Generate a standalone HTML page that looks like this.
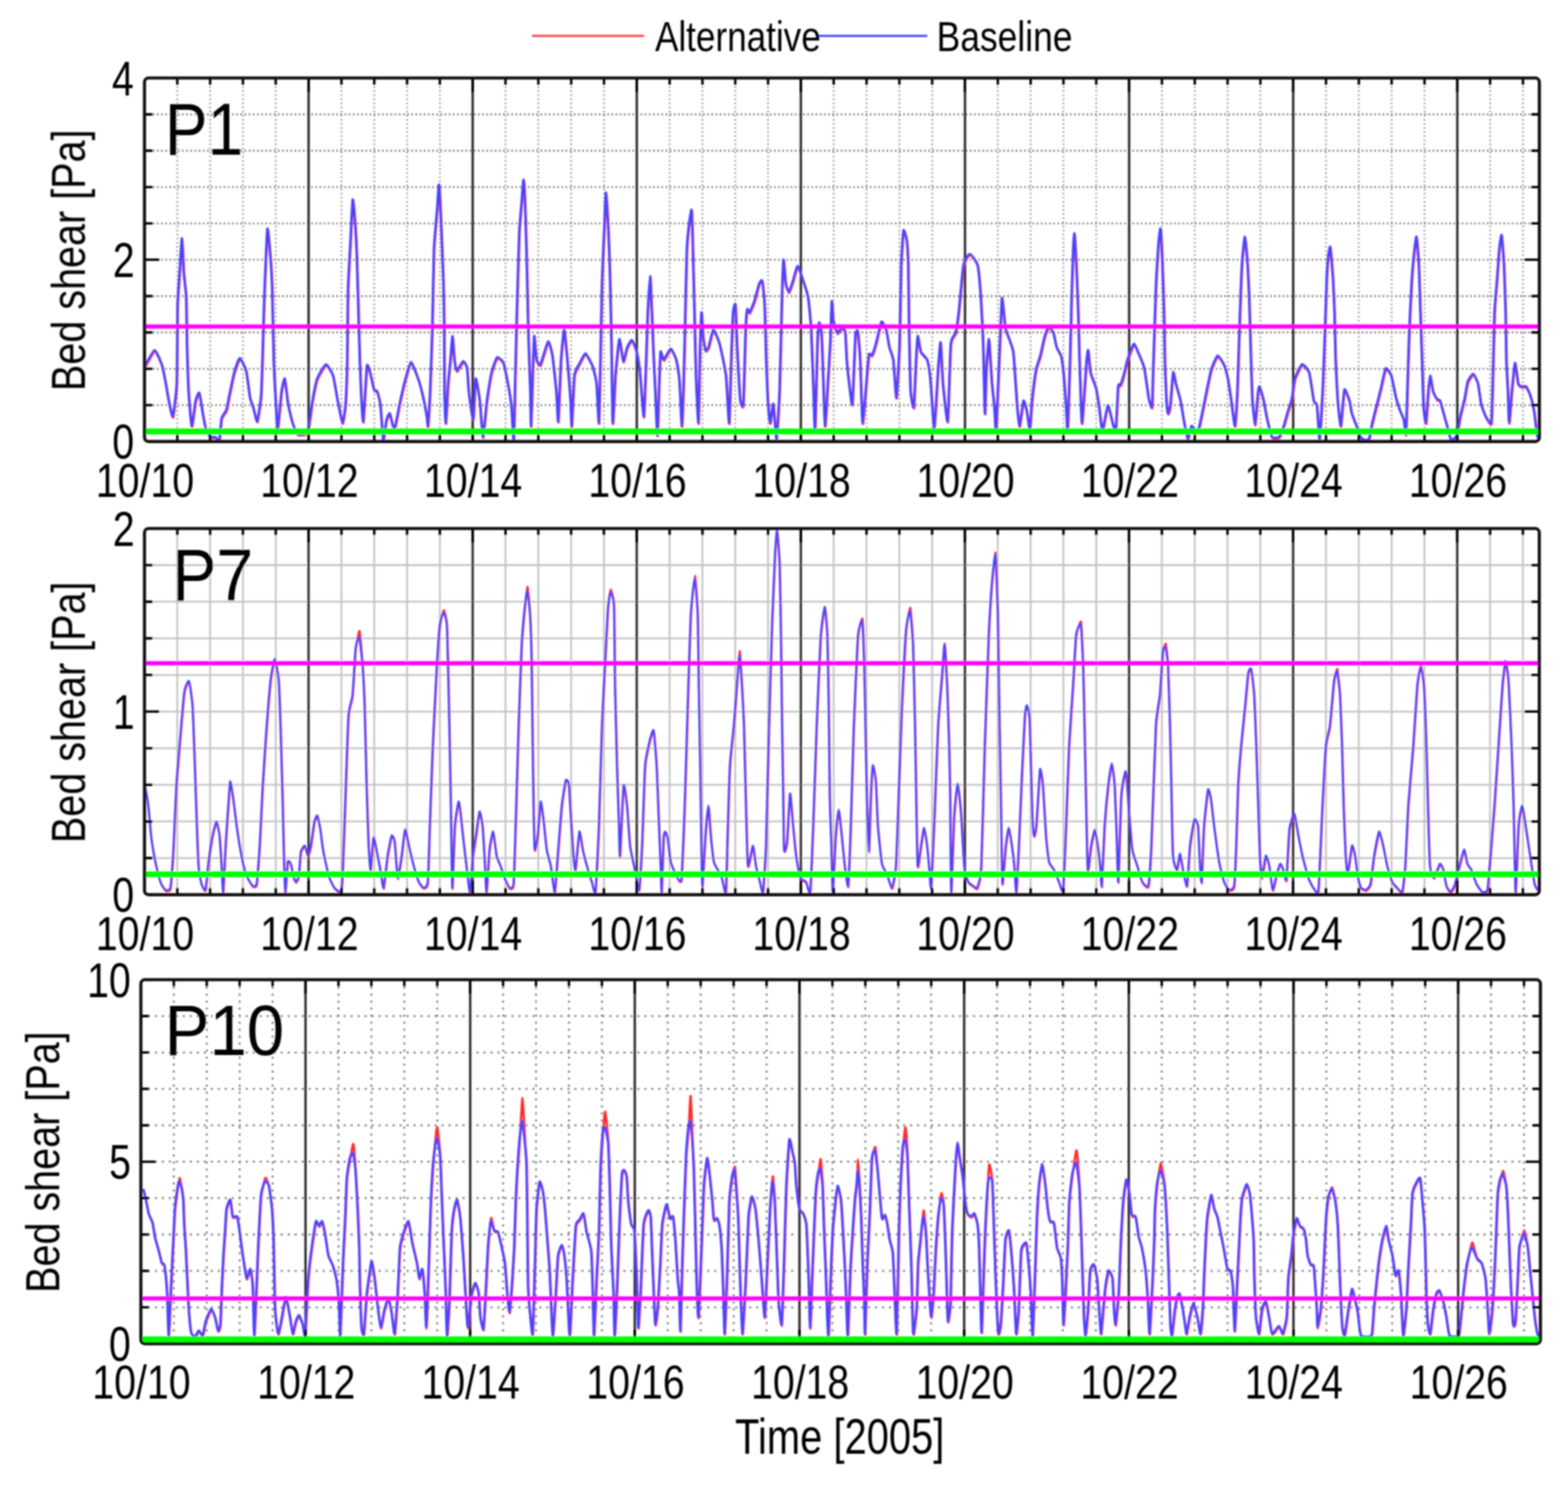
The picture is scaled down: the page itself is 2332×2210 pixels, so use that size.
<!DOCTYPE html>
<html><head><meta charset="utf-8"><title>Bed shear time series</title>
<style>html,body{margin:0;padding:0;background:#fff;}svg{display:block;}</style>
</head><body>
<svg xmlns="http://www.w3.org/2000/svg" width="2332" height="2210" viewBox="0 0 2332 2210">
<rect width="2332" height="2210" fill="#fff"/>
<defs><filter id="soft" x="0" y="0" width="2332" height="2210" filterUnits="userSpaceOnUse"><feGaussianBlur stdDeviation="0.8"/></filter></defs>
<g filter="url(#soft)">
<line x1="791" y1="53.4" x2="958" y2="53.4" stroke="#ff4848" stroke-width="3.4"/>
<line x1="1216" y1="53.4" x2="1379" y2="53.4" stroke="#4848ff" stroke-width="3.4"/>
<text transform="matrix(0.8381 0 0 1 974.20 75.98)" font-family='"Liberation Sans", Arial, sans-serif' font-size="62.26" fill="#000" >Alternative</text>
<text transform="matrix(0.8323 0 0 1 1393.09 76.27)" font-family='"Liberation Sans", Arial, sans-serif' font-size="63.22" fill="#000" >Baseline</text>
<line x1="214.9" y1="602.5" x2="2289.4" y2="602.5" stroke="#747474" stroke-width="2.6" stroke-dasharray="2.4 3.8"/>
<line x1="214.9" y1="548.5" x2="2289.4" y2="548.5" stroke="#747474" stroke-width="2.6" stroke-dasharray="2.4 3.8"/>
<line x1="214.9" y1="494.4" x2="2289.4" y2="494.4" stroke="#747474" stroke-width="2.6" stroke-dasharray="2.4 3.8"/>
<line x1="214.9" y1="440.4" x2="2289.4" y2="440.4" stroke="#747474" stroke-width="2.6" stroke-dasharray="2.4 3.8"/>
<line x1="214.9" y1="386.3" x2="2289.4" y2="386.3" stroke="#747474" stroke-width="2.6" stroke-dasharray="2.4 3.8"/>
<line x1="214.9" y1="332.2" x2="2289.4" y2="332.2" stroke="#747474" stroke-width="2.6" stroke-dasharray="2.4 3.8"/>
<line x1="214.9" y1="278.2" x2="2289.4" y2="278.2" stroke="#747474" stroke-width="2.6" stroke-dasharray="2.4 3.8"/>
<line x1="214.9" y1="224.1" x2="2289.4" y2="224.1" stroke="#747474" stroke-width="2.6" stroke-dasharray="2.4 3.8"/>
<line x1="214.9" y1="170.1" x2="2289.4" y2="170.1" stroke="#747474" stroke-width="2.6" stroke-dasharray="2.4 3.8"/>
<line x1="263.7" y1="116" x2="263.7" y2="656.6" stroke="#8c8c8c" stroke-width="2.4" stroke-dasharray="2.2 3.9"/>
<line x1="312.5" y1="116" x2="312.5" y2="656.6" stroke="#8c8c8c" stroke-width="2.4" stroke-dasharray="2.2 3.9"/>
<line x1="361.3" y1="116" x2="361.3" y2="656.6" stroke="#8c8c8c" stroke-width="2.4" stroke-dasharray="2.2 3.9"/>
<line x1="410.1" y1="116" x2="410.1" y2="656.6" stroke="#8c8c8c" stroke-width="2.4" stroke-dasharray="2.2 3.9"/>
<line x1="507.8" y1="116" x2="507.8" y2="656.6" stroke="#8c8c8c" stroke-width="2.4" stroke-dasharray="2.2 3.9"/>
<line x1="556.6" y1="116" x2="556.6" y2="656.6" stroke="#8c8c8c" stroke-width="2.4" stroke-dasharray="2.2 3.9"/>
<line x1="605.4" y1="116" x2="605.4" y2="656.6" stroke="#8c8c8c" stroke-width="2.4" stroke-dasharray="2.2 3.9"/>
<line x1="654.2" y1="116" x2="654.2" y2="656.6" stroke="#8c8c8c" stroke-width="2.4" stroke-dasharray="2.2 3.9"/>
<line x1="751.8" y1="116" x2="751.8" y2="656.6" stroke="#8c8c8c" stroke-width="2.4" stroke-dasharray="2.2 3.9"/>
<line x1="800.6" y1="116" x2="800.6" y2="656.6" stroke="#8c8c8c" stroke-width="2.4" stroke-dasharray="2.2 3.9"/>
<line x1="849.5" y1="116" x2="849.5" y2="656.6" stroke="#8c8c8c" stroke-width="2.4" stroke-dasharray="2.2 3.9"/>
<line x1="898.3" y1="116" x2="898.3" y2="656.6" stroke="#8c8c8c" stroke-width="2.4" stroke-dasharray="2.2 3.9"/>
<line x1="995.9" y1="116" x2="995.9" y2="656.6" stroke="#8c8c8c" stroke-width="2.4" stroke-dasharray="2.2 3.9"/>
<line x1="1044.7" y1="116" x2="1044.7" y2="656.6" stroke="#8c8c8c" stroke-width="2.4" stroke-dasharray="2.2 3.9"/>
<line x1="1093.5" y1="116" x2="1093.5" y2="656.6" stroke="#8c8c8c" stroke-width="2.4" stroke-dasharray="2.2 3.9"/>
<line x1="1142.3" y1="116" x2="1142.3" y2="656.6" stroke="#8c8c8c" stroke-width="2.4" stroke-dasharray="2.2 3.9"/>
<line x1="1239.9" y1="116" x2="1239.9" y2="656.6" stroke="#8c8c8c" stroke-width="2.4" stroke-dasharray="2.2 3.9"/>
<line x1="1288.8" y1="116" x2="1288.8" y2="656.6" stroke="#8c8c8c" stroke-width="2.4" stroke-dasharray="2.2 3.9"/>
<line x1="1337.6" y1="116" x2="1337.6" y2="656.6" stroke="#8c8c8c" stroke-width="2.4" stroke-dasharray="2.2 3.9"/>
<line x1="1386.4" y1="116" x2="1386.4" y2="656.6" stroke="#8c8c8c" stroke-width="2.4" stroke-dasharray="2.2 3.9"/>
<line x1="1484" y1="116" x2="1484" y2="656.6" stroke="#8c8c8c" stroke-width="2.4" stroke-dasharray="2.2 3.9"/>
<line x1="1532.8" y1="116" x2="1532.8" y2="656.6" stroke="#8c8c8c" stroke-width="2.4" stroke-dasharray="2.2 3.9"/>
<line x1="1581.6" y1="116" x2="1581.6" y2="656.6" stroke="#8c8c8c" stroke-width="2.4" stroke-dasharray="2.2 3.9"/>
<line x1="1630.4" y1="116" x2="1630.4" y2="656.6" stroke="#8c8c8c" stroke-width="2.4" stroke-dasharray="2.2 3.9"/>
<line x1="1728.1" y1="116" x2="1728.1" y2="656.6" stroke="#8c8c8c" stroke-width="2.4" stroke-dasharray="2.2 3.9"/>
<line x1="1776.9" y1="116" x2="1776.9" y2="656.6" stroke="#8c8c8c" stroke-width="2.4" stroke-dasharray="2.2 3.9"/>
<line x1="1825.7" y1="116" x2="1825.7" y2="656.6" stroke="#8c8c8c" stroke-width="2.4" stroke-dasharray="2.2 3.9"/>
<line x1="1874.5" y1="116" x2="1874.5" y2="656.6" stroke="#8c8c8c" stroke-width="2.4" stroke-dasharray="2.2 3.9"/>
<line x1="1972.1" y1="116" x2="1972.1" y2="656.6" stroke="#8c8c8c" stroke-width="2.4" stroke-dasharray="2.2 3.9"/>
<line x1="2020.9" y1="116" x2="2020.9" y2="656.6" stroke="#8c8c8c" stroke-width="2.4" stroke-dasharray="2.2 3.9"/>
<line x1="2069.7" y1="116" x2="2069.7" y2="656.6" stroke="#8c8c8c" stroke-width="2.4" stroke-dasharray="2.2 3.9"/>
<line x1="2118.6" y1="116" x2="2118.6" y2="656.6" stroke="#8c8c8c" stroke-width="2.4" stroke-dasharray="2.2 3.9"/>
<line x1="2216.2" y1="116" x2="2216.2" y2="656.6" stroke="#8c8c8c" stroke-width="2.4" stroke-dasharray="2.2 3.9"/>
<line x1="2265" y1="116" x2="2265" y2="656.6" stroke="#8c8c8c" stroke-width="2.4" stroke-dasharray="2.2 3.9"/>
<line x1="459" y1="116" x2="459" y2="656.6" stroke="#2a2a2a" stroke-width="3.5"/>
<line x1="703" y1="116" x2="703" y2="656.6" stroke="#2a2a2a" stroke-width="3.5"/>
<line x1="947.1" y1="116" x2="947.1" y2="656.6" stroke="#2a2a2a" stroke-width="3.5"/>
<line x1="1191.1" y1="116" x2="1191.1" y2="656.6" stroke="#2a2a2a" stroke-width="3.5"/>
<line x1="1435.2" y1="116" x2="1435.2" y2="656.6" stroke="#2a2a2a" stroke-width="3.5"/>
<line x1="1679.3" y1="116" x2="1679.3" y2="656.6" stroke="#2a2a2a" stroke-width="3.5"/>
<line x1="1923.3" y1="116" x2="1923.3" y2="656.6" stroke="#2a2a2a" stroke-width="3.5"/>
<line x1="2167.4" y1="116" x2="2167.4" y2="656.6" stroke="#2a2a2a" stroke-width="3.5"/>
<path d="M215.6,546.6C216.8,544.6 228.4,522.7 230.5,522.4C232.6,522.1 239.8,540.0 241.1,543.5C242.4,547.0 244.9,560.1 245.8,564.6C246.7,569.1 250.6,592.7 251.6,597.4C252.6,602.1 256.5,623.0 257.5,620.9C258.5,618.8 262.8,585.5 263.4,571.6C264.0,557.7 264.2,468.7 264.6,454.4C265.0,440.1 267.6,408.7 268.1,400.5C268.6,392.3 270.6,355.3 271.1,355.9C271.6,356.5 273.4,400.3 273.9,407.5C274.4,414.7 277.0,433.8 277.4,442.6C277.8,451.4 278.3,501.3 278.6,513.0C278.9,524.7 280.4,573.2 281.0,583.4C281.6,593.6 284.7,633.8 285.6,635.0C286.5,636.2 290.6,601.6 291.5,597.5C292.4,593.4 296.0,584.1 296.9,585.7C297.8,587.3 301.3,611.7 302.1,616.2C302.9,620.7 305.8,636.7 306.8,639.6C307.8,642.5 312.6,650.4 313.8,651.4C315.0,652.4 319.7,651.0 320.8,651.4C321.9,651.8 325.9,658.5 326.7,656.1C327.5,653.8 329.3,626.9 330.2,623.2C331.1,619.5 336.2,614.4 337.2,611.5C338.2,608.6 340.9,592.8 341.9,588.1C342.9,583.4 347.7,559.7 349.0,555.2C350.3,550.7 355.7,534.3 357.2,534.1C358.7,533.9 365.3,548.0 366.6,552.9C367.9,557.8 371.5,588.3 372.4,592.8C373.3,597.3 376.2,603.9 377.1,606.8C378.0,609.7 382.0,629.3 383.0,627.9C384.0,626.5 388.1,599.0 388.8,590.4C389.5,581.8 390.8,537.1 391.2,524.8C391.6,512.5 393.0,457.9 393.6,442.6C394.2,427.4 397.4,346.5 398.2,341.8C399.0,337.1 402.3,379.0 402.9,386.4C403.5,393.8 404.9,418.4 405.3,430.9C405.7,443.4 407.1,521.8 407.6,536.5C408.1,551.2 410.6,598.2 411.1,606.8C411.6,615.4 412.8,641.6 413.5,639.6C414.2,637.6 418.4,589.6 419.3,583.4C420.2,577.1 423.2,563.2 424.0,564.6C424.8,566.0 427.7,594.3 428.7,599.8C429.7,605.3 434.5,626.4 435.7,630.3C436.9,634.2 441.2,645.3 442.8,646.7C444.4,648.1 453.1,647.3 454.5,646.7C455.9,646.1 458.3,643.7 459.2,639.6C460.1,635.5 464.2,603.8 465.3,597.5C466.4,591.2 470.6,569.1 472.3,564.6C474.0,560.1 483.2,543.9 485.2,543.5C487.2,543.1 494.3,555.4 495.8,559.9C497.3,564.4 501.6,591.6 502.8,597.5C504.0,603.4 508.8,629.9 509.8,630.3C510.8,630.7 513.9,609.9 514.5,602.1C515.1,594.3 516.6,550.8 516.9,536.5C517.2,522.2 517.8,444.6 518.1,430.9C518.5,417.2 520.5,383.3 521.1,372.3C521.7,361.3 524.5,301.7 525.1,298.4C525.7,295.1 528.1,325.9 528.6,332.4C529.1,339.0 530.6,366.8 531.0,377.0C531.4,387.2 532.9,441.1 533.3,454.4C533.7,467.7 535.2,524.8 535.6,536.5C536.0,548.2 537.6,587.5 538.0,595.1C538.4,602.7 540.1,632.0 540.8,627.9C541.5,623.8 545.4,552.0 546.2,545.9C547.0,539.8 550.0,552.3 550.9,555.2C551.8,558.1 555.9,578.6 556.8,581.0C557.7,583.4 560.6,581.6 561.4,583.4C562.2,585.2 565.4,596.6 566.1,602.1C566.8,607.6 569.3,644.5 569.7,649.0C570.1,653.5 570.3,658.1 570.8,656.1C571.3,654.1 574.7,628.9 575.5,625.6C576.3,622.3 579.4,615.4 580.2,616.2C581.0,617.0 584.2,633.4 584.9,635.0C585.6,636.6 587.5,637.9 588.4,635.0C589.3,632.1 594.1,605.7 595.4,599.8C596.7,593.9 602.3,569.6 603.7,564.6C605.1,559.6 610.3,540.0 611.9,540.0C613.5,540.0 620.9,560.4 622.4,564.6C623.9,568.8 628.4,585.7 629.5,590.4C630.6,595.1 634.7,617.2 635.3,620.9C635.9,624.6 636.6,637.7 637.0,635.0C637.4,632.3 639.5,600.2 640.0,588.1C640.5,576.0 643.0,507.6 643.5,489.6C644.0,471.6 645.3,387.0 645.9,372.3C646.5,357.6 650.0,321.7 650.6,313.7C651.2,305.7 652.9,274.8 653.4,276.2C653.9,277.6 655.9,318.2 656.4,330.1C656.9,342.0 659.5,405.9 659.9,419.2C660.3,432.5 661.0,475.5 661.1,489.6C661.2,503.7 661.4,576.4 661.6,588.1C661.8,599.8 663.0,631.7 663.5,630.3C664.0,628.9 666.4,579.4 667.0,571.6C667.6,563.8 670.0,542.4 670.5,536.5C671.0,530.6 673.0,501.3 673.5,501.3C674.0,501.3 675.9,532.2 676.4,536.5C676.9,540.8 678.8,552.7 679.9,552.9C681.0,553.1 688.0,539.2 689.3,538.8C690.6,538.4 694.4,544.7 695.1,548.2C695.8,551.7 696.9,575.3 697.5,581.0C698.1,586.7 701.6,612.7 702.2,616.2C702.8,619.7 704.0,627.5 704.5,623.2C705.0,618.9 707.2,566.7 708.0,564.6C708.8,562.5 713.2,590.3 714.1,597.5C715.0,604.7 717.9,651.4 718.8,651.4C719.7,651.4 723.6,605.5 724.7,597.5C725.8,589.5 730.4,560.6 731.7,555.2C733.0,549.8 738.4,534.2 739.9,533.0C741.4,531.8 747.9,537.8 749.3,541.2C750.7,544.6 755.3,568.7 756.3,574.0C757.3,579.3 760.3,597.7 761.0,604.5C761.7,611.3 764.0,659.8 764.5,656.1C765.0,652.4 766.5,575.7 766.9,559.9C767.3,544.1 768.7,483.7 769.2,466.1C769.7,448.5 772.1,362.6 772.7,348.9C773.3,335.2 775.8,308.6 776.3,302.0C776.9,295.4 778.8,267.2 779.3,269.1C779.8,271.1 781.7,313.3 782.1,325.4C782.5,337.5 784.2,400.8 784.5,414.5C784.8,428.2 785.7,475.5 786.1,489.6C786.5,503.7 788.9,571.3 789.2,583.4C789.6,595.5 790.0,637.0 790.3,635.0C790.6,633.0 792.3,571.0 792.7,559.9C793.1,548.8 794.5,503.2 795.0,501.3C795.5,499.4 797.7,533.0 798.5,536.5C799.3,540.0 803.0,545.8 804.4,543.5C805.8,541.2 814.2,510.7 815.7,509.5C817.2,508.3 821.0,523.3 822.0,529.5C823.0,535.7 827.2,575.2 827.9,583.4C828.6,591.6 830.1,631.8 830.7,627.9C831.3,624.0 834.2,547.8 834.9,536.5C835.6,525.2 838.8,491.9 839.6,491.9C840.4,491.9 843.5,527.9 844.3,536.5C845.1,545.1 848.5,586.9 849.0,595.1C849.5,603.3 850.3,637.9 850.8,635.0C851.3,632.1 853.8,567.7 854.8,559.9C855.8,552.1 861.6,543.9 863.0,541.2C864.4,538.5 869.6,526.7 871.2,527.1C872.8,527.5 880.4,542.2 881.8,545.9C883.2,549.6 886.9,564.6 887.7,571.6C888.5,578.6 890.7,633.2 891.2,630.3C891.7,627.4 893.1,554.1 893.5,536.5C893.9,518.9 895.4,435.8 895.9,419.2C896.4,402.6 898.9,348.0 899.4,337.1C899.9,326.2 901.2,287.3 901.7,287.9C902.2,288.5 904.8,334.2 905.3,344.2C905.8,354.2 907.2,393.4 907.6,407.5C908.0,421.6 909.5,494.4 909.9,513.0C910.2,531.6 911.3,626.4 911.8,630.3C912.3,634.2 915.0,570.3 915.8,559.9C916.6,549.5 920.7,507.8 921.7,506.0C922.7,504.2 926.5,537.8 927.5,538.8C928.5,539.8 932.3,520.3 933.4,517.7C934.5,515.1 939.2,506.6 940.4,507.2C941.6,507.8 946.5,520.8 947.5,524.8C948.5,528.8 951.3,547.2 952.2,555.2C953.1,563.2 957.2,622.5 958.0,620.9C958.8,619.3 961.0,549.4 961.5,536.5C962.0,523.6 963.4,476.5 963.9,466.1C964.4,455.7 966.9,412.2 967.4,412.2C967.9,412.2 969.6,456.7 970.0,466.1C970.4,475.5 971.9,515.0 972.3,524.8C972.7,534.6 974.6,573.0 975.1,583.4C975.6,593.8 977.8,649.0 978.2,649.0C978.7,649.0 980.1,593.8 980.5,583.4C980.9,573.0 982.3,528.7 982.9,524.8C983.5,520.9 986.3,536.9 987.6,536.5C988.9,536.1 996.5,520.1 998.1,520.1C999.7,520.1 1005.2,532.6 1006.3,536.5C1007.4,540.4 1010.3,558.8 1011.0,567.0C1011.7,575.2 1014.0,633.6 1014.5,635.0C1015.0,636.4 1016.5,595.5 1016.9,583.4C1017.3,571.3 1018.8,507.2 1019.2,489.6C1019.6,472.0 1021.5,385.0 1022.0,372.3C1022.5,359.6 1024.5,342.0 1025.1,337.1C1025.7,332.2 1028.6,310.8 1029.1,313.7C1029.6,316.6 1030.7,359.6 1031.0,372.3C1031.3,385.0 1032.9,450.5 1033.3,466.1C1033.7,481.7 1035.1,546.2 1035.6,559.9C1036.1,573.6 1038.7,633.2 1039.2,630.3C1039.7,627.4 1041.1,538.5 1041.5,524.8C1041.9,511.1 1043.5,468.1 1043.9,466.1C1044.3,464.1 1045.7,496.6 1046.2,501.3C1046.7,506.0 1049.0,521.0 1049.7,522.4C1050.4,523.8 1053.4,520.2 1054.4,517.7C1055.4,515.2 1060.0,492.3 1061.4,491.9C1062.8,491.5 1069.2,507.3 1070.8,513.0C1072.4,518.7 1079.0,550.1 1080.2,559.9C1081.4,569.7 1084.2,633.2 1084.9,630.3C1085.6,627.4 1087.9,538.5 1088.4,524.8C1088.9,511.1 1090.3,472.0 1090.8,466.1C1091.3,460.2 1093.8,450.5 1094.3,454.4C1094.8,458.3 1096.0,501.3 1096.6,513.0C1097.2,524.7 1100.5,587.7 1101.3,595.1C1102.1,602.5 1105.3,610.9 1106.0,602.1C1106.7,593.3 1109.0,501.3 1109.5,489.6C1110.0,477.9 1111.4,463.4 1111.9,461.4C1112.4,459.4 1114.5,467.1 1115.4,466.1C1116.3,465.1 1121.2,453.2 1122.4,449.7C1123.6,446.2 1128.5,426.4 1129.5,423.9C1130.5,421.4 1133.4,416.7 1134.1,419.2C1134.8,421.7 1137.2,444.6 1137.7,454.4C1138.2,464.2 1139.6,524.8 1140.0,536.5C1140.4,548.2 1141.9,587.3 1142.4,595.1C1142.9,602.9 1145.2,629.7 1145.9,630.3C1146.6,630.9 1149.8,600.1 1150.6,602.1C1151.4,604.1 1154.5,655.3 1155.3,653.7C1156.1,652.1 1159.2,601.0 1159.9,583.4C1160.6,565.8 1163.0,458.9 1163.5,442.6C1164.0,426.3 1165.3,389.2 1165.8,387.6C1166.3,386.0 1168.6,419.9 1169.3,423.9C1170.0,427.9 1173.1,436.0 1174.0,435.6C1174.9,435.2 1178.8,422.4 1179.9,419.2C1181.0,416.0 1185.6,396.9 1186.9,396.9C1188.2,396.9 1193.8,415.4 1195.1,419.2C1196.4,423.0 1201.2,436.7 1202.2,442.6C1203.2,448.5 1206.1,477.9 1206.8,489.6C1207.5,501.3 1209.9,570.5 1210.4,583.4C1210.9,596.3 1212.2,650.3 1212.7,644.4C1213.2,638.5 1215.7,526.6 1216.2,513.0C1216.7,499.4 1218.3,482.8 1218.8,481.4C1219.3,480.0 1221.8,490.1 1222.3,496.6C1222.8,503.1 1224.3,548.4 1224.7,559.9C1225.1,571.4 1226.9,634.0 1227.5,635.0C1228.1,636.0 1231.1,581.8 1231.7,571.6C1232.3,561.4 1234.7,523.2 1235.2,513.0C1235.7,502.8 1237.2,452.6 1237.6,449.7C1238.0,446.8 1239.2,473.9 1239.9,477.8C1240.6,481.7 1244.8,495.6 1245.8,496.6C1246.8,497.6 1250.6,489.8 1251.6,489.6C1252.6,489.4 1256.8,490.4 1257.5,494.3C1258.2,498.2 1259.3,530.1 1259.8,536.5C1260.3,542.9 1262.7,566.1 1263.4,571.6C1264.1,577.1 1267.3,608.0 1268.1,602.1C1268.9,596.2 1272.0,510.3 1272.7,501.3C1273.4,492.3 1275.7,491.4 1276.3,494.3C1276.9,497.2 1279.2,525.2 1279.8,536.5C1280.4,547.8 1282.6,626.4 1283.3,630.3C1284.0,634.2 1287.2,591.8 1288.0,583.4C1288.8,575.0 1291.9,534.0 1292.7,529.5C1293.5,525.0 1296.5,530.9 1297.4,529.5C1298.3,528.1 1302.0,517.1 1303.2,513.0C1304.4,508.9 1310.1,482.0 1311.4,480.2C1312.7,478.4 1317.5,488.8 1318.5,491.9C1319.5,495.0 1322.3,514.0 1323.2,517.7C1324.1,521.4 1328.1,530.2 1329.0,536.5C1329.9,542.8 1332.9,594.8 1333.7,592.8C1334.5,590.8 1337.8,529.4 1338.4,513.0C1339.0,496.6 1340.3,409.9 1340.8,395.8C1341.3,381.7 1343.6,347.3 1344.3,344.2C1345.0,341.1 1348.4,353.9 1349.0,358.2C1349.6,362.5 1351.0,384.9 1351.3,395.8C1351.6,406.8 1352.2,474.0 1352.5,489.6C1352.8,505.2 1354.2,573.6 1354.8,583.4C1355.4,593.2 1358.8,610.7 1359.5,606.8C1360.2,602.9 1362.5,545.3 1363.0,536.5C1363.5,527.7 1364.8,502.3 1365.4,501.3C1366.0,500.3 1368.9,521.9 1370.1,524.8C1371.3,527.7 1378.3,533.2 1379.5,536.5C1380.7,539.8 1383.2,556.2 1384.1,564.6C1385.0,573.0 1389.0,638.7 1390.0,637.3C1391.0,635.9 1395.1,558.8 1395.9,548.2C1396.7,537.7 1398.8,508.8 1399.4,510.7C1400.0,512.7 1402.0,561.8 1402.9,571.6C1403.8,581.4 1408.9,632.8 1409.9,627.9C1410.9,623.0 1413.6,523.9 1414.6,513.0C1415.6,502.1 1420.7,500.5 1421.7,496.6C1422.7,492.7 1425.4,474.5 1426.4,466.1C1427.4,457.7 1432.0,403.0 1433.4,395.8C1434.8,388.6 1441.0,379.3 1442.8,379.3C1444.6,379.3 1453.1,390.5 1454.5,395.8C1455.9,401.1 1458.5,432.8 1459.2,442.6C1459.9,452.4 1462.2,498.5 1462.7,513.0C1463.2,527.5 1464.9,613.3 1465.3,616.2C1465.7,619.1 1467.1,557.4 1467.6,548.2C1468.1,539.0 1470.7,507.0 1471.2,506.0C1471.7,505.0 1473.1,531.0 1473.5,536.5C1473.9,542.0 1475.3,565.7 1475.8,571.6C1476.3,577.5 1478.9,600.7 1479.4,606.8C1479.9,612.9 1481.3,645.4 1481.7,644.4C1482.1,643.4 1483.6,606.1 1484.1,595.1C1484.6,584.1 1487.1,525.5 1487.6,513.0C1488.1,500.5 1490.1,448.9 1490.6,445.0C1491.1,441.1 1493.0,462.4 1493.4,466.1C1493.8,469.8 1495.1,486.3 1495.8,489.6C1496.5,492.9 1500.6,503.1 1501.6,506.0C1502.6,508.9 1506.7,519.3 1507.5,524.8C1508.3,530.3 1510.5,564.8 1511.0,571.6C1511.5,578.4 1512.9,601.5 1513.4,606.8C1513.9,612.1 1516.1,635.8 1516.9,635.0C1517.7,634.2 1521.8,599.5 1522.7,597.5C1523.6,595.5 1526.6,608.0 1527.4,611.5C1528.2,615.0 1531.4,641.0 1532.1,639.6C1532.8,638.2 1534.8,602.5 1535.6,595.1C1536.4,587.7 1540.5,555.9 1541.5,550.6C1542.5,545.3 1546.3,535.9 1547.4,531.8C1548.5,527.7 1553.3,505.0 1554.4,501.3C1555.5,497.6 1559.2,487.6 1560.3,487.2C1561.4,486.8 1566.3,494.1 1567.3,496.6C1568.3,499.1 1571.0,514.8 1572.0,517.7C1573.0,520.6 1578.1,528.3 1579.0,531.8C1579.9,535.3 1582.0,553.6 1582.6,559.9C1583.2,566.1 1585.6,600.0 1586.1,606.8C1586.6,613.6 1587.9,647.9 1588.4,642.0C1588.9,636.1 1591.4,553.1 1591.9,536.5C1592.4,519.9 1593.9,456.3 1594.3,442.6C1594.7,428.9 1596.2,380.1 1596.6,372.3C1596.9,364.5 1598.1,346.9 1598.5,348.9C1598.9,350.9 1600.8,386.0 1601.3,395.8C1601.8,405.6 1603.7,454.4 1604.1,466.1C1604.5,477.8 1605.5,522.8 1606.0,536.5C1606.5,550.2 1608.8,627.4 1609.5,630.3C1610.2,633.2 1613.6,579.4 1614.2,571.6C1614.8,563.8 1616.2,540.6 1616.6,536.5C1617.0,532.4 1618.4,520.8 1618.9,522.4C1619.4,524.0 1621.4,550.5 1622.4,555.2C1623.4,559.9 1629.5,574.4 1630.6,578.7C1631.7,583.0 1634.5,601.5 1635.3,606.8C1636.1,612.1 1638.9,642.2 1640.0,642.0C1641.1,641.8 1646.9,605.5 1648.2,604.5C1649.5,603.5 1654.3,627.2 1655.3,630.3C1656.3,633.4 1659.2,646.5 1659.9,642.0C1660.6,637.5 1662.9,582.0 1663.5,576.3C1664.1,570.6 1666.3,575.4 1667.0,574.0C1667.7,572.6 1670.8,563.0 1671.7,559.9C1672.6,556.8 1676.2,540.4 1677.5,536.5C1678.8,532.6 1685.5,513.8 1686.9,513.0C1688.3,512.2 1692.6,524.2 1693.9,527.1C1695.2,530.0 1700.9,542.5 1702.2,548.2C1703.5,553.9 1708.2,590.2 1709.2,595.1C1710.2,600.0 1713.4,609.7 1713.9,606.8C1714.4,603.9 1715.0,569.7 1715.3,559.9C1715.6,550.1 1717.2,501.3 1717.6,489.6C1718.0,477.9 1719.5,429.8 1720.0,419.2C1720.5,408.6 1723.0,369.4 1723.5,362.9C1724.0,356.5 1726.0,339.1 1726.5,341.8C1727.0,344.5 1729.0,385.4 1729.4,395.8C1729.8,406.2 1731.4,454.4 1731.7,466.1C1732.0,477.8 1732.6,525.8 1732.9,536.5C1733.2,547.2 1734.8,588.5 1735.2,595.1C1735.6,601.7 1737.1,615.4 1737.6,616.2C1738.1,617.0 1740.5,609.6 1741.1,604.5C1741.7,599.4 1744.6,557.9 1745.3,555.2C1746.0,552.5 1748.4,568.1 1749.3,571.6C1750.2,575.1 1755.3,593.0 1756.3,597.5C1757.3,602.0 1760.1,620.9 1761.0,625.6C1761.9,630.3 1765.9,652.9 1766.9,653.7C1767.9,654.5 1771.7,635.8 1772.7,635.0C1773.7,634.2 1777.8,643.6 1778.6,644.4C1779.4,645.2 1781.3,646.5 1782.1,644.4C1782.9,642.2 1786.9,623.7 1788.0,618.6C1789.1,613.5 1793.8,589.1 1795.0,583.4C1796.2,577.7 1800.7,555.0 1802.1,550.6C1803.5,546.2 1809.8,531.2 1811.4,530.6C1813.0,530.0 1819.5,540.7 1820.8,543.5C1822.1,546.3 1825.8,560.3 1826.7,564.6C1827.6,568.9 1830.5,589.2 1831.4,595.1C1832.3,601.0 1836.4,636.0 1837.2,635.0C1838.0,634.0 1840.3,593.6 1840.8,583.4C1841.3,573.2 1842.7,524.7 1843.1,513.0C1843.5,501.3 1845.1,452.8 1845.5,442.6C1845.9,432.4 1847.3,398.5 1847.8,391.1C1848.3,383.7 1851.3,353.2 1852.0,353.6C1852.7,354.0 1855.5,388.4 1856.0,395.8C1856.5,403.2 1857.9,431.9 1858.3,442.6C1858.7,453.4 1860.3,512.1 1860.7,524.8C1861.1,537.5 1862.5,586.1 1863.0,595.1C1863.5,604.1 1866.6,633.2 1867.3,632.6C1868.0,632.0 1870.7,592.8 1871.2,588.1C1871.7,583.4 1872.9,575.7 1873.6,576.3C1874.3,576.9 1878.5,591.0 1879.5,595.1C1880.5,599.2 1884.2,620.9 1885.3,625.6C1886.4,630.3 1890.9,649.2 1892.4,651.4C1893.9,653.5 1901.4,652.8 1902.9,651.4C1904.4,650.0 1908.8,638.1 1909.9,635.0C1911.0,631.9 1914.8,617.2 1915.8,613.9C1916.8,610.6 1920.8,599.2 1921.7,595.1C1922.6,591.0 1925.1,568.9 1926.4,564.6C1927.7,560.3 1935.1,544.3 1936.9,543.5C1938.7,542.7 1946.0,550.7 1947.5,555.2C1949.0,559.7 1953.5,593.4 1954.5,597.5C1955.5,601.6 1958.5,599.8 1959.2,604.5C1959.9,609.2 1962.2,655.5 1962.9,653.7C1963.6,651.9 1966.9,597.1 1967.6,583.4C1968.3,569.7 1970.7,503.3 1971.2,489.6C1971.7,475.9 1973.1,428.0 1973.5,419.2C1973.9,410.4 1975.3,388.2 1975.8,384.0C1976.2,379.8 1978.3,366.3 1978.9,368.8C1979.5,371.3 1982.4,406.4 1982.9,414.5C1983.4,422.6 1984.9,455.9 1985.2,466.1C1985.5,476.3 1986.5,525.8 1986.9,536.5C1987.3,547.2 1989.3,586.9 1989.9,595.1C1990.5,603.3 1993.8,636.2 1994.6,635.0C1995.4,633.8 1998.9,584.1 2000.0,581.0C2001.1,577.9 2006.6,594.6 2007.5,597.5C2008.4,600.4 2010.1,613.1 2011.0,616.2C2011.9,619.3 2017.0,632.1 2018.1,635.0C2019.2,637.9 2022.8,649.6 2023.9,651.4C2025.0,653.2 2029.9,655.9 2031.0,656.1C2032.1,656.3 2035.9,655.9 2036.8,653.7C2037.7,651.6 2040.6,634.2 2041.5,630.3C2042.4,626.4 2046.3,611.1 2047.4,606.8C2048.5,602.5 2053.2,583.5 2054.4,578.7C2055.6,573.9 2060.1,551.0 2061.4,549.4C2062.7,547.8 2068.4,556.3 2069.7,559.9C2071.0,563.5 2075.6,588.5 2076.7,592.8C2077.8,597.1 2081.6,608.8 2082.6,611.5C2083.6,614.2 2087.7,622.7 2088.4,625.6C2089.1,628.5 2091.0,652.2 2091.5,646.7C2092.0,641.2 2093.9,573.0 2094.3,559.9C2094.7,546.8 2096.1,501.3 2096.6,489.6C2097.1,477.9 2099.5,428.6 2100.1,419.2C2100.7,409.8 2103.1,382.5 2103.7,377.0C2104.3,371.5 2106.6,352.0 2107.2,353.6C2107.8,355.2 2110.2,386.4 2110.7,395.8C2111.2,405.2 2112.6,454.4 2113.0,466.1C2113.4,477.8 2115.0,524.8 2115.4,536.5C2115.8,548.2 2117.2,599.0 2117.7,606.8C2118.2,614.6 2120.7,632.3 2121.3,630.3C2121.9,628.4 2124.3,589.3 2124.8,583.4C2125.3,577.5 2127.0,559.9 2127.6,559.9C2128.2,559.9 2131.0,580.5 2131.8,583.4C2132.6,586.3 2136.8,593.9 2137.7,595.1C2138.6,596.3 2141.5,595.5 2142.4,597.5C2143.3,599.5 2147.2,615.1 2148.2,618.6C2149.2,622.1 2153.2,636.5 2154.1,639.6C2155.0,642.7 2157.7,655.3 2158.8,656.1C2159.9,656.9 2165.8,652.1 2167.0,649.0C2168.2,645.9 2171.8,623.1 2172.8,618.6C2173.8,614.1 2177.8,599.2 2178.7,595.1C2179.6,591.0 2182.3,572.4 2183.4,569.3C2184.5,566.2 2190.3,557.4 2191.6,557.6C2192.9,557.8 2197.6,567.9 2198.6,571.6C2199.6,575.3 2202.3,598.0 2203.3,602.1C2204.3,606.2 2209.0,618.5 2210.3,620.9C2211.6,623.2 2217.6,635.4 2218.5,630.3C2219.4,625.2 2220.5,573.6 2220.9,559.9C2221.3,546.2 2222.7,477.8 2223.2,466.1C2223.7,454.4 2226.2,427.0 2226.8,419.2C2227.4,411.4 2229.7,378.0 2230.3,372.3C2230.9,366.6 2233.2,349.2 2233.8,351.2C2234.4,353.2 2236.8,386.2 2237.3,395.8C2237.8,405.4 2239.4,454.4 2239.7,466.1C2240.0,477.8 2240.5,526.7 2240.8,536.5C2241.1,546.3 2242.8,575.6 2243.2,583.4C2243.5,591.2 2244.5,630.3 2245.0,630.3C2245.5,630.3 2248.3,590.8 2249.0,583.4C2249.7,576.0 2252.9,542.2 2253.7,541.2C2254.5,540.2 2257.6,568.7 2258.4,571.6C2259.2,574.5 2262.1,575.9 2263.1,576.3C2264.1,576.7 2269.0,575.3 2270.1,576.3C2271.2,577.3 2275.0,585.2 2276.0,588.1C2277.0,591.0 2281.0,606.4 2281.9,611.5C2282.8,616.6 2286.0,645.5 2286.6,649.0C2287.2,652.5 2289.3,653.2 2289.6,653.6" fill="none" stroke="#ff2a2a" stroke-width="3.6" stroke-linejoin="round"/>
<path d="M215.0,545.0C216.2,543.0 227.8,521.1 229.9,520.8C232.0,520.5 239.2,538.4 240.5,541.9C241.8,545.4 244.3,558.5 245.2,563.0C246.1,567.5 250.0,591.1 251.0,595.8C252.0,600.5 255.9,621.4 256.9,619.3C257.9,617.1 262.2,583.9 262.8,570.0C263.4,556.1 263.6,467.1 264.0,452.8C264.4,438.5 267.0,407.1 267.5,398.9C268.0,390.7 270.0,353.7 270.5,354.3C271.0,354.9 272.8,398.7 273.3,405.9C273.8,413.1 276.4,432.2 276.8,441.0C277.2,449.8 277.7,499.7 278.0,511.4C278.3,523.1 279.8,571.6 280.4,581.8C281.0,592.0 284.1,632.2 285.0,633.4C285.9,634.6 290.0,600.0 290.9,595.9C291.8,591.8 295.4,582.5 296.3,584.1C297.2,585.7 300.7,610.1 301.5,614.6C302.3,619.1 305.2,635.1 306.2,638.0C307.2,640.9 312.0,648.8 313.2,649.8C314.4,650.8 319.1,649.4 320.2,649.8C321.3,650.2 325.3,656.9 326.1,654.5C326.9,652.1 328.7,625.3 329.6,621.6C330.5,617.9 335.6,612.8 336.6,609.9C337.6,607.0 340.3,591.2 341.3,586.5C342.3,581.8 347.1,558.1 348.4,553.6C349.7,549.1 355.1,532.7 356.6,532.5C358.1,532.3 364.7,546.4 366.0,551.3C367.3,556.2 370.9,586.7 371.8,591.2C372.7,595.7 375.6,602.3 376.5,605.2C377.4,608.1 381.4,627.7 382.4,626.3C383.4,624.9 387.5,597.4 388.2,588.8C388.9,580.2 390.2,535.5 390.6,523.2C391.0,510.9 392.4,456.2 393.0,441.0C393.6,425.8 396.8,344.9 397.6,340.2C398.4,335.5 401.7,377.4 402.3,384.8C402.9,392.2 404.3,416.8 404.7,429.3C405.1,441.8 406.5,520.2 407.0,534.9C407.5,549.6 410.0,596.6 410.5,605.2C411.0,613.8 412.2,640.0 412.9,638.0C413.6,636.0 417.8,588.0 418.7,581.8C419.6,575.5 422.6,561.6 423.4,563.0C424.2,564.4 427.1,592.7 428.1,598.2C429.1,603.7 433.9,624.8 435.1,628.7C436.3,632.6 440.6,643.7 442.2,645.1C443.8,646.5 452.5,645.7 453.9,645.1C455.3,644.5 457.7,642.1 458.6,638.0C459.5,633.9 463.6,602.1 464.7,595.9C465.8,589.6 470.0,567.5 471.7,563.0C473.4,558.5 482.6,542.3 484.6,541.9C486.6,541.5 493.7,553.8 495.2,558.3C496.7,562.8 501.0,590.0 502.2,595.9C503.4,601.8 508.2,628.3 509.2,628.7C510.2,629.1 513.3,608.3 513.9,600.5C514.5,592.7 516.0,549.2 516.3,534.9C516.6,520.6 517.1,443.0 517.5,429.3C517.9,415.6 519.9,381.7 520.5,370.7C521.1,359.7 523.9,300.1 524.5,296.8C525.1,293.5 527.5,324.2 528.0,330.8C528.5,337.4 530.0,365.2 530.4,375.4C530.8,385.6 532.3,439.5 532.7,452.8C533.1,466.1 534.6,523.2 535.0,534.9C535.4,546.6 537.0,585.9 537.4,593.5C537.8,601.1 539.5,630.4 540.2,626.3C540.9,622.2 544.8,550.4 545.6,544.3C546.4,538.2 549.4,550.7 550.3,553.6C551.2,556.5 555.3,577.0 556.2,579.4C557.1,581.8 560.0,580.0 560.8,581.8C561.6,583.6 564.8,595.0 565.5,600.5C566.2,606.0 568.7,642.9 569.1,647.4C569.5,651.9 569.7,656.5 570.2,654.5C570.7,652.5 574.1,627.3 574.9,624.0C575.7,620.7 578.8,613.8 579.6,614.6C580.4,615.4 583.6,631.8 584.3,633.4C585.0,635.0 586.9,636.3 587.8,633.4C588.7,630.5 593.5,604.1 594.8,598.2C596.1,592.3 601.7,568.0 603.1,563.0C604.5,558.0 609.7,538.4 611.3,538.4C612.9,538.4 620.3,558.8 621.8,563.0C623.3,567.2 627.8,584.1 628.9,588.8C630.0,593.5 634.1,615.6 634.7,619.3C635.3,623.0 636.0,636.1 636.4,633.4C636.8,630.7 638.9,598.6 639.4,586.5C639.9,574.4 642.4,506.0 642.9,488.0C643.4,470.0 644.7,385.4 645.3,370.7C645.9,356.0 649.4,320.1 650.0,312.1C650.6,304.1 652.3,273.2 652.8,274.6C653.3,276.0 655.3,316.6 655.8,328.5C656.3,340.4 658.9,404.3 659.3,417.6C659.7,430.9 660.4,473.9 660.5,488.0C660.6,502.1 660.8,574.8 661.0,586.5C661.2,598.2 662.4,630.1 662.9,628.7C663.4,627.3 665.8,577.8 666.4,570.0C667.0,562.2 669.4,540.8 669.9,534.9C670.4,529.0 672.4,499.7 672.9,499.7C673.4,499.7 675.3,530.6 675.8,534.9C676.3,539.2 678.2,551.1 679.3,551.3C680.4,551.5 687.4,537.6 688.7,537.2C690.0,536.8 693.8,543.1 694.5,546.6C695.2,550.1 696.3,573.7 696.9,579.4C697.5,585.1 701.0,611.1 701.6,614.6C702.2,618.1 703.4,625.9 703.9,621.6C704.4,617.3 706.6,565.1 707.4,563.0C708.2,560.9 712.6,588.7 713.5,595.9C714.4,603.1 717.3,649.8 718.2,649.8C719.1,649.8 723.0,603.9 724.1,595.9C725.2,587.9 729.8,559.0 731.1,553.6C732.4,548.2 737.8,532.6 739.3,531.4C740.8,530.2 747.3,536.2 748.7,539.6C750.1,543.0 754.7,567.1 755.7,572.4C756.7,577.7 759.7,596.1 760.4,602.9C761.1,609.7 763.4,658.2 763.9,654.5C764.4,650.8 765.9,574.1 766.3,558.3C766.7,542.5 768.1,482.1 768.6,464.5C769.1,446.9 771.5,361.0 772.1,347.3C772.7,333.6 775.2,307.0 775.7,300.4C776.2,293.8 778.2,265.6 778.7,267.5C779.2,269.4 781.1,311.7 781.5,323.8C781.9,335.9 783.6,399.2 783.9,412.9C784.2,426.6 785.1,473.9 785.5,488.0C785.9,502.1 788.2,569.7 788.6,581.8C789.0,593.9 789.4,635.4 789.7,633.4C790.0,631.4 791.7,569.4 792.1,558.3C792.5,547.2 793.9,501.6 794.4,499.7C794.9,497.8 797.1,531.4 797.9,534.9C798.7,538.4 802.4,544.1 803.8,541.9C805.2,539.6 813.6,509.1 815.1,507.9C816.6,506.7 820.4,521.7 821.4,527.9C822.4,534.1 826.6,573.6 827.3,581.8C828.0,590.0 829.5,630.2 830.1,626.3C830.7,622.4 833.6,546.2 834.3,534.9C835.0,523.6 838.2,490.3 839.0,490.3C839.8,490.3 842.9,526.3 843.7,534.9C844.5,543.5 847.9,585.3 848.4,593.5C848.9,601.7 849.7,636.3 850.2,633.4C850.7,630.5 853.2,566.1 854.2,558.3C855.2,550.5 861.0,542.3 862.4,539.6C863.8,536.9 869.0,525.1 870.6,525.5C872.2,525.9 879.8,540.6 881.2,544.3C882.6,548.0 886.3,563.0 887.1,570.0C887.9,577.0 890.1,631.6 890.6,628.7C891.1,625.8 892.5,552.5 892.9,534.9C893.3,517.3 894.8,434.2 895.3,417.6C895.8,401.0 898.3,346.4 898.8,335.5C899.3,324.6 900.6,285.7 901.1,286.3C901.6,286.9 904.2,332.6 904.7,342.6C905.2,352.6 906.6,391.8 907.0,405.9C907.4,420.0 908.9,492.8 909.3,511.4C909.6,530.0 910.7,624.8 911.2,628.7C911.7,632.6 914.4,568.7 915.2,558.3C916.0,547.9 920.1,506.2 921.1,504.4C922.1,502.6 925.9,536.2 926.9,537.2C927.9,538.2 931.7,518.7 932.8,516.1C933.9,513.5 938.6,505.0 939.8,505.6C941.0,506.2 945.9,519.2 946.9,523.2C947.9,527.2 950.7,545.6 951.6,553.6C952.5,561.6 956.6,620.9 957.4,619.3C958.2,617.7 960.4,547.8 960.9,534.9C961.4,522.0 962.8,474.9 963.3,464.5C963.8,454.1 966.3,410.6 966.8,410.6C967.3,410.6 969.0,455.1 969.4,464.5C969.8,473.9 971.3,513.4 971.7,523.2C972.1,533.0 974.0,571.4 974.5,581.8C975.0,592.1 977.1,647.4 977.6,647.4C978.1,647.4 979.5,592.1 979.9,581.8C980.3,571.4 981.7,527.1 982.3,523.2C982.9,519.3 985.7,535.3 987.0,534.9C988.3,534.5 995.9,518.5 997.5,518.5C999.1,518.5 1004.6,531.0 1005.7,534.9C1006.8,538.8 1009.7,557.2 1010.4,565.4C1011.1,573.6 1013.4,632.0 1013.9,633.4C1014.4,634.8 1015.9,593.9 1016.3,581.8C1016.7,569.7 1018.2,505.6 1018.6,488.0C1019.0,470.4 1020.9,383.4 1021.4,370.7C1021.9,358.0 1023.9,340.4 1024.5,335.5C1025.1,330.6 1028.0,309.2 1028.5,312.1C1029.0,315.0 1030.1,358.0 1030.4,370.7C1030.8,383.4 1032.3,448.9 1032.7,464.5C1033.1,480.1 1034.5,544.6 1035.0,558.3C1035.5,572.0 1038.1,631.6 1038.6,628.7C1039.1,625.8 1040.5,536.9 1040.9,523.2C1041.3,509.5 1042.9,466.5 1043.3,464.5C1043.7,462.5 1045.1,495.0 1045.6,499.7C1046.1,504.4 1048.4,519.4 1049.1,520.8C1049.8,522.2 1052.8,518.6 1053.8,516.1C1054.8,513.6 1059.4,490.7 1060.8,490.3C1062.2,489.9 1068.6,505.7 1070.2,511.4C1071.8,517.1 1078.4,548.5 1079.6,558.3C1080.8,568.1 1083.6,631.6 1084.3,628.7C1085.0,625.8 1087.3,536.9 1087.8,523.2C1088.3,509.5 1089.7,470.4 1090.2,464.5C1090.7,458.6 1093.2,448.9 1093.7,452.8C1094.2,456.7 1095.4,499.7 1096.0,511.4C1096.6,523.1 1099.9,586.1 1100.7,593.5C1101.5,600.9 1104.7,609.3 1105.4,600.5C1106.1,591.7 1108.4,499.7 1108.9,488.0C1109.4,476.3 1110.8,461.8 1111.3,459.8C1111.8,457.8 1113.9,465.5 1114.8,464.5C1115.7,463.5 1120.6,451.6 1121.8,448.1C1123.0,444.6 1127.9,424.8 1128.9,422.3C1129.9,419.8 1132.8,415.1 1133.5,417.6C1134.2,420.1 1136.6,443.0 1137.1,452.8C1137.6,462.6 1139.0,523.2 1139.4,534.9C1139.8,546.6 1141.3,585.7 1141.8,593.5C1142.3,601.3 1144.6,628.1 1145.3,628.7C1146.0,629.3 1149.2,598.5 1150.0,600.5C1150.8,602.5 1153.9,653.7 1154.7,652.1C1155.5,650.5 1158.6,599.4 1159.3,581.8C1160.0,564.2 1162.4,457.3 1162.9,441.0C1163.4,424.7 1164.7,387.6 1165.2,386.0C1165.7,384.4 1168.0,418.3 1168.7,422.3C1169.4,426.3 1172.5,434.4 1173.4,434.0C1174.3,433.6 1178.2,420.8 1179.3,417.6C1180.4,414.4 1185.0,395.3 1186.3,395.3C1187.6,395.3 1193.2,413.8 1194.5,417.6C1195.8,421.4 1200.6,435.1 1201.6,441.0C1202.6,446.9 1205.5,476.3 1206.2,488.0C1206.9,499.7 1209.3,568.9 1209.8,581.8C1210.3,594.7 1211.6,648.7 1212.1,642.8C1212.6,636.9 1215.1,525.0 1215.6,511.4C1216.1,497.8 1217.7,481.2 1218.2,479.8C1218.7,478.4 1221.2,488.5 1221.7,495.0C1222.2,501.5 1223.7,546.8 1224.1,558.3C1224.5,569.8 1226.3,632.4 1226.9,633.4C1227.5,634.4 1230.5,580.2 1231.1,570.0C1231.7,559.8 1234.1,521.6 1234.6,511.4C1235.1,501.2 1236.6,451.0 1237.0,448.1C1237.4,445.2 1238.6,472.3 1239.3,476.2C1240.0,480.1 1244.2,494.0 1245.2,495.0C1246.2,496.0 1250.0,488.2 1251.0,488.0C1252.0,487.8 1256.2,488.8 1256.9,492.7C1257.6,496.6 1258.7,528.5 1259.2,534.9C1259.7,541.3 1262.1,564.5 1262.8,570.0C1263.5,575.5 1266.7,606.4 1267.5,600.5C1268.3,594.6 1271.4,508.7 1272.1,499.7C1272.8,490.7 1275.1,489.8 1275.7,492.7C1276.3,495.6 1278.6,523.6 1279.2,534.9C1279.8,546.2 1282.0,624.8 1282.7,628.7C1283.4,632.6 1286.6,590.2 1287.4,581.8C1288.2,573.4 1291.3,532.4 1292.1,527.9C1292.9,523.4 1295.9,529.3 1296.8,527.9C1297.7,526.5 1301.4,515.5 1302.6,511.4C1303.8,507.3 1309.5,480.4 1310.8,478.6C1312.1,476.8 1316.9,487.2 1317.9,490.3C1318.9,493.4 1321.7,512.4 1322.6,516.1C1323.5,519.8 1327.5,528.6 1328.4,534.9C1329.3,541.2 1332.3,593.2 1333.1,591.2C1333.9,589.2 1337.2,527.8 1337.8,511.4C1338.4,495.0 1339.7,408.3 1340.2,394.2C1340.7,380.1 1343.0,345.7 1343.7,342.6C1344.4,339.5 1347.8,352.3 1348.4,356.6C1349.0,360.9 1350.4,383.2 1350.7,394.2C1351.0,405.1 1351.6,472.4 1351.9,488.0C1352.2,503.6 1353.6,572.0 1354.2,581.8C1354.8,591.6 1358.2,609.1 1358.9,605.2C1359.6,601.3 1361.9,543.7 1362.4,534.9C1362.9,526.1 1364.2,500.7 1364.8,499.7C1365.4,498.7 1368.3,520.3 1369.5,523.2C1370.7,526.1 1377.7,531.6 1378.9,534.9C1380.1,538.2 1382.6,554.6 1383.5,563.0C1384.4,571.4 1388.4,637.1 1389.4,635.7C1390.4,634.3 1394.5,557.1 1395.3,546.6C1396.1,536.1 1398.2,507.2 1398.8,509.1C1399.4,511.1 1401.4,560.2 1402.3,570.0C1403.2,579.8 1408.3,631.2 1409.3,626.3C1410.3,621.4 1413.0,522.3 1414.0,511.4C1415.0,500.5 1420.1,498.9 1421.1,495.0C1422.1,491.1 1424.8,472.9 1425.8,464.5C1426.8,456.1 1431.4,401.4 1432.8,394.2C1434.2,387.0 1440.4,377.7 1442.2,377.7C1444.0,377.7 1452.5,388.9 1453.9,394.2C1455.3,399.5 1457.9,431.2 1458.6,441.0C1459.3,450.8 1461.6,496.9 1462.1,511.4C1462.6,525.9 1464.3,611.7 1464.7,614.6C1465.1,617.5 1466.5,555.8 1467.0,546.6C1467.5,537.4 1470.1,505.4 1470.6,504.4C1471.1,503.4 1472.5,529.4 1472.9,534.9C1473.3,540.4 1474.7,564.1 1475.2,570.0C1475.7,575.9 1478.3,599.1 1478.8,605.2C1479.3,611.3 1480.7,643.8 1481.1,642.8C1481.5,641.8 1483.0,604.5 1483.5,593.5C1484.0,582.5 1486.5,523.9 1487.0,511.4C1487.5,498.9 1489.5,447.3 1490.0,443.4C1490.5,439.5 1492.4,460.8 1492.8,464.5C1493.2,468.2 1494.5,484.7 1495.2,488.0C1495.9,491.3 1500.0,501.5 1501.0,504.4C1502.0,507.3 1506.1,517.7 1506.9,523.2C1507.7,528.7 1509.9,563.2 1510.4,570.0C1510.9,576.8 1512.3,599.9 1512.8,605.2C1513.3,610.5 1515.5,634.2 1516.3,633.4C1517.1,632.6 1521.2,597.9 1522.1,595.9C1523.0,593.9 1526.0,606.4 1526.8,609.9C1527.6,613.4 1530.8,639.4 1531.5,638.0C1532.2,636.6 1534.2,600.9 1535.0,593.5C1535.8,586.1 1539.9,554.3 1540.9,549.0C1541.9,543.7 1545.7,534.3 1546.8,530.2C1547.9,526.1 1552.7,503.4 1553.8,499.7C1554.9,496.0 1558.6,486.0 1559.7,485.6C1560.8,485.2 1565.7,492.5 1566.7,495.0C1567.7,497.5 1570.4,513.2 1571.4,516.1C1572.4,519.0 1577.5,526.7 1578.4,530.2C1579.3,533.7 1581.4,552.0 1582.0,558.3C1582.6,564.5 1585.0,598.4 1585.5,605.2C1586.0,612.0 1587.3,646.3 1587.8,640.4C1588.3,634.5 1590.8,551.5 1591.3,534.9C1591.8,518.3 1593.3,454.7 1593.7,441.0C1594.1,427.3 1595.7,378.5 1596.0,370.7C1596.3,362.9 1597.5,345.3 1597.9,347.3C1598.3,349.3 1600.2,384.4 1600.7,394.2C1601.2,404.0 1603.1,452.8 1603.5,464.5C1603.9,476.2 1605.0,521.2 1605.4,534.9C1605.9,548.6 1608.2,625.8 1608.9,628.7C1609.6,631.6 1613.0,577.8 1613.6,570.0C1614.2,562.2 1615.6,539.0 1616.0,534.9C1616.4,530.8 1617.8,519.2 1618.3,520.8C1618.8,522.4 1620.8,548.9 1621.8,553.6C1622.8,558.3 1628.9,572.8 1630.0,577.1C1631.1,581.4 1633.9,599.9 1634.7,605.2C1635.5,610.5 1638.3,640.6 1639.4,640.4C1640.5,640.2 1646.3,603.9 1647.6,602.9C1648.9,601.9 1653.7,625.6 1654.7,628.7C1655.7,631.8 1658.6,644.9 1659.3,640.4C1660.0,635.9 1662.3,580.4 1662.9,574.7C1663.5,569.0 1665.7,573.8 1666.4,572.4C1667.1,571.0 1670.2,561.4 1671.1,558.3C1672.0,555.2 1675.6,538.8 1676.9,534.9C1678.2,531.0 1684.9,512.2 1686.3,511.4C1687.7,510.6 1692.0,522.6 1693.3,525.5C1694.6,528.4 1700.3,540.9 1701.6,546.6C1702.9,552.3 1707.6,588.6 1708.6,593.5C1709.6,598.4 1712.8,608.1 1713.3,605.2C1713.8,602.3 1714.4,568.1 1714.7,558.3C1715.0,548.5 1716.6,499.7 1717.0,488.0C1717.4,476.3 1718.9,428.2 1719.4,417.6C1719.9,407.0 1722.4,367.8 1722.9,361.3C1723.4,354.9 1725.4,337.5 1725.9,340.2C1726.4,342.9 1728.4,383.8 1728.8,394.2C1729.2,404.6 1730.8,452.8 1731.1,464.5C1731.4,476.2 1732.0,524.1 1732.3,534.9C1732.6,545.6 1734.2,586.9 1734.6,593.5C1735.0,600.1 1736.5,613.8 1737.0,614.6C1737.5,615.4 1739.9,608.0 1740.5,602.9C1741.1,597.8 1744.0,556.3 1744.7,553.6C1745.4,550.9 1747.8,566.5 1748.7,570.0C1749.6,573.5 1754.7,591.4 1755.7,595.9C1756.7,600.4 1759.5,619.3 1760.4,624.0C1761.3,628.7 1765.3,651.3 1766.3,652.1C1767.3,652.9 1771.1,634.2 1772.1,633.4C1773.1,632.6 1777.2,642.0 1778.0,642.8C1778.8,643.6 1780.7,644.9 1781.5,642.8C1782.3,640.6 1786.3,622.1 1787.4,617.0C1788.5,611.9 1793.2,587.5 1794.4,581.8C1795.6,576.1 1800.1,553.4 1801.5,549.0C1802.9,544.6 1809.2,529.6 1810.8,529.0C1812.4,528.4 1818.9,539.1 1820.2,541.9C1821.5,544.7 1825.2,558.7 1826.1,563.0C1827.0,567.3 1829.9,587.6 1830.8,593.5C1831.7,599.4 1835.8,634.4 1836.6,633.4C1837.4,632.4 1839.7,592.0 1840.2,581.8C1840.7,571.6 1842.1,523.1 1842.5,511.4C1842.9,499.7 1844.5,451.2 1844.9,441.0C1845.3,430.8 1846.7,396.9 1847.2,389.5C1847.7,382.1 1850.7,351.6 1851.4,352.0C1852.1,352.4 1854.9,386.8 1855.4,394.2C1855.9,401.6 1857.3,430.2 1857.7,441.0C1858.1,451.8 1859.7,510.5 1860.1,523.2C1860.5,535.9 1861.9,584.5 1862.4,593.5C1863.0,602.5 1866.0,631.6 1866.7,631.0C1867.4,630.4 1870.1,591.2 1870.6,586.5C1871.1,581.8 1872.3,574.1 1873.0,574.7C1873.7,575.3 1877.9,589.4 1878.9,593.5C1879.9,597.6 1883.6,619.3 1884.7,624.0C1885.8,628.7 1890.3,647.6 1891.8,649.8C1893.3,651.9 1900.8,651.2 1902.3,649.8C1903.8,648.4 1908.2,636.5 1909.3,633.4C1910.4,630.3 1914.2,615.6 1915.2,612.3C1916.2,609.0 1920.2,597.6 1921.1,593.5C1922.0,589.4 1924.5,567.3 1925.8,563.0C1927.1,558.7 1934.5,542.7 1936.3,541.9C1938.1,541.1 1945.4,549.1 1946.9,553.6C1948.4,558.1 1952.9,591.8 1953.9,595.9C1954.9,600.0 1957.9,598.2 1958.6,602.9C1959.3,607.6 1961.6,653.9 1962.3,652.1C1963.0,650.3 1966.3,595.5 1967.0,581.8C1967.7,568.1 1970.1,501.7 1970.6,488.0C1971.1,474.3 1972.5,426.4 1972.9,417.6C1973.3,408.8 1974.8,386.6 1975.2,382.4C1975.7,378.2 1977.7,364.7 1978.3,367.2C1978.9,369.7 1981.8,404.8 1982.3,412.9C1982.8,421.0 1984.3,454.3 1984.6,464.5C1984.9,474.7 1985.9,524.1 1986.3,534.9C1986.7,545.6 1988.7,585.3 1989.3,593.5C1989.9,601.7 1993.2,634.6 1994.0,633.4C1994.8,632.2 1998.3,582.5 1999.4,579.4C2000.5,576.3 2006.0,593.0 2006.9,595.9C2007.8,598.8 2009.5,611.5 2010.4,614.6C2011.3,617.7 2016.4,630.5 2017.5,633.4C2018.6,636.3 2022.2,648.0 2023.3,649.8C2024.4,651.6 2029.3,654.3 2030.4,654.5C2031.5,654.7 2035.3,654.2 2036.2,652.1C2037.1,650.0 2040.0,632.6 2040.9,628.7C2041.8,624.8 2045.7,609.5 2046.8,605.2C2047.9,600.9 2052.6,581.9 2053.8,577.1C2055.0,572.3 2059.5,549.4 2060.8,547.8C2062.1,546.2 2067.8,554.7 2069.1,558.3C2070.4,561.9 2075.0,586.9 2076.1,591.2C2077.2,595.5 2081.0,607.2 2082.0,609.9C2083.0,612.6 2087.1,621.1 2087.8,624.0C2088.5,626.9 2090.4,650.6 2090.9,645.1C2091.4,639.6 2093.3,571.4 2093.7,558.3C2094.1,545.2 2095.5,499.7 2096.0,488.0C2096.5,476.3 2098.9,427.0 2099.5,417.6C2100.1,408.2 2102.5,380.9 2103.1,375.4C2103.7,369.9 2106.0,350.4 2106.6,352.0C2107.2,353.6 2109.6,384.8 2110.1,394.2C2110.6,403.6 2112.0,452.8 2112.4,464.5C2112.8,476.2 2114.4,523.2 2114.8,534.9C2115.2,546.6 2116.6,597.4 2117.1,605.2C2117.6,613.0 2120.1,630.7 2120.7,628.7C2121.3,626.8 2123.7,587.7 2124.2,581.8C2124.7,575.9 2126.4,558.3 2127.0,558.3C2127.6,558.3 2130.4,578.9 2131.2,581.8C2132.0,584.7 2136.2,592.3 2137.1,593.5C2138.0,594.7 2140.9,593.9 2141.8,595.9C2142.7,597.9 2146.6,613.5 2147.6,617.0C2148.6,620.5 2152.6,634.9 2153.5,638.0C2154.4,641.1 2157.1,653.7 2158.2,654.5C2159.3,655.3 2165.2,650.5 2166.4,647.4C2167.6,644.3 2171.2,621.5 2172.2,617.0C2173.2,612.5 2177.2,597.6 2178.1,593.5C2179.0,589.4 2181.7,570.8 2182.8,567.7C2183.9,564.6 2189.7,555.8 2191.0,556.0C2192.3,556.2 2197.0,566.3 2198.0,570.0C2199.0,573.7 2201.7,596.4 2202.7,600.5C2203.7,604.6 2208.4,616.9 2209.7,619.3C2211.0,621.6 2217.0,633.8 2217.9,628.7C2218.8,623.6 2219.9,572.0 2220.3,558.3C2220.7,544.6 2222.1,476.2 2222.6,464.5C2223.1,452.8 2225.6,425.4 2226.2,417.6C2226.8,409.8 2229.1,376.4 2229.7,370.7C2230.3,365.0 2232.6,347.6 2233.2,349.6C2233.8,351.6 2236.2,384.6 2236.7,394.2C2237.2,403.8 2238.8,452.8 2239.1,464.5C2239.4,476.2 2239.9,525.1 2240.2,534.9C2240.5,544.7 2242.2,574.0 2242.6,581.8C2242.9,589.6 2243.9,628.7 2244.4,628.7C2244.9,628.7 2247.7,589.2 2248.4,581.8C2249.1,574.4 2252.3,540.6 2253.1,539.6C2253.9,538.6 2257.0,567.1 2257.8,570.0C2258.6,572.9 2261.5,574.3 2262.5,574.7C2263.5,575.1 2268.4,573.7 2269.5,574.7C2270.6,575.7 2274.4,583.6 2275.4,586.5C2276.4,589.4 2280.4,604.8 2281.3,609.9C2282.2,615.0 2285.4,643.9 2286.0,647.4C2286.6,650.9 2288.8,651.6 2289.0,652.0" fill="none" stroke="#4444ff" stroke-width="3.6" stroke-linejoin="round"/>
<path d="M214.9,602.5h12M2289.4,602.5h-12M214.9,548.5h12M2289.4,548.5h-12M214.9,494.4h12M2289.4,494.4h-12M214.9,440.4h12M2289.4,440.4h-12M214.9,386.3h22M2289.4,386.3h-22M214.9,332.2h12M2289.4,332.2h-12M214.9,278.2h12M2289.4,278.2h-12M214.9,224.1h12M2289.4,224.1h-12M214.9,170.1h12M2289.4,170.1h-12M263.7,656.6v-10M263.7,116v10M312.5,656.6v-10M312.5,116v10M361.3,656.6v-10M361.3,116v10M410.1,656.6v-10M410.1,116v10M459,656.6v-21M459,116v21M507.8,656.6v-10M507.8,116v10M556.6,656.6v-10M556.6,116v10M605.4,656.6v-10M605.4,116v10M654.2,656.6v-10M654.2,116v10M703,656.6v-21M703,116v21M751.8,656.6v-10M751.8,116v10M800.6,656.6v-10M800.6,116v10M849.5,656.6v-10M849.5,116v10M898.3,656.6v-10M898.3,116v10M947.1,656.6v-21M947.1,116v21M995.9,656.6v-10M995.9,116v10M1044.7,656.6v-10M1044.7,116v10M1093.5,656.6v-10M1093.5,116v10M1142.3,656.6v-10M1142.3,116v10M1191.1,656.6v-21M1191.1,116v21M1239.9,656.6v-10M1239.9,116v10M1288.8,656.6v-10M1288.8,116v10M1337.6,656.6v-10M1337.6,116v10M1386.4,656.6v-10M1386.4,116v10M1435.2,656.6v-21M1435.2,116v21M1484,656.6v-10M1484,116v10M1532.8,656.6v-10M1532.8,116v10M1581.6,656.6v-10M1581.6,116v10M1630.4,656.6v-10M1630.4,116v10M1679.3,656.6v-21M1679.3,116v21M1728.1,656.6v-10M1728.1,116v10M1776.9,656.6v-10M1776.9,116v10M1825.7,656.6v-10M1825.7,116v10M1874.5,656.6v-10M1874.5,116v10M1923.3,656.6v-21M1923.3,116v21M1972.1,656.6v-10M1972.1,116v10M2020.9,656.6v-10M2020.9,116v10M2069.7,656.6v-10M2069.7,116v10M2118.6,656.6v-10M2118.6,116v10M2167.4,656.6v-21M2167.4,116v21M2216.2,656.6v-10M2216.2,116v10M2265,656.6v-10M2265,116v10" stroke="#000" stroke-width="3.6" fill="none"/>
<line x1="214.9" y1="485.6" x2="2289.4" y2="485.6" stroke="#ff00ff" stroke-width="6.2"/>
<line x1="214.9" y1="641.6" x2="2289.4" y2="641.6" stroke="#00ff00" stroke-width="8.6"/>
<rect x="214.9" y="116" width="2074.5" height="540.6" rx="6" fill="none" stroke="#111" stroke-width="4.6"/>
<text transform="matrix(0.8000 0 0 1 167.05 682.41)" font-family='"Liberation Sans", Arial, sans-serif' font-size="73.00" fill="#000">0</text>
<text transform="matrix(0.8000 0 0 1 167.75 412.48)" font-family='"Liberation Sans", Arial, sans-serif' font-size="73.00" fill="#000">2</text>
<text transform="matrix(0.8000 0 0 1 166.58 141.81)" font-family='"Liberation Sans", Arial, sans-serif' font-size="73.00" fill="#000">4</text>
<text transform="matrix(0.8320 0 0 1 142.62 738.62)" font-family='"Liberation Sans", Arial, sans-serif' font-size="70.20" fill="#000">10/10</text>
<text transform="matrix(0.8320 0 0 1 387.03 738.62)" font-family='"Liberation Sans", Arial, sans-serif' font-size="70.20" fill="#000">10/12</text>
<text transform="matrix(0.8320 0 0 1 630.51 738.62)" font-family='"Liberation Sans", Arial, sans-serif' font-size="70.20" fill="#000">10/14</text>
<text transform="matrix(0.8320 0 0 1 874.98 738.62)" font-family='"Liberation Sans", Arial, sans-serif' font-size="70.20" fill="#000">10/16</text>
<text transform="matrix(0.8320 0 0 1 1119.03 738.62)" font-family='"Liberation Sans", Arial, sans-serif' font-size="70.20" fill="#000">10/18</text>
<text transform="matrix(0.8320 0 0 1 1362.92 738.62)" font-family='"Liberation Sans", Arial, sans-serif' font-size="70.20" fill="#000">10/20</text>
<text transform="matrix(0.8320 0 0 1 1607.33 738.62)" font-family='"Liberation Sans", Arial, sans-serif' font-size="70.20" fill="#000">10/22</text>
<text transform="matrix(0.8320 0 0 1 1850.80 738.62)" font-family='"Liberation Sans", Arial, sans-serif' font-size="70.20" fill="#000">10/24</text>
<text transform="matrix(0.8320 0 0 1 2095.27 738.62)" font-family='"Liberation Sans", Arial, sans-serif' font-size="70.20" fill="#000">10/26</text>
<text transform="matrix(0 -0.8421 1 0 126.27 581.62)" font-family='"Liberation Sans", Arial, sans-serif' font-size="69.85" fill="#000" >Bed shear [Pa]</text>
<text transform="matrix(0.8712 0 0 1 245.31 229.50)" font-family='"Liberation Sans", Arial, sans-serif' font-size="109.01" fill="#000" >P1</text>
<line x1="214.9" y1="1276.1" x2="2289.3" y2="1276.1" stroke="#c6c6c6" stroke-width="2.8"/>
<line x1="214.9" y1="1221.7" x2="2289.3" y2="1221.7" stroke="#c6c6c6" stroke-width="2.8"/>
<line x1="214.9" y1="1167.2" x2="2289.3" y2="1167.2" stroke="#c6c6c6" stroke-width="2.8"/>
<line x1="214.9" y1="1112.8" x2="2289.3" y2="1112.8" stroke="#c6c6c6" stroke-width="2.8"/>
<line x1="214.9" y1="1058.3" x2="2289.3" y2="1058.3" stroke="#c6c6c6" stroke-width="2.8"/>
<line x1="214.9" y1="1003.8" x2="2289.3" y2="1003.8" stroke="#c6c6c6" stroke-width="2.8"/>
<line x1="214.9" y1="949.4" x2="2289.3" y2="949.4" stroke="#c6c6c6" stroke-width="2.8"/>
<line x1="214.9" y1="894.9" x2="2289.3" y2="894.9" stroke="#c6c6c6" stroke-width="2.8"/>
<line x1="214.9" y1="840.5" x2="2289.3" y2="840.5" stroke="#c6c6c6" stroke-width="2.8"/>
<line x1="263.7" y1="786" x2="263.7" y2="1330.6" stroke="#c6c6c6" stroke-width="2.8"/>
<line x1="312.5" y1="786" x2="312.5" y2="1330.6" stroke="#c6c6c6" stroke-width="2.8"/>
<line x1="361.3" y1="786" x2="361.3" y2="1330.6" stroke="#c6c6c6" stroke-width="2.8"/>
<line x1="410.1" y1="786" x2="410.1" y2="1330.6" stroke="#c6c6c6" stroke-width="2.8"/>
<line x1="507.8" y1="786" x2="507.8" y2="1330.6" stroke="#c6c6c6" stroke-width="2.8"/>
<line x1="556.6" y1="786" x2="556.6" y2="1330.6" stroke="#c6c6c6" stroke-width="2.8"/>
<line x1="605.4" y1="786" x2="605.4" y2="1330.6" stroke="#c6c6c6" stroke-width="2.8"/>
<line x1="654.2" y1="786" x2="654.2" y2="1330.6" stroke="#c6c6c6" stroke-width="2.8"/>
<line x1="751.8" y1="786" x2="751.8" y2="1330.6" stroke="#c6c6c6" stroke-width="2.8"/>
<line x1="800.6" y1="786" x2="800.6" y2="1330.6" stroke="#c6c6c6" stroke-width="2.8"/>
<line x1="849.4" y1="786" x2="849.4" y2="1330.6" stroke="#c6c6c6" stroke-width="2.8"/>
<line x1="898.2" y1="786" x2="898.2" y2="1330.6" stroke="#c6c6c6" stroke-width="2.8"/>
<line x1="995.9" y1="786" x2="995.9" y2="1330.6" stroke="#c6c6c6" stroke-width="2.8"/>
<line x1="1044.7" y1="786" x2="1044.7" y2="1330.6" stroke="#c6c6c6" stroke-width="2.8"/>
<line x1="1093.5" y1="786" x2="1093.5" y2="1330.6" stroke="#c6c6c6" stroke-width="2.8"/>
<line x1="1142.3" y1="786" x2="1142.3" y2="1330.6" stroke="#c6c6c6" stroke-width="2.8"/>
<line x1="1239.9" y1="786" x2="1239.9" y2="1330.6" stroke="#c6c6c6" stroke-width="2.8"/>
<line x1="1288.7" y1="786" x2="1288.7" y2="1330.6" stroke="#c6c6c6" stroke-width="2.8"/>
<line x1="1337.5" y1="786" x2="1337.5" y2="1330.6" stroke="#c6c6c6" stroke-width="2.8"/>
<line x1="1386.3" y1="786" x2="1386.3" y2="1330.6" stroke="#c6c6c6" stroke-width="2.8"/>
<line x1="1483.9" y1="786" x2="1483.9" y2="1330.6" stroke="#c6c6c6" stroke-width="2.8"/>
<line x1="1532.8" y1="786" x2="1532.8" y2="1330.6" stroke="#c6c6c6" stroke-width="2.8"/>
<line x1="1581.6" y1="786" x2="1581.6" y2="1330.6" stroke="#c6c6c6" stroke-width="2.8"/>
<line x1="1630.4" y1="786" x2="1630.4" y2="1330.6" stroke="#c6c6c6" stroke-width="2.8"/>
<line x1="1728" y1="786" x2="1728" y2="1330.6" stroke="#c6c6c6" stroke-width="2.8"/>
<line x1="1776.8" y1="786" x2="1776.8" y2="1330.6" stroke="#c6c6c6" stroke-width="2.8"/>
<line x1="1825.6" y1="786" x2="1825.6" y2="1330.6" stroke="#c6c6c6" stroke-width="2.8"/>
<line x1="1874.4" y1="786" x2="1874.4" y2="1330.6" stroke="#c6c6c6" stroke-width="2.8"/>
<line x1="1972" y1="786" x2="1972" y2="1330.6" stroke="#c6c6c6" stroke-width="2.8"/>
<line x1="2020.8" y1="786" x2="2020.8" y2="1330.6" stroke="#c6c6c6" stroke-width="2.8"/>
<line x1="2069.7" y1="786" x2="2069.7" y2="1330.6" stroke="#c6c6c6" stroke-width="2.8"/>
<line x1="2118.5" y1="786" x2="2118.5" y2="1330.6" stroke="#c6c6c6" stroke-width="2.8"/>
<line x1="2216.1" y1="786" x2="2216.1" y2="1330.6" stroke="#c6c6c6" stroke-width="2.8"/>
<line x1="2264.9" y1="786" x2="2264.9" y2="1330.6" stroke="#c6c6c6" stroke-width="2.8"/>
<line x1="458.9" y1="786" x2="458.9" y2="1330.6" stroke="#333" stroke-width="3.5"/>
<line x1="703" y1="786" x2="703" y2="1330.6" stroke="#333" stroke-width="3.5"/>
<line x1="947" y1="786" x2="947" y2="1330.6" stroke="#333" stroke-width="3.5"/>
<line x1="1191.1" y1="786" x2="1191.1" y2="1330.6" stroke="#333" stroke-width="3.5"/>
<line x1="1435.1" y1="786" x2="1435.1" y2="1330.6" stroke="#333" stroke-width="3.5"/>
<line x1="1679.2" y1="786" x2="1679.2" y2="1330.6" stroke="#333" stroke-width="3.5"/>
<line x1="1923.2" y1="786" x2="1923.2" y2="1330.6" stroke="#333" stroke-width="3.5"/>
<line x1="2167.3" y1="786" x2="2167.3" y2="1330.6" stroke="#333" stroke-width="3.5"/>
<path d="M216.6,1172.6C217.0,1174.8 220.3,1193.3 221.0,1199.5C221.7,1205.7 224.6,1240.3 225.5,1247.3C226.4,1254.3 230.4,1277.6 231.5,1283.1C232.6,1288.6 237.8,1309.4 239.0,1312.9C240.2,1316.4 245.2,1324.1 246.4,1324.9C247.6,1325.6 252.9,1326.9 253.9,1321.9C254.9,1316.9 257.7,1277.9 258.4,1265.2C259.1,1252.5 261.9,1183.9 262.8,1169.7C263.7,1155.5 267.8,1106.7 268.8,1095.0C269.8,1083.3 273.7,1036.1 274.8,1029.4C275.9,1022.7 280.6,1012.7 281.6,1014.4C282.6,1016.1 286.0,1041.1 286.7,1050.3C287.4,1059.5 289.2,1111.2 289.7,1124.9C290.2,1138.6 292.2,1200.7 292.7,1214.4C293.2,1228.1 295.1,1280.6 295.7,1289.1C296.3,1297.6 299.3,1312.9 300.2,1315.9C301.1,1318.9 305.2,1327.6 306.1,1324.9C307.0,1322.2 309.7,1289.8 310.6,1283.1C311.5,1276.4 315.6,1249.3 316.6,1244.3C317.6,1239.3 321.6,1223.4 322.5,1223.4C323.4,1223.4 326.4,1238.8 327.0,1244.3C327.6,1249.8 329.6,1282.1 330.0,1289.1C330.4,1296.1 331.9,1330.4 332.4,1327.9C332.9,1325.4 335.4,1268.7 336.0,1259.2C336.6,1249.7 338.4,1222.4 339.0,1214.4C339.6,1206.4 342.1,1165.4 342.8,1163.7C343.5,1162.0 347.1,1188.0 347.9,1193.5C348.7,1199.0 351.7,1223.9 352.4,1229.4C353.2,1234.9 356.0,1254.2 356.9,1259.2C357.8,1264.2 361.8,1285.1 362.8,1289.1C363.8,1293.1 367.7,1304.5 368.8,1307.0C369.9,1309.5 375.2,1318.2 376.3,1318.9C377.4,1319.6 381.3,1320.9 382.2,1315.9C383.1,1310.9 386.0,1271.4 386.7,1259.2C387.5,1247.0 390.3,1184.6 391.2,1169.7C392.1,1154.8 396.2,1093.3 397.2,1080.1C398.2,1066.9 402.1,1019.7 403.1,1011.5C404.1,1003.3 408.1,981.4 409.1,981.6C410.1,981.8 414.4,1004.9 415.1,1014.4C415.9,1023.9 417.6,1079.6 418.1,1095.0C418.6,1110.4 420.6,1183.3 421.0,1199.5C421.4,1215.7 422.8,1278.4 423.1,1289.1C423.4,1299.8 424.5,1328.4 424.9,1327.9C425.4,1327.4 427.8,1286.6 428.5,1283.1C429.2,1279.6 432.2,1284.1 433.0,1286.1C433.8,1288.1 436.9,1304.8 437.5,1307.0C438.1,1309.2 439.9,1313.1 440.5,1312.9C441.1,1312.6 444.3,1307.7 444.9,1304.0C445.5,1300.3 447.2,1271.9 447.9,1268.2C448.7,1264.5 453.0,1258.7 453.9,1259.2C454.8,1259.7 457.7,1274.1 458.4,1274.1C459.1,1274.1 462.0,1263.4 462.8,1259.2C463.6,1255.0 467.3,1227.1 468.1,1223.4C468.9,1219.7 471.8,1213.4 472.5,1214.4C473.2,1215.4 476.4,1231.6 477.0,1235.3C477.6,1239.0 479.4,1255.2 480.0,1259.2C480.6,1263.2 483.6,1279.1 484.5,1283.1C485.4,1287.1 489.4,1303.8 490.5,1307.0C491.6,1310.2 496.5,1320.2 497.9,1321.9C499.3,1323.6 505.9,1329.4 506.9,1327.9C507.9,1326.4 509.3,1315.9 509.9,1304.0C510.5,1292.1 513.6,1204.5 514.3,1184.6C515.0,1164.7 517.9,1077.6 518.8,1065.2C519.7,1052.8 523.9,1043.5 524.8,1035.3C525.7,1027.1 528.5,974.8 529.3,966.7C530.1,958.6 533.7,936.2 534.6,938.2C535.5,940.2 539.0,981.3 539.7,990.6C540.4,999.9 542.2,1035.4 542.7,1050.3C543.2,1065.2 545.2,1152.3 545.7,1169.7C546.2,1187.1 548.2,1248.8 548.7,1259.2C549.2,1269.6 551.0,1296.0 551.6,1295.0C552.2,1294.0 555.2,1249.0 556.1,1247.3C557.0,1245.6 561.2,1269.9 562.1,1274.1C563.0,1278.3 565.9,1294.0 566.6,1298.0C567.3,1302.0 570.1,1323.9 571.0,1321.9C571.9,1319.9 576.0,1280.6 577.0,1274.1C578.0,1267.6 582.1,1246.0 583.0,1244.3C583.9,1242.6 586.8,1248.0 587.5,1253.2C588.2,1258.4 591.0,1305.3 591.9,1307.0C592.8,1308.7 597.0,1280.1 597.9,1274.1C598.8,1268.1 602.0,1236.0 603.0,1235.3C604.0,1234.6 608.8,1260.7 609.9,1265.2C611.0,1269.7 614.7,1285.1 615.8,1289.1C616.9,1293.1 622.1,1310.2 623.3,1312.9C624.5,1315.6 629.6,1321.9 630.7,1321.9C631.8,1321.9 636.0,1320.6 636.7,1312.9C637.5,1305.2 639.1,1246.3 639.7,1229.4C640.3,1212.5 643.3,1129.9 644.2,1110.0C645.1,1090.1 649.3,1005.5 650.2,990.6C651.1,975.7 653.8,937.8 654.6,930.9C655.4,924.0 659.1,907.3 660.0,907.3C660.9,907.3 664.4,919.0 665.1,930.9C665.8,942.8 667.6,1027.9 668.1,1050.3C668.6,1072.7 670.6,1176.9 671.0,1199.5C671.4,1222.1 672.6,1319.4 673.1,1321.9C673.6,1324.4 676.2,1240.1 677.0,1229.4C677.8,1218.7 682.0,1192.3 683.0,1193.5C684.0,1194.7 688.0,1235.8 689.0,1244.3C690.0,1252.8 694.0,1288.0 694.9,1295.0C695.8,1302.0 698.6,1329.6 699.4,1327.9C700.1,1326.2 703.1,1281.1 703.9,1274.1C704.6,1267.1 707.6,1249.8 708.4,1244.3C709.2,1238.8 712.9,1209.7 713.7,1208.5C714.5,1207.3 717.5,1223.9 718.1,1229.4C718.7,1234.9 720.5,1265.9 721.0,1274.1C721.5,1282.3 723.4,1328.6 724.0,1327.9C724.6,1327.2 727.7,1272.7 728.5,1265.2C729.3,1257.7 733.0,1237.6 733.9,1238.3C734.8,1239.0 738.1,1269.9 739.0,1274.1C739.9,1278.3 743.9,1286.4 744.9,1289.1C745.9,1291.8 749.8,1304.3 750.9,1307.0C752.0,1309.7 757.3,1321.2 758.4,1321.9C759.5,1322.6 763.6,1323.6 764.3,1315.9C765.0,1308.2 766.7,1249.0 767.3,1229.4C767.9,1209.7 771.1,1102.5 771.8,1080.1C772.6,1057.7 775.6,975.1 776.3,960.7C777.0,946.3 780.0,914.4 780.7,907.0C781.4,899.6 783.9,871.8 784.6,872.5C785.3,873.2 788.3,906.1 788.8,915.9C789.4,925.7 790.9,974.4 791.2,990.6C791.5,1006.8 792.5,1091.3 792.7,1110.0C793.0,1128.7 794.0,1201.5 794.2,1214.4C794.5,1227.3 795.2,1262.7 795.7,1265.2C796.2,1267.7 799.5,1250.3 800.2,1244.3C800.9,1238.3 803.9,1195.2 804.6,1193.5C805.3,1191.8 808.4,1217.4 809.1,1223.4C809.9,1229.4 812.7,1259.7 813.6,1265.2C814.5,1270.7 818.6,1283.9 819.6,1289.1C820.6,1294.3 824.6,1329.1 825.5,1327.9C826.4,1326.6 829.1,1284.8 830.0,1274.1C830.9,1263.4 835.0,1208.8 836.0,1199.5C837.0,1190.2 841.0,1164.9 841.9,1162.2C842.8,1159.5 845.8,1162.3 846.4,1166.7C847.0,1171.0 848.8,1205.4 849.4,1214.4C850.0,1223.3 852.7,1267.4 853.3,1274.1C853.9,1280.8 855.6,1298.0 856.3,1295.0C857.0,1292.0 861.3,1240.8 862.2,1238.3C863.1,1235.8 866.4,1261.0 867.3,1265.2C868.2,1269.4 872.2,1285.1 873.3,1289.1C874.4,1293.1 879.6,1309.7 880.7,1312.9C881.8,1316.1 885.2,1334.9 886.1,1327.9C887.0,1320.9 890.4,1250.0 891.2,1229.4C892.0,1208.7 895.0,1100.0 895.7,1080.1C896.5,1060.2 899.5,1005.0 900.2,990.6C900.9,976.2 903.9,916.5 904.6,907.0C905.3,897.5 907.5,877.5 908.2,877.0C909.0,876.5 913.0,889.0 913.6,901.0C914.2,913.0 914.7,1000.5 915.1,1020.4C915.5,1040.3 917.6,1122.4 918.1,1139.8C918.6,1157.2 920.6,1218.2 921.0,1229.4C921.4,1240.6 921.9,1279.1 922.5,1274.1C923.1,1269.1 927.0,1175.9 927.9,1169.7C928.8,1163.5 932.2,1192.0 933.0,1199.5C933.8,1207.0 936.6,1251.7 937.5,1259.2C938.4,1266.7 942.3,1283.6 943.4,1289.1C944.5,1294.6 949.9,1327.4 950.9,1324.9C951.9,1322.4 954.6,1274.6 955.4,1259.2C956.1,1243.8 959.0,1152.7 959.9,1139.8C960.8,1126.9 965.6,1108.3 966.6,1104.0C967.6,1099.7 971.6,1084.6 972.5,1087.6C973.4,1090.6 976.4,1129.2 977.0,1139.8C977.6,1150.4 979.5,1202.0 980.0,1214.4C980.5,1226.8 982.6,1279.6 983.0,1289.1C983.4,1298.6 984.1,1331.4 984.5,1327.9C984.9,1324.4 987.0,1254.8 987.5,1247.3C988.0,1239.8 989.4,1238.3 989.9,1238.3C990.4,1238.3 992.7,1243.6 993.4,1247.3C994.1,1251.0 997.0,1278.9 997.9,1283.1C998.8,1287.3 1002.9,1295.8 1003.9,1298.0C1004.9,1300.2 1009.0,1309.2 1009.9,1310.0C1010.8,1310.8 1013.6,1316.2 1014.3,1307.0C1015.0,1297.8 1018.1,1220.9 1018.8,1199.5C1019.6,1178.1 1022.6,1073.9 1023.3,1050.3C1024.0,1026.7 1026.9,932.1 1027.8,915.9C1028.7,899.7 1032.8,856.1 1033.7,856.1C1034.6,856.1 1037.7,902.2 1038.2,915.9C1038.7,929.6 1039.4,1001.7 1039.7,1020.4C1040.0,1039.1 1041.5,1119.9 1041.8,1139.8C1042.1,1159.7 1043.3,1244.3 1043.6,1259.2C1043.9,1274.1 1044.6,1320.1 1045.1,1318.9C1045.6,1317.7 1048.9,1254.2 1049.6,1244.3C1050.3,1234.3 1053.3,1199.5 1054.0,1199.5C1054.7,1199.5 1056.9,1237.3 1057.6,1244.3C1058.3,1251.3 1061.2,1278.9 1062.1,1283.1C1063.0,1287.3 1067.1,1293.0 1068.1,1295.0C1069.1,1297.0 1073.0,1304.3 1074.0,1307.0C1075.0,1309.7 1079.2,1334.4 1080.0,1327.9C1080.8,1321.4 1082.5,1245.1 1083.0,1229.4C1083.5,1213.7 1085.3,1152.2 1086.0,1139.8C1086.7,1127.4 1091.0,1090.0 1091.9,1080.1C1092.8,1070.1 1095.7,1029.7 1096.4,1020.4C1097.1,1011.1 1099.7,968.0 1100.3,968.0C1100.9,968.0 1103.3,1011.1 1103.9,1020.4C1104.4,1029.7 1106.4,1065.2 1106.9,1080.1C1107.4,1095.0 1109.4,1182.1 1109.9,1199.5C1110.4,1216.9 1111.9,1284.1 1112.8,1289.1C1113.7,1294.1 1119.3,1259.2 1120.3,1259.2C1121.3,1259.2 1123.9,1284.6 1124.8,1289.1C1125.7,1293.6 1129.8,1309.7 1130.7,1312.9C1131.6,1316.1 1134.4,1332.4 1135.2,1327.9C1135.9,1323.4 1138.9,1279.8 1139.7,1259.2C1140.4,1238.5 1143.4,1107.5 1144.2,1080.1C1144.9,1052.7 1148.0,952.0 1148.7,930.9C1149.4,909.8 1152.5,838.1 1153.1,826.4C1153.7,814.7 1155.5,789.4 1156.1,790.6C1156.7,791.8 1159.5,827.1 1160.0,841.3C1160.5,855.5 1161.8,940.8 1162.1,960.7C1162.4,980.6 1163.3,1062.7 1163.6,1080.1C1163.8,1097.5 1164.8,1154.3 1165.1,1169.7C1165.3,1185.1 1166.1,1258.2 1166.6,1265.2C1167.1,1272.2 1170.3,1260.2 1171.0,1253.2C1171.7,1246.2 1174.8,1183.6 1175.5,1181.6C1176.2,1179.6 1179.2,1221.7 1180.0,1229.4C1180.8,1237.1 1183.6,1267.6 1184.5,1274.1C1185.4,1280.6 1189.3,1303.8 1190.5,1307.0C1191.7,1310.2 1198.2,1311.2 1199.4,1312.9C1200.6,1314.6 1204.5,1334.9 1205.4,1327.9C1206.3,1320.9 1209.1,1250.0 1209.9,1229.4C1210.7,1208.7 1214.2,1103.5 1215.1,1080.1C1216.0,1056.7 1220.0,963.5 1221.0,948.8C1222.0,934.1 1226.2,904.2 1227.0,904.0C1227.8,903.8 1230.4,933.6 1230.9,945.8C1231.4,958.0 1232.7,1030.4 1233.0,1050.3C1233.3,1070.2 1234.2,1167.2 1234.5,1184.6C1234.8,1202.0 1236.5,1247.3 1236.9,1259.2C1237.3,1271.1 1238.5,1329.1 1239.0,1327.9C1239.5,1326.7 1242.7,1254.5 1243.4,1244.3C1244.1,1234.1 1247.1,1205.5 1247.9,1205.5C1248.6,1205.5 1251.6,1237.3 1252.4,1244.3C1253.1,1251.3 1256.1,1282.9 1256.9,1289.1C1257.7,1295.3 1261.2,1323.9 1261.9,1318.9C1262.6,1313.9 1265.1,1249.3 1265.8,1229.4C1266.5,1209.5 1269.4,1103.5 1270.3,1080.1C1271.2,1056.7 1275.3,962.1 1276.3,948.8C1277.3,935.5 1282.0,916.8 1282.8,920.3C1283.6,923.8 1285.4,977.3 1285.8,990.6C1286.2,1003.9 1287.3,1063.9 1287.6,1080.1C1287.9,1096.3 1289.3,1168.9 1289.7,1184.6C1290.1,1200.3 1292.2,1268.2 1292.7,1268.2C1293.2,1268.2 1295.2,1195.3 1295.7,1184.6C1296.2,1173.9 1298.1,1141.5 1298.7,1139.8C1299.3,1138.1 1302.5,1156.2 1303.1,1163.7C1303.7,1171.2 1305.3,1219.2 1306.1,1229.4C1306.8,1239.6 1311.0,1280.1 1312.1,1286.1C1313.2,1292.1 1318.4,1298.0 1319.6,1301.0C1320.8,1304.0 1325.9,1322.9 1327.0,1321.9C1328.1,1320.9 1332.1,1301.8 1333.0,1289.1C1333.9,1276.4 1336.8,1189.6 1337.5,1169.7C1338.2,1149.8 1341.0,1069.5 1341.9,1050.3C1342.8,1031.1 1346.9,952.0 1347.9,939.8C1348.9,927.6 1353.0,902.2 1353.9,903.9C1354.8,905.6 1357.8,946.0 1358.4,960.7C1359.0,975.4 1360.9,1062.7 1361.3,1080.1C1361.7,1097.5 1362.5,1152.3 1362.8,1169.7C1363.1,1187.1 1364.6,1281.6 1365.2,1289.1C1365.8,1296.6 1369.5,1263.9 1370.3,1259.2C1371.1,1254.5 1374.0,1232.3 1374.8,1232.3C1375.5,1232.3 1378.7,1254.5 1379.3,1259.2C1379.9,1263.9 1381.7,1283.9 1382.2,1289.1C1382.7,1294.3 1384.6,1326.9 1385.2,1321.9C1385.8,1316.9 1388.8,1249.5 1389.7,1229.4C1390.6,1209.2 1394.7,1098.8 1395.7,1080.1C1396.7,1061.4 1400.8,1015.8 1401.6,1005.5C1402.4,995.2 1404.6,955.9 1405.2,957.1C1405.8,958.3 1408.5,1007.7 1409.1,1020.4C1409.7,1033.1 1411.7,1096.3 1412.1,1110.0C1412.5,1123.7 1413.3,1166.4 1413.6,1184.6C1413.8,1202.8 1414.6,1325.4 1415.1,1327.9C1415.6,1330.4 1418.8,1227.8 1419.6,1214.4C1420.4,1201.0 1424.0,1166.7 1424.9,1166.7C1425.8,1166.7 1429.2,1204.2 1430.0,1214.4C1430.8,1224.6 1433.6,1280.9 1434.5,1289.1C1435.4,1297.3 1439.4,1310.4 1440.5,1312.9C1441.6,1315.4 1446.8,1318.1 1447.9,1318.9C1449.0,1319.6 1452.9,1324.4 1453.9,1321.9C1454.9,1319.4 1459.0,1306.8 1459.9,1289.1C1460.8,1271.4 1464.2,1138.6 1465.1,1110.0C1466.0,1081.4 1470.1,965.7 1471.0,945.8C1471.9,925.9 1474.7,881.5 1475.5,871.2C1476.3,860.9 1480.1,818.1 1480.9,821.8C1481.6,825.5 1484.1,899.4 1484.5,915.9C1484.9,932.4 1485.7,1001.7 1486.0,1020.4C1486.3,1039.1 1487.8,1121.1 1488.1,1139.8C1488.4,1158.5 1489.6,1229.6 1489.9,1244.3C1490.2,1259.0 1490.8,1314.7 1491.3,1315.9C1491.8,1317.1 1495.6,1266.2 1496.4,1259.2C1497.2,1252.2 1500.1,1232.3 1500.9,1232.3C1501.6,1232.3 1504.7,1254.5 1505.4,1259.2C1506.1,1263.9 1508.5,1283.4 1509.0,1289.1C1509.5,1294.8 1511.3,1330.4 1511.9,1327.9C1512.5,1325.4 1515.1,1273.6 1515.8,1259.2C1516.5,1244.8 1519.5,1170.9 1520.3,1154.7C1521.0,1138.5 1524.2,1073.9 1524.8,1065.2C1525.4,1056.5 1527.2,1050.0 1527.8,1050.3C1528.4,1050.5 1531.1,1060.7 1531.6,1068.2C1532.1,1075.7 1533.3,1127.6 1533.7,1139.8C1534.0,1152.0 1535.4,1205.7 1535.8,1214.4C1536.2,1223.1 1537.7,1243.0 1538.2,1244.3C1538.7,1245.5 1541.0,1237.6 1541.8,1229.4C1542.5,1221.2 1546.4,1150.8 1547.2,1145.8C1548.0,1140.8 1550.9,1161.5 1551.6,1169.7C1552.3,1177.9 1555.3,1234.8 1556.1,1244.3C1556.8,1253.8 1559.6,1278.9 1560.6,1283.1C1561.6,1287.3 1566.9,1292.5 1568.1,1295.0C1569.3,1297.5 1574.4,1310.4 1575.5,1312.9C1576.6,1315.4 1580.6,1331.9 1581.5,1324.9C1582.4,1317.9 1585.2,1247.3 1586.0,1229.4C1586.8,1211.5 1589.6,1127.4 1590.5,1110.0C1591.4,1092.6 1595.5,1034.1 1596.4,1020.4C1597.3,1006.7 1599.9,953.8 1600.9,945.8C1601.8,937.8 1606.9,921.1 1607.8,924.8C1608.7,928.5 1610.8,977.7 1611.3,990.6C1611.8,1003.5 1613.1,1065.2 1613.4,1080.1C1613.7,1095.0 1614.8,1151.8 1615.2,1169.7C1615.6,1187.6 1617.5,1287.5 1618.2,1295.0C1618.9,1302.5 1622.4,1264.2 1623.3,1259.2C1624.2,1254.2 1627.9,1235.3 1628.7,1235.3C1629.5,1235.3 1632.4,1254.7 1633.1,1259.2C1633.8,1263.7 1636.2,1284.1 1636.7,1289.1C1637.2,1294.1 1638.5,1323.9 1639.1,1318.9C1639.6,1313.9 1642.5,1241.8 1643.3,1229.4C1644.1,1217.0 1647.8,1177.4 1648.7,1169.7C1649.6,1162.0 1653.2,1136.8 1654.0,1136.8C1654.8,1136.8 1657.6,1160.7 1658.2,1169.7C1658.8,1178.7 1660.7,1232.4 1661.2,1244.3C1661.6,1256.2 1663.0,1317.9 1663.6,1312.9C1664.2,1307.9 1667.2,1198.3 1668.1,1184.6C1669.0,1170.9 1673.9,1146.3 1674.9,1148.8C1675.9,1151.3 1679.2,1204.7 1680.0,1214.4C1680.8,1224.1 1683.5,1259.0 1684.5,1265.2C1685.5,1271.4 1690.7,1285.1 1691.9,1289.1C1693.1,1293.1 1698.0,1310.4 1699.4,1312.9C1700.8,1315.4 1707.3,1323.4 1708.4,1318.9C1709.5,1314.4 1711.9,1279.1 1712.8,1259.2C1713.7,1239.3 1718.5,1098.8 1719.6,1080.1C1720.7,1061.4 1724.6,1044.5 1725.5,1035.3C1726.4,1026.1 1729.3,976.2 1730.0,969.7C1730.7,963.2 1733.3,955.9 1733.9,957.6C1734.5,959.3 1737.0,980.4 1737.5,990.6C1738.0,1000.8 1740.1,1065.2 1740.5,1080.1C1740.9,1095.0 1742.1,1153.5 1742.5,1169.7C1742.9,1185.9 1744.2,1263.7 1744.9,1274.1C1745.6,1284.5 1750.0,1295.2 1750.9,1295.0C1751.8,1294.8 1754.6,1271.2 1755.4,1271.2C1756.1,1271.2 1759.0,1291.0 1759.9,1295.0C1760.8,1299.0 1764.9,1321.9 1765.8,1318.9C1766.7,1315.9 1769.4,1267.4 1770.3,1259.2C1771.2,1251.0 1775.9,1222.9 1776.9,1220.4C1777.9,1217.9 1781.5,1223.7 1782.2,1229.4C1782.9,1235.1 1784.7,1282.1 1785.2,1289.1C1785.6,1296.1 1787.1,1317.9 1787.6,1312.9C1788.1,1307.9 1790.4,1240.8 1791.2,1229.4C1792.0,1218.0 1796.3,1178.8 1797.2,1175.6C1798.1,1172.4 1800.9,1186.1 1801.6,1190.6C1802.3,1195.1 1805.1,1221.7 1806.1,1229.4C1807.1,1237.1 1812.4,1276.1 1813.6,1283.1C1814.8,1290.1 1819.8,1309.4 1821.0,1312.9C1822.2,1316.4 1827.2,1324.4 1828.5,1324.9C1829.8,1325.4 1835.1,1324.4 1836.0,1318.9C1836.9,1313.4 1838.5,1271.6 1839.0,1259.2C1839.5,1246.8 1841.3,1182.1 1841.9,1169.7C1842.5,1157.3 1845.5,1120.0 1846.4,1110.0C1847.3,1100.0 1851.5,1059.3 1852.4,1050.3C1853.3,1041.3 1856.2,1007.0 1856.9,1002.5C1857.6,998.0 1860.6,993.8 1861.3,996.5C1862.0,999.2 1865.2,1025.8 1865.8,1035.3C1866.4,1044.8 1868.3,1096.3 1868.8,1110.0C1869.3,1123.7 1871.3,1185.8 1871.8,1199.5C1872.2,1213.2 1873.7,1265.1 1874.2,1274.1C1874.6,1283.1 1876.5,1307.0 1877.2,1307.0C1877.9,1307.0 1882.2,1275.6 1883.1,1274.1C1884.0,1272.6 1887.3,1284.9 1888.2,1289.1C1889.0,1293.3 1892.4,1323.7 1893.3,1324.9C1894.2,1326.1 1897.8,1307.2 1898.7,1304.0C1899.6,1300.8 1903.7,1286.8 1904.6,1286.1C1905.5,1285.3 1908.3,1293.0 1909.1,1295.0C1909.8,1297.0 1912.8,1315.0 1913.6,1310.0C1914.3,1305.0 1917.1,1243.5 1918.1,1235.3C1919.1,1227.1 1924.4,1210.8 1925.5,1211.5C1926.6,1212.2 1930.5,1239.1 1931.5,1244.3C1932.5,1249.5 1936.3,1268.9 1937.5,1274.1C1938.7,1279.3 1945.0,1303.0 1946.4,1307.0C1947.8,1311.0 1952.7,1320.4 1953.9,1321.9C1955.1,1323.4 1960.2,1333.9 1961.3,1324.9C1962.4,1315.9 1965.7,1232.3 1966.6,1214.4C1967.5,1196.5 1971.5,1121.2 1972.5,1110.0C1973.5,1098.8 1977.5,1088.1 1978.5,1080.1C1979.5,1072.1 1983.6,1021.5 1984.5,1014.4C1985.4,1007.3 1988.3,993.2 1989.0,994.9C1989.7,996.6 1992.8,1025.7 1993.4,1035.3C1994.0,1044.9 1995.9,1096.3 1996.4,1110.0C1996.8,1123.7 1998.3,1185.8 1998.8,1199.5C1999.2,1213.2 2001.3,1265.6 2001.8,1274.1C2002.3,1282.6 2004.0,1302.2 2004.8,1301.0C2005.6,1299.8 2010.4,1261.4 2011.3,1259.2C2012.2,1257.0 2015.0,1270.1 2015.8,1274.1C2016.5,1278.1 2019.5,1303.0 2020.3,1307.0C2021.0,1311.0 2023.8,1320.4 2024.8,1321.9C2025.8,1323.4 2031.0,1325.4 2032.2,1324.9C2033.4,1324.4 2037.8,1320.1 2038.8,1315.9C2039.8,1311.7 2043.1,1280.6 2044.2,1274.1C2045.3,1267.6 2050.5,1239.5 2051.6,1238.3C2052.7,1237.1 2056.6,1255.0 2057.6,1259.2C2058.6,1263.4 2062.5,1284.6 2063.6,1289.1C2064.7,1293.6 2069.8,1310.2 2071.0,1312.9C2072.2,1315.6 2077.2,1320.6 2078.5,1321.9C2079.8,1323.1 2085.0,1330.6 2086.0,1327.9C2087.0,1325.2 2089.8,1299.8 2090.5,1289.1C2091.2,1278.4 2093.9,1214.4 2094.9,1199.5C2095.9,1184.6 2101.3,1124.9 2102.4,1110.0C2103.5,1095.1 2107.5,1030.4 2108.4,1020.4C2109.3,1010.4 2112.6,989.9 2113.4,989.9C2114.2,989.9 2117.5,1010.4 2118.2,1020.4C2118.9,1030.4 2121.3,1095.1 2121.8,1110.0C2122.3,1124.9 2123.8,1184.6 2124.2,1199.5C2124.6,1214.4 2126.5,1280.1 2127.2,1289.1C2127.9,1298.1 2131.9,1307.2 2133.1,1307.0C2134.3,1306.8 2140.9,1287.1 2142.1,1286.1C2143.3,1285.1 2146.4,1292.3 2147.2,1295.0C2148.0,1297.7 2150.7,1316.2 2151.6,1318.9C2152.5,1321.6 2156.6,1327.9 2157.6,1327.9C2158.6,1327.9 2162.6,1321.6 2163.6,1318.9C2164.6,1316.2 2168.4,1299.5 2169.6,1295.0C2170.8,1290.5 2176.8,1265.9 2177.9,1265.2C2179.0,1264.5 2181.9,1283.6 2182.8,1286.1C2183.7,1288.6 2187.7,1292.5 2188.8,1295.0C2189.9,1297.5 2194.9,1313.2 2196.3,1315.9C2197.7,1318.6 2203.8,1327.1 2205.2,1327.9C2206.6,1328.6 2211.7,1329.4 2212.7,1324.9C2213.7,1320.4 2216.3,1284.5 2217.2,1274.1C2218.1,1263.6 2222.1,1213.2 2223.1,1199.5C2224.1,1185.8 2228.1,1124.9 2229.1,1110.0C2230.1,1095.1 2234.2,1030.8 2235.1,1020.4C2236.0,1009.9 2238.9,985.1 2239.6,984.6C2240.3,984.1 2243.3,1003.9 2244.0,1014.4C2244.7,1024.8 2247.9,1094.6 2248.5,1110.0C2249.1,1125.4 2251.0,1181.3 2251.5,1199.5C2252.0,1217.7 2253.9,1325.4 2254.5,1327.9C2255.1,1330.4 2258.2,1240.1 2259.0,1229.4C2259.8,1218.7 2263.4,1199.5 2264.3,1199.5C2265.2,1199.5 2268.6,1224.4 2269.4,1229.4C2270.2,1234.4 2273.2,1254.2 2273.9,1259.2C2274.7,1264.2 2277.7,1284.4 2278.4,1289.1C2279.1,1293.8 2282.1,1312.9 2282.8,1315.9C2283.5,1318.9 2286.9,1324.1 2287.3,1324.9" fill="none" stroke="#ff2a2a" stroke-width="3.0" stroke-linejoin="round"/>
<path d="M216.0,1171.0C216.4,1173.2 219.7,1191.7 220.4,1197.9C221.1,1204.1 224.0,1238.7 224.9,1245.7C225.8,1252.7 229.8,1276.0 230.9,1281.5C232.0,1287.0 237.2,1307.8 238.4,1311.3C239.6,1314.8 244.6,1322.5 245.8,1323.3C247.0,1324.0 252.3,1325.3 253.3,1320.3C254.3,1315.3 257.1,1276.3 257.8,1263.6C258.5,1250.9 261.3,1182.3 262.2,1168.1C263.1,1153.9 267.2,1105.1 268.2,1093.4C269.2,1081.7 273.1,1034.5 274.2,1027.8C275.3,1021.1 280.0,1011.1 281.0,1012.8C282.0,1014.5 285.4,1039.5 286.1,1048.7C286.8,1057.9 288.6,1109.6 289.1,1123.3C289.6,1137.0 291.6,1199.1 292.1,1212.8C292.6,1226.5 294.5,1279.0 295.1,1287.5C295.7,1296.0 298.7,1311.3 299.6,1314.3C300.5,1317.3 304.6,1326.0 305.5,1323.3C306.4,1320.6 309.1,1288.2 310.0,1281.5C310.9,1274.8 315.0,1247.7 316.0,1242.7C317.0,1237.7 321.0,1221.8 321.9,1221.8C322.8,1221.8 325.8,1237.2 326.4,1242.7C327.0,1248.2 328.9,1280.5 329.4,1287.5C329.8,1294.5 331.3,1328.8 331.8,1326.3C332.3,1323.8 334.8,1267.1 335.4,1257.6C335.9,1248.1 337.8,1220.8 338.4,1212.8C339.0,1204.8 341.5,1163.8 342.2,1162.1C342.9,1160.4 346.5,1186.4 347.3,1191.9C348.1,1197.4 351.1,1222.3 351.8,1227.8C352.6,1233.3 355.4,1252.6 356.3,1257.6C357.2,1262.6 361.2,1283.5 362.2,1287.5C363.2,1291.5 367.1,1302.9 368.2,1305.4C369.3,1307.9 374.6,1316.6 375.7,1317.3C376.8,1318.0 380.7,1319.3 381.6,1314.3C382.5,1309.3 385.4,1269.8 386.1,1257.6C386.9,1245.4 389.7,1183.0 390.6,1168.1C391.5,1153.2 395.6,1091.7 396.6,1078.5C397.6,1065.3 401.5,1018.1 402.5,1009.9C403.5,1001.7 407.5,979.8 408.5,980.0C409.5,980.2 413.8,1003.3 414.5,1012.8C415.2,1022.2 417.0,1078.0 417.5,1093.4C418.0,1108.8 420.0,1181.7 420.4,1197.9C420.8,1214.1 422.2,1276.8 422.5,1287.5C422.8,1298.2 423.9,1326.8 424.3,1326.3C424.8,1325.8 427.2,1285.0 427.9,1281.5C428.6,1278.0 431.6,1282.5 432.4,1284.5C433.1,1286.5 436.3,1303.2 436.9,1305.4C437.5,1307.6 439.3,1311.5 439.9,1311.3C440.5,1311.0 443.7,1306.1 444.3,1302.4C444.9,1298.7 446.6,1270.3 447.3,1266.6C448.1,1262.9 452.4,1257.1 453.3,1257.6C454.2,1258.1 457.1,1272.5 457.8,1272.5C458.5,1272.5 461.4,1261.8 462.2,1257.6C463.0,1253.4 466.7,1225.5 467.5,1221.8C468.3,1218.1 471.2,1211.8 471.9,1212.8C472.6,1213.8 475.8,1230.0 476.4,1233.7C477.0,1237.4 478.8,1253.6 479.4,1257.6C480.0,1261.6 483.0,1277.5 483.9,1281.5C484.8,1285.5 488.8,1302.2 489.9,1305.4C491.0,1308.6 495.9,1318.6 497.3,1320.3C498.7,1322.0 505.3,1327.8 506.3,1326.3C507.3,1324.8 508.7,1314.3 509.3,1302.4C509.9,1290.5 513.0,1202.9 513.7,1183.0C514.4,1163.1 517.3,1076.0 518.2,1063.6C519.1,1051.2 523.3,1041.9 524.2,1033.7C525.1,1025.5 527.9,972.3 528.7,965.1C529.5,957.9 533.1,945.2 534.0,947.2C534.9,949.2 538.4,980.5 539.1,989.0C539.8,997.5 541.6,1033.8 542.1,1048.7C542.6,1063.6 544.6,1150.7 545.1,1168.1C545.6,1185.5 547.6,1247.2 548.1,1257.6C548.6,1268.0 550.4,1294.4 551.0,1293.4C551.6,1292.4 554.6,1247.4 555.5,1245.7C556.4,1244.0 560.6,1268.3 561.5,1272.5C562.4,1276.7 565.3,1292.4 566.0,1296.4C566.7,1300.4 569.5,1322.3 570.4,1320.3C571.3,1318.3 575.4,1279.0 576.4,1272.5C577.4,1266.0 581.5,1244.4 582.4,1242.7C583.3,1241.0 586.2,1246.4 586.9,1251.6C587.6,1256.8 590.4,1303.7 591.3,1305.4C592.2,1307.1 596.4,1278.5 597.3,1272.5C598.2,1266.5 601.4,1234.4 602.4,1233.7C603.4,1233.0 608.2,1259.1 609.3,1263.6C610.4,1268.1 614.1,1283.5 615.2,1287.5C616.3,1291.5 621.5,1308.6 622.7,1311.3C623.9,1314.0 629.0,1320.3 630.1,1320.3C631.2,1320.3 635.4,1319.0 636.1,1311.3C636.9,1303.6 638.5,1244.7 639.1,1227.8C639.7,1210.9 642.7,1128.3 643.6,1108.4C644.5,1088.5 648.7,1003.9 649.6,989.0C650.5,974.1 653.2,935.8 654.0,929.3C654.8,922.8 658.5,911.3 659.4,911.3C660.3,911.3 663.8,917.8 664.5,929.3C665.2,940.8 667.0,1026.3 667.5,1048.7C668.0,1071.1 670.0,1175.3 670.4,1197.9C670.8,1220.5 672.0,1317.8 672.5,1320.3C673.0,1322.8 675.6,1238.5 676.4,1227.8C677.2,1217.1 681.4,1190.7 682.4,1191.9C683.4,1193.1 687.4,1234.2 688.4,1242.7C689.4,1251.2 693.4,1286.4 694.3,1293.4C695.2,1300.4 698.0,1328.0 698.8,1326.3C699.5,1324.6 702.5,1279.5 703.3,1272.5C704.0,1265.5 707.0,1248.2 707.8,1242.7C708.6,1237.2 712.3,1208.1 713.1,1206.9C713.9,1205.7 716.9,1222.3 717.5,1227.8C718.1,1233.3 719.9,1264.3 720.4,1272.5C720.9,1280.7 722.8,1327.0 723.4,1326.3C724.0,1325.6 727.1,1271.1 727.9,1263.6C728.7,1256.1 732.4,1236.0 733.3,1236.7C734.2,1237.4 737.5,1268.3 738.4,1272.5C739.3,1276.7 743.3,1284.8 744.3,1287.5C745.3,1290.2 749.2,1302.7 750.3,1305.4C751.4,1308.1 756.7,1319.6 757.8,1320.3C758.9,1321.0 763.0,1322.0 763.7,1314.3C764.4,1306.6 766.1,1247.5 766.7,1227.8C767.3,1208.1 770.5,1100.9 771.2,1078.5C772.0,1056.1 775.0,973.5 775.7,959.1C776.4,944.7 779.4,912.1 780.1,905.4C780.8,898.7 783.3,877.8 784.0,878.5C784.7,879.2 787.7,905.1 788.2,914.3C788.8,923.5 790.3,972.8 790.6,989.0C790.9,1005.2 791.9,1089.8 792.1,1108.4C792.4,1127.1 793.4,1199.9 793.6,1212.8C793.9,1225.7 794.6,1261.1 795.1,1263.6C795.6,1266.1 798.9,1248.7 799.6,1242.7C800.3,1236.7 803.3,1193.6 804.0,1191.9C804.7,1190.2 807.8,1215.8 808.5,1221.8C809.2,1227.8 812.1,1258.1 813.0,1263.6C813.9,1269.1 818.0,1282.3 819.0,1287.5C820.0,1292.7 824.0,1327.5 824.9,1326.3C825.8,1325.0 828.5,1283.2 829.4,1272.5C830.3,1261.8 834.4,1207.2 835.4,1197.9C836.4,1188.6 840.4,1163.3 841.3,1160.6C842.2,1157.9 845.2,1160.8 845.8,1165.1C846.4,1169.4 848.2,1203.8 848.8,1212.8C849.4,1221.8 852.1,1265.8 852.7,1272.5C853.3,1279.2 855.0,1296.4 855.7,1293.4C856.4,1290.4 860.7,1239.2 861.6,1236.7C862.5,1234.2 865.8,1259.4 866.7,1263.6C867.6,1267.8 871.6,1283.5 872.7,1287.5C873.8,1291.5 879.0,1308.1 880.1,1311.3C881.2,1314.5 884.6,1333.3 885.5,1326.3C886.4,1319.3 889.8,1248.5 890.6,1227.8C891.4,1207.1 894.4,1098.4 895.1,1078.5C895.9,1058.6 898.9,1003.4 899.6,989.0C900.3,974.6 903.3,914.4 904.0,905.4C904.7,896.4 906.9,882.0 907.6,881.5C908.4,881.0 912.4,888.0 913.0,899.4C913.6,910.8 914.1,998.9 914.5,1018.8C914.9,1038.7 917.0,1120.8 917.5,1138.2C918.0,1155.6 920.0,1216.6 920.4,1227.8C920.8,1239.0 921.3,1277.5 921.9,1272.5C922.5,1267.5 926.4,1174.3 927.3,1168.1C928.2,1161.9 931.6,1190.4 932.4,1197.9C933.2,1205.4 936.0,1250.1 936.9,1257.6C937.8,1265.1 941.7,1282.0 942.8,1287.5C943.9,1293.0 949.3,1325.8 950.3,1323.3C951.3,1320.8 954.0,1273.0 954.8,1257.6C955.5,1242.2 958.4,1151.1 959.3,1138.2C960.2,1125.3 965.0,1106.8 966.0,1102.4C967.0,1098.1 971.0,1083.0 971.9,1086.0C972.8,1089.0 975.8,1127.6 976.4,1138.2C977.0,1148.8 978.9,1200.4 979.4,1212.8C979.9,1225.2 982.0,1278.0 982.4,1287.5C982.8,1297.0 983.5,1329.8 983.9,1326.3C984.3,1322.8 986.4,1253.2 986.9,1245.7C987.4,1238.2 988.8,1236.7 989.3,1236.7C989.8,1236.7 992.1,1242.0 992.8,1245.7C993.5,1249.4 996.4,1277.3 997.3,1281.5C998.2,1285.7 1002.3,1294.2 1003.3,1296.4C1004.3,1298.6 1008.4,1307.7 1009.3,1308.4C1010.2,1309.2 1013.0,1314.6 1013.7,1305.4C1014.4,1296.2 1017.5,1219.3 1018.2,1197.9C1019.0,1176.5 1022.0,1072.3 1022.7,1048.7C1023.5,1025.1 1026.3,930.0 1027.2,914.3C1028.1,898.6 1032.2,860.6 1033.1,860.6C1034.0,860.6 1037.1,901.1 1037.6,914.3C1038.1,927.5 1038.8,1000.1 1039.1,1018.8C1039.4,1037.5 1040.9,1118.3 1041.2,1138.2C1041.5,1158.1 1042.7,1242.7 1043.0,1257.6C1043.3,1272.5 1044.0,1318.5 1044.5,1317.3C1045.0,1316.1 1048.3,1252.7 1049.0,1242.7C1049.7,1232.8 1052.7,1197.9 1053.4,1197.9C1054.1,1197.9 1056.3,1235.7 1057.0,1242.7C1057.7,1249.7 1060.6,1277.3 1061.5,1281.5C1062.4,1285.7 1066.5,1291.4 1067.5,1293.4C1068.5,1295.4 1072.4,1302.7 1073.4,1305.4C1074.4,1308.1 1078.7,1332.8 1079.4,1326.3C1080.2,1319.8 1081.9,1243.5 1082.4,1227.8C1082.9,1212.1 1084.7,1150.6 1085.4,1138.2C1086.1,1125.8 1090.4,1088.5 1091.3,1078.5C1092.2,1068.5 1095.1,1027.5 1095.8,1018.8C1096.5,1010.1 1099.1,974.0 1099.7,974.0C1100.3,974.0 1102.8,1010.1 1103.3,1018.8C1103.8,1027.5 1105.8,1063.6 1106.3,1078.5C1106.8,1093.4 1108.8,1180.5 1109.3,1197.9C1109.8,1215.3 1111.3,1282.5 1112.2,1287.5C1113.1,1292.5 1118.7,1257.6 1119.7,1257.6C1120.7,1257.6 1123.3,1283.0 1124.2,1287.5C1125.1,1292.0 1129.2,1308.1 1130.1,1311.3C1131.0,1314.5 1133.8,1330.8 1134.6,1326.3C1135.3,1321.8 1138.3,1278.2 1139.1,1257.6C1139.8,1236.9 1142.8,1105.9 1143.6,1078.5C1144.3,1051.1 1147.4,950.4 1148.1,929.3C1148.8,908.2 1151.9,836.5 1152.5,824.8C1153.1,813.1 1154.9,787.8 1155.5,789.0C1156.1,790.2 1158.9,825.5 1159.4,839.7C1159.9,853.9 1161.2,939.2 1161.5,959.1C1161.8,979.0 1162.8,1061.1 1163.0,1078.5C1163.2,1095.9 1164.2,1152.7 1164.5,1168.1C1164.8,1183.5 1165.5,1256.6 1166.0,1263.6C1166.5,1270.6 1169.7,1258.6 1170.4,1251.6C1171.1,1244.6 1174.2,1182.0 1174.9,1180.0C1175.7,1178.0 1178.7,1220.1 1179.4,1227.8C1180.2,1235.5 1183.0,1266.0 1183.9,1272.5C1184.8,1279.0 1188.7,1302.2 1189.9,1305.4C1191.1,1308.6 1197.6,1309.6 1198.8,1311.3C1200.0,1313.0 1203.9,1333.3 1204.8,1326.3C1205.7,1319.3 1208.5,1248.5 1209.3,1227.8C1210.1,1207.1 1213.6,1101.9 1214.5,1078.5C1215.4,1055.1 1219.4,961.9 1220.4,947.2C1221.4,932.5 1225.6,902.6 1226.4,902.4C1227.2,902.1 1229.8,932.0 1230.3,944.2C1230.8,956.4 1232.1,1028.8 1232.4,1048.7C1232.7,1068.6 1233.6,1165.6 1233.9,1183.0C1234.2,1200.4 1235.9,1245.7 1236.3,1257.6C1236.7,1269.5 1237.9,1327.5 1238.4,1326.3C1238.9,1325.1 1242.1,1252.9 1242.8,1242.7C1243.5,1232.5 1246.5,1203.9 1247.3,1203.9C1248.0,1203.9 1251.0,1235.7 1251.8,1242.7C1252.5,1249.7 1255.5,1281.3 1256.3,1287.5C1257.1,1293.7 1260.6,1322.3 1261.3,1317.3C1262.0,1312.3 1264.5,1247.7 1265.2,1227.8C1265.9,1207.9 1268.8,1101.9 1269.7,1078.5C1270.6,1055.1 1274.7,960.1 1275.7,947.2C1276.7,934.3 1281.4,919.8 1282.2,923.3C1283.0,926.8 1284.8,976.1 1285.2,989.0C1285.6,1001.9 1286.7,1062.3 1287.0,1078.5C1287.3,1094.7 1288.7,1167.3 1289.1,1183.0C1289.5,1198.7 1291.6,1266.6 1292.1,1266.6C1292.6,1266.6 1294.6,1193.7 1295.1,1183.0C1295.6,1172.3 1297.5,1139.9 1298.1,1138.2C1298.7,1136.5 1301.9,1154.6 1302.5,1162.1C1303.1,1169.6 1304.8,1217.6 1305.5,1227.8C1306.2,1238.0 1310.4,1278.5 1311.5,1284.5C1312.6,1290.5 1317.8,1296.4 1319.0,1299.4C1320.2,1302.4 1325.3,1321.3 1326.4,1320.3C1327.5,1319.3 1331.5,1300.2 1332.4,1287.5C1333.3,1274.8 1336.2,1188.0 1336.9,1168.1C1337.6,1148.2 1340.4,1067.9 1341.3,1048.7C1342.2,1029.5 1346.3,949.9 1347.3,938.2C1348.3,926.5 1352.4,906.7 1353.3,908.4C1354.2,910.1 1357.2,944.9 1357.8,959.1C1358.4,973.3 1360.3,1061.1 1360.7,1078.5C1361.1,1095.9 1361.9,1150.7 1362.2,1168.1C1362.5,1185.5 1364.0,1280.0 1364.6,1287.5C1365.2,1295.0 1368.9,1262.3 1369.7,1257.6C1370.5,1252.9 1373.5,1230.7 1374.2,1230.7C1375.0,1230.7 1378.1,1252.9 1378.7,1257.6C1379.3,1262.3 1381.1,1282.3 1381.6,1287.5C1382.1,1292.7 1384.0,1325.3 1384.6,1320.3C1385.2,1315.3 1388.2,1248.0 1389.1,1227.8C1390.0,1207.6 1394.1,1097.2 1395.1,1078.5C1396.1,1059.8 1400.2,1013.9 1401.0,1003.9C1401.8,993.9 1404.0,957.9 1404.6,959.1C1405.2,960.3 1407.9,1006.4 1408.5,1018.8C1409.1,1031.2 1411.1,1094.7 1411.5,1108.4C1411.9,1122.1 1412.8,1164.8 1413.0,1183.0C1413.2,1201.2 1414.0,1323.8 1414.5,1326.3C1415.0,1328.8 1418.2,1226.2 1419.0,1212.8C1419.8,1199.4 1423.4,1165.1 1424.3,1165.1C1425.2,1165.1 1428.6,1202.6 1429.4,1212.8C1430.2,1223.0 1433.0,1279.3 1433.9,1287.5C1434.8,1295.7 1438.8,1308.8 1439.9,1311.3C1441.0,1313.8 1446.2,1316.5 1447.3,1317.3C1448.4,1318.0 1452.3,1322.8 1453.3,1320.3C1454.3,1317.8 1458.4,1305.2 1459.3,1287.5C1460.2,1269.8 1463.6,1137.0 1464.5,1108.4C1465.4,1079.8 1469.5,964.1 1470.4,944.2C1471.3,924.3 1474.1,879.6 1474.9,869.6C1475.7,859.6 1479.5,821.1 1480.3,824.8C1481.0,828.5 1483.5,898.1 1483.9,914.3C1484.3,930.5 1485.1,1000.1 1485.4,1018.8C1485.7,1037.5 1487.2,1119.5 1487.5,1138.2C1487.8,1156.9 1489.0,1228.0 1489.3,1242.7C1489.6,1257.4 1490.2,1313.1 1490.7,1314.3C1491.2,1315.5 1495.0,1264.6 1495.8,1257.6C1496.6,1250.6 1499.5,1230.7 1500.3,1230.7C1501.0,1230.7 1504.1,1252.9 1504.8,1257.6C1505.5,1262.3 1507.9,1281.8 1508.4,1287.5C1508.9,1293.2 1510.7,1328.8 1511.3,1326.3C1511.9,1323.8 1514.5,1272.0 1515.2,1257.6C1515.9,1243.2 1519.0,1169.3 1519.7,1153.1C1520.5,1136.9 1523.6,1072.3 1524.2,1063.6C1524.8,1054.9 1526.6,1048.5 1527.2,1048.7C1527.8,1049.0 1530.5,1059.1 1531.0,1066.6C1531.5,1074.1 1532.8,1126.0 1533.1,1138.2C1533.4,1150.4 1534.8,1204.1 1535.2,1212.8C1535.6,1221.5 1537.1,1241.5 1537.6,1242.7C1538.1,1244.0 1540.5,1236.0 1541.2,1227.8C1542.0,1219.6 1545.8,1149.2 1546.6,1144.2C1547.4,1139.2 1550.3,1159.9 1551.0,1168.1C1551.7,1176.3 1554.8,1233.2 1555.5,1242.7C1556.2,1252.2 1559.0,1277.3 1560.0,1281.5C1561.0,1285.7 1566.3,1290.9 1567.5,1293.4C1568.7,1295.9 1573.8,1308.8 1574.9,1311.3C1576.0,1313.8 1580.0,1330.3 1580.9,1323.3C1581.8,1316.3 1584.7,1245.7 1585.4,1227.8C1586.2,1209.9 1589.0,1125.8 1589.9,1108.4C1590.8,1091.0 1594.9,1032.5 1595.8,1018.8C1596.7,1005.1 1599.3,951.7 1600.3,944.2C1601.2,936.7 1606.3,925.6 1607.2,929.3C1608.1,933.0 1610.2,976.6 1610.7,989.0C1611.2,1001.4 1612.5,1063.6 1612.8,1078.5C1613.1,1093.4 1614.2,1150.2 1614.6,1168.1C1615.0,1186.0 1616.9,1285.9 1617.6,1293.4C1618.3,1300.9 1621.8,1262.6 1622.7,1257.6C1623.6,1252.6 1627.3,1233.7 1628.1,1233.7C1628.9,1233.7 1631.8,1253.1 1632.5,1257.6C1633.2,1262.1 1635.6,1282.5 1636.1,1287.5C1636.6,1292.5 1638.0,1322.3 1638.5,1317.3C1639.0,1312.3 1641.9,1240.2 1642.7,1227.8C1643.5,1215.4 1647.2,1175.8 1648.1,1168.1C1649.0,1160.4 1652.6,1135.2 1653.4,1135.2C1654.2,1135.2 1657.0,1159.1 1657.6,1168.1C1658.2,1177.1 1660.1,1230.8 1660.6,1242.7C1661.0,1254.6 1662.4,1316.3 1663.0,1311.3C1663.6,1306.3 1666.6,1196.7 1667.5,1183.0C1668.4,1169.3 1673.3,1144.7 1674.3,1147.2C1675.3,1149.7 1678.6,1203.1 1679.4,1212.8C1680.2,1222.5 1682.9,1257.4 1683.9,1263.6C1684.9,1269.8 1690.1,1283.5 1691.3,1287.5C1692.5,1291.5 1697.4,1308.8 1698.8,1311.3C1700.2,1313.8 1706.7,1321.8 1707.8,1317.3C1708.9,1312.8 1711.3,1277.5 1712.2,1257.6C1713.1,1237.7 1717.9,1097.2 1719.0,1078.5C1720.1,1059.8 1724.0,1042.9 1724.9,1033.7C1725.8,1024.5 1728.7,974.1 1729.4,968.1C1730.1,962.1 1732.7,960.4 1733.3,962.1C1733.9,963.8 1736.4,979.3 1736.9,989.0C1737.5,998.7 1739.5,1063.6 1739.9,1078.5C1740.3,1093.4 1741.5,1151.9 1741.9,1168.1C1742.3,1184.3 1743.6,1262.1 1744.3,1272.5C1745.0,1282.9 1749.4,1293.6 1750.3,1293.4C1751.2,1293.2 1754.0,1269.6 1754.8,1269.6C1755.5,1269.6 1758.4,1289.4 1759.3,1293.4C1760.2,1297.4 1764.3,1320.3 1765.2,1317.3C1766.1,1314.3 1768.8,1265.8 1769.7,1257.6C1770.6,1249.4 1775.3,1221.3 1776.3,1218.8C1777.3,1216.3 1780.9,1222.1 1781.6,1227.8C1782.3,1233.5 1784.1,1280.5 1784.6,1287.5C1785.0,1294.5 1786.5,1316.3 1787.0,1311.3C1787.5,1306.3 1789.8,1239.2 1790.6,1227.8C1791.4,1216.4 1795.7,1177.2 1796.6,1174.0C1797.5,1170.8 1800.3,1184.5 1801.0,1189.0C1801.7,1193.5 1804.5,1220.1 1805.5,1227.8C1806.5,1235.5 1811.8,1274.5 1813.0,1281.5C1814.2,1288.5 1819.2,1307.8 1820.4,1311.3C1821.6,1314.8 1826.7,1322.8 1827.9,1323.3C1829.2,1323.8 1834.5,1322.8 1835.4,1317.3C1836.3,1311.8 1837.9,1270.0 1838.4,1257.6C1838.9,1245.2 1840.7,1180.5 1841.3,1168.1C1841.9,1155.7 1844.9,1118.4 1845.8,1108.4C1846.7,1098.5 1850.9,1057.7 1851.8,1048.7C1852.7,1039.7 1855.6,1005.4 1856.3,1000.9C1857.0,996.4 1860.0,992.2 1860.7,994.9C1861.4,997.6 1864.6,1024.2 1865.2,1033.7C1865.8,1043.2 1867.7,1094.7 1868.2,1108.4C1868.7,1122.1 1870.8,1184.2 1871.2,1197.9C1871.7,1211.6 1873.1,1263.5 1873.6,1272.5C1874.0,1281.5 1875.9,1305.4 1876.6,1305.4C1877.3,1305.4 1881.6,1274.0 1882.5,1272.5C1883.4,1271.0 1886.8,1283.3 1887.6,1287.5C1888.4,1291.7 1891.8,1322.1 1892.7,1323.3C1893.6,1324.5 1897.2,1305.6 1898.1,1302.4C1899.0,1299.2 1903.1,1285.2 1904.0,1284.5C1904.9,1283.8 1907.8,1291.4 1908.5,1293.4C1909.2,1295.4 1912.2,1313.4 1913.0,1308.4C1913.8,1303.4 1916.5,1241.9 1917.5,1233.7C1918.5,1225.5 1923.8,1209.2 1924.9,1209.9C1926.0,1210.7 1929.9,1237.5 1930.9,1242.7C1931.9,1247.9 1935.7,1267.3 1936.9,1272.5C1938.1,1277.7 1944.4,1301.4 1945.8,1305.4C1947.2,1309.4 1952.1,1318.8 1953.3,1320.3C1954.5,1321.8 1959.6,1332.3 1960.7,1323.3C1961.8,1314.3 1965.1,1230.7 1966.0,1212.8C1966.9,1194.9 1970.9,1119.6 1971.9,1108.4C1972.9,1097.2 1976.9,1086.5 1977.9,1078.5C1978.9,1070.5 1983.0,1019.5 1983.9,1012.8C1984.8,1006.1 1987.7,996.2 1988.4,997.9C1989.1,999.6 1992.2,1024.5 1992.8,1033.7C1993.4,1042.9 1995.3,1094.7 1995.8,1108.4C1996.2,1122.1 1997.8,1184.2 1998.2,1197.9C1998.7,1211.6 2000.7,1264.0 2001.2,1272.5C2001.7,1281.0 2003.4,1300.6 2004.2,1299.4C2005.0,1298.2 2009.8,1259.8 2010.7,1257.6C2011.6,1255.4 2014.5,1268.5 2015.2,1272.5C2016.0,1276.5 2019.0,1301.4 2019.7,1305.4C2020.5,1309.4 2023.2,1318.8 2024.2,1320.3C2025.2,1321.8 2030.4,1323.8 2031.6,1323.3C2032.8,1322.8 2037.2,1318.5 2038.2,1314.3C2039.2,1310.1 2042.5,1279.0 2043.6,1272.5C2044.7,1266.0 2049.9,1237.9 2051.0,1236.7C2052.1,1235.5 2056.0,1253.4 2057.0,1257.6C2058.0,1261.8 2061.9,1283.0 2063.0,1287.5C2064.1,1292.0 2069.2,1308.6 2070.4,1311.3C2071.6,1314.0 2076.7,1319.0 2077.9,1320.3C2079.2,1321.5 2084.4,1329.0 2085.4,1326.3C2086.4,1323.6 2089.2,1298.2 2089.9,1287.5C2090.6,1276.8 2093.3,1212.8 2094.3,1197.9C2095.3,1183.0 2100.7,1123.3 2101.8,1108.4C2102.9,1093.5 2106.9,1028.5 2107.8,1018.8C2108.7,1009.1 2112.0,991.9 2112.8,991.9C2113.6,991.9 2116.9,1009.1 2117.6,1018.8C2118.3,1028.5 2120.7,1093.5 2121.2,1108.4C2121.7,1123.3 2123.2,1183.0 2123.6,1197.9C2124.0,1212.8 2125.9,1278.5 2126.6,1287.5C2127.3,1296.5 2131.3,1305.7 2132.5,1305.4C2133.7,1305.2 2140.3,1285.5 2141.5,1284.5C2142.7,1283.5 2145.8,1290.7 2146.6,1293.4C2147.4,1296.1 2150.1,1314.6 2151.0,1317.3C2151.9,1320.0 2156.0,1326.3 2157.0,1326.3C2158.0,1326.3 2162.0,1320.0 2163.0,1317.3C2164.0,1314.6 2167.8,1297.9 2169.0,1293.4C2170.2,1288.9 2176.2,1264.3 2177.3,1263.6C2178.4,1262.9 2181.3,1282.0 2182.2,1284.5C2183.1,1287.0 2187.1,1290.9 2188.2,1293.4C2189.3,1295.9 2194.3,1311.6 2195.7,1314.3C2197.1,1317.0 2203.2,1325.5 2204.6,1326.3C2206.0,1327.0 2211.1,1327.8 2212.1,1323.3C2213.1,1318.8 2215.7,1283.0 2216.6,1272.5C2217.5,1262.0 2221.5,1211.6 2222.5,1197.9C2223.5,1184.2 2227.5,1123.3 2228.5,1108.4C2229.5,1093.5 2233.6,1029.2 2234.5,1018.8C2235.4,1008.3 2238.3,983.5 2239.0,983.0C2239.7,982.5 2242.7,1002.3 2243.4,1012.8C2244.1,1023.2 2247.3,1093.0 2247.9,1108.4C2248.5,1123.8 2250.4,1179.7 2250.9,1197.9C2251.4,1216.1 2253.3,1323.8 2253.9,1326.3C2254.5,1328.8 2257.6,1238.5 2258.4,1227.8C2259.2,1217.1 2262.8,1197.9 2263.7,1197.9C2264.6,1197.9 2268.0,1222.8 2268.8,1227.8C2269.6,1232.8 2272.6,1252.6 2273.3,1257.6C2274.1,1262.6 2277.1,1282.8 2277.8,1287.5C2278.5,1292.2 2281.5,1311.3 2282.2,1314.3C2282.9,1317.3 2286.3,1322.5 2286.7,1323.3" fill="none" stroke="#4444ff" stroke-width="3.0" stroke-linejoin="round"/>
<path d="M214.9,1276.1h12M2289.3,1276.1h-12M214.9,1221.7h12M2289.3,1221.7h-12M214.9,1167.2h12M2289.3,1167.2h-12M214.9,1112.8h12M2289.3,1112.8h-12M214.9,1058.3h22M2289.3,1058.3h-22M214.9,1003.8h12M2289.3,1003.8h-12M214.9,949.4h12M2289.3,949.4h-12M214.9,894.9h12M2289.3,894.9h-12M214.9,840.5h12M2289.3,840.5h-12M263.7,1330.6v-10M263.7,786v10M312.5,1330.6v-10M312.5,786v10M361.3,1330.6v-10M361.3,786v10M410.1,1330.6v-10M410.1,786v10M458.9,1330.6v-21M458.9,786v21M507.8,1330.6v-10M507.8,786v10M556.6,1330.6v-10M556.6,786v10M605.4,1330.6v-10M605.4,786v10M654.2,1330.6v-10M654.2,786v10M703,1330.6v-21M703,786v21M751.8,1330.6v-10M751.8,786v10M800.6,1330.6v-10M800.6,786v10M849.4,1330.6v-10M849.4,786v10M898.2,1330.6v-10M898.2,786v10M947,1330.6v-21M947,786v21M995.9,1330.6v-10M995.9,786v10M1044.7,1330.6v-10M1044.7,786v10M1093.5,1330.6v-10M1093.5,786v10M1142.3,1330.6v-10M1142.3,786v10M1191.1,1330.6v-21M1191.1,786v21M1239.9,1330.6v-10M1239.9,786v10M1288.7,1330.6v-10M1288.7,786v10M1337.5,1330.6v-10M1337.5,786v10M1386.3,1330.6v-10M1386.3,786v10M1435.1,1330.6v-21M1435.1,786v21M1483.9,1330.6v-10M1483.9,786v10M1532.8,1330.6v-10M1532.8,786v10M1581.6,1330.6v-10M1581.6,786v10M1630.4,1330.6v-10M1630.4,786v10M1679.2,1330.6v-21M1679.2,786v21M1728,1330.6v-10M1728,786v10M1776.8,1330.6v-10M1776.8,786v10M1825.6,1330.6v-10M1825.6,786v10M1874.4,1330.6v-10M1874.4,786v10M1923.2,1330.6v-21M1923.2,786v21M1972,1330.6v-10M1972,786v10M2020.8,1330.6v-10M2020.8,786v10M2069.7,1330.6v-10M2069.7,786v10M2118.5,1330.6v-10M2118.5,786v10M2167.3,1330.6v-21M2167.3,786v21M2216.1,1330.6v-10M2216.1,786v10M2264.9,1330.6v-10M2264.9,786v10" stroke="#000" stroke-width="3.6" fill="none"/>
<line x1="214.9" y1="986.3" x2="2289.3" y2="986.3" stroke="#ff00ff" stroke-width="6.2"/>
<line x1="214.9" y1="1300.2" x2="2289.3" y2="1300.2" stroke="#00ff00" stroke-width="8.6"/>
<rect x="214.9" y="786" width="2074.4" height="544.6" rx="6" fill="none" stroke="#111" stroke-width="4.6"/>
<text transform="matrix(0.8000 0 0 1 167.05 1356.41)" font-family='"Liberation Sans", Arial, sans-serif' font-size="73.00" fill="#000">0</text>
<text transform="matrix(0.8000 0 0 1 167.63 1084.11)" font-family='"Liberation Sans", Arial, sans-serif' font-size="73.00" fill="#000">1</text>
<text transform="matrix(0.8000 0 0 1 167.75 812.18)" font-family='"Liberation Sans", Arial, sans-serif' font-size="73.00" fill="#000">2</text>
<text transform="matrix(0.8320 0 0 1 142.62 1412.62)" font-family='"Liberation Sans", Arial, sans-serif' font-size="70.20" fill="#000">10/10</text>
<text transform="matrix(0.8320 0 0 1 387.02 1412.62)" font-family='"Liberation Sans", Arial, sans-serif' font-size="70.20" fill="#000">10/12</text>
<text transform="matrix(0.8320 0 0 1 630.48 1412.62)" font-family='"Liberation Sans", Arial, sans-serif' font-size="70.20" fill="#000">10/14</text>
<text transform="matrix(0.8320 0 0 1 874.94 1412.62)" font-family='"Liberation Sans", Arial, sans-serif' font-size="70.20" fill="#000">10/16</text>
<text transform="matrix(0.8320 0 0 1 1118.99 1412.62)" font-family='"Liberation Sans", Arial, sans-serif' font-size="70.20" fill="#000">10/18</text>
<text transform="matrix(0.8320 0 0 1 1362.86 1412.62)" font-family='"Liberation Sans", Arial, sans-serif' font-size="70.20" fill="#000">10/20</text>
<text transform="matrix(0.8320 0 0 1 1607.26 1412.62)" font-family='"Liberation Sans", Arial, sans-serif' font-size="70.20" fill="#000">10/22</text>
<text transform="matrix(0.8320 0 0 1 1850.72 1412.62)" font-family='"Liberation Sans", Arial, sans-serif' font-size="70.20" fill="#000">10/24</text>
<text transform="matrix(0.8320 0 0 1 2095.18 1412.62)" font-family='"Liberation Sans", Arial, sans-serif' font-size="70.20" fill="#000">10/26</text>
<text transform="matrix(0 -0.8419 1 0 126.27 1253.82)" font-family='"Liberation Sans", Arial, sans-serif' font-size="69.85" fill="#000" >Bed shear [Pa]</text>
<text transform="matrix(0.9031 0 0 1 256.03 893.40)" font-family='"Liberation Sans", Arial, sans-serif' font-size="109.01" fill="#000" >P7</text>
<line x1="209.5" y1="1944.3" x2="2291" y2="1944.3" stroke="#7c7c7c" stroke-width="2.8" stroke-dasharray="3 7.4"/>
<line x1="209.5" y1="1890.1" x2="2291" y2="1890.1" stroke="#7c7c7c" stroke-width="2.8" stroke-dasharray="3 7.4"/>
<line x1="209.5" y1="1836" x2="2291" y2="1836" stroke="#7c7c7c" stroke-width="2.8" stroke-dasharray="3 7.4"/>
<line x1="209.5" y1="1781.8" x2="2291" y2="1781.8" stroke="#7c7c7c" stroke-width="2.8" stroke-dasharray="3 7.4"/>
<line x1="209.5" y1="1727.7" x2="2291" y2="1727.7" stroke="#7c7c7c" stroke-width="2.8" stroke-dasharray="3 7.4"/>
<line x1="209.5" y1="1673.6" x2="2291" y2="1673.6" stroke="#7c7c7c" stroke-width="2.8" stroke-dasharray="3 7.4"/>
<line x1="209.5" y1="1619.4" x2="2291" y2="1619.4" stroke="#7c7c7c" stroke-width="2.8" stroke-dasharray="3 7.4"/>
<line x1="209.5" y1="1565.3" x2="2291" y2="1565.3" stroke="#7c7c7c" stroke-width="2.8" stroke-dasharray="3 7.4"/>
<line x1="209.5" y1="1511.1" x2="2291" y2="1511.1" stroke="#7c7c7c" stroke-width="2.8" stroke-dasharray="3 7.4"/>
<line x1="258.5" y1="1457" x2="258.5" y2="1998.4" stroke="#7c7c7c" stroke-width="2.8" stroke-dasharray="3 7.4"/>
<line x1="307.5" y1="1457" x2="307.5" y2="1998.4" stroke="#7c7c7c" stroke-width="2.8" stroke-dasharray="3 7.4"/>
<line x1="356.4" y1="1457" x2="356.4" y2="1998.4" stroke="#7c7c7c" stroke-width="2.8" stroke-dasharray="3 7.4"/>
<line x1="405.4" y1="1457" x2="405.4" y2="1998.4" stroke="#7c7c7c" stroke-width="2.8" stroke-dasharray="3 7.4"/>
<line x1="503.4" y1="1457" x2="503.4" y2="1998.4" stroke="#7c7c7c" stroke-width="2.8" stroke-dasharray="3 7.4"/>
<line x1="552.3" y1="1457" x2="552.3" y2="1998.4" stroke="#7c7c7c" stroke-width="2.8" stroke-dasharray="3 7.4"/>
<line x1="601.3" y1="1457" x2="601.3" y2="1998.4" stroke="#7c7c7c" stroke-width="2.8" stroke-dasharray="3 7.4"/>
<line x1="650.3" y1="1457" x2="650.3" y2="1998.4" stroke="#7c7c7c" stroke-width="2.8" stroke-dasharray="3 7.4"/>
<line x1="748.2" y1="1457" x2="748.2" y2="1998.4" stroke="#7c7c7c" stroke-width="2.8" stroke-dasharray="3 7.4"/>
<line x1="797.2" y1="1457" x2="797.2" y2="1998.4" stroke="#7c7c7c" stroke-width="2.8" stroke-dasharray="3 7.4"/>
<line x1="846.2" y1="1457" x2="846.2" y2="1998.4" stroke="#7c7c7c" stroke-width="2.8" stroke-dasharray="3 7.4"/>
<line x1="895.2" y1="1457" x2="895.2" y2="1998.4" stroke="#7c7c7c" stroke-width="2.8" stroke-dasharray="3 7.4"/>
<line x1="993.1" y1="1457" x2="993.1" y2="1998.4" stroke="#7c7c7c" stroke-width="2.8" stroke-dasharray="3 7.4"/>
<line x1="1042.1" y1="1457" x2="1042.1" y2="1998.4" stroke="#7c7c7c" stroke-width="2.8" stroke-dasharray="3 7.4"/>
<line x1="1091.1" y1="1457" x2="1091.1" y2="1998.4" stroke="#7c7c7c" stroke-width="2.8" stroke-dasharray="3 7.4"/>
<line x1="1140.1" y1="1457" x2="1140.1" y2="1998.4" stroke="#7c7c7c" stroke-width="2.8" stroke-dasharray="3 7.4"/>
<line x1="1238" y1="1457" x2="1238" y2="1998.4" stroke="#7c7c7c" stroke-width="2.8" stroke-dasharray="3 7.4"/>
<line x1="1287" y1="1457" x2="1287" y2="1998.4" stroke="#7c7c7c" stroke-width="2.8" stroke-dasharray="3 7.4"/>
<line x1="1336" y1="1457" x2="1336" y2="1998.4" stroke="#7c7c7c" stroke-width="2.8" stroke-dasharray="3 7.4"/>
<line x1="1384.9" y1="1457" x2="1384.9" y2="1998.4" stroke="#7c7c7c" stroke-width="2.8" stroke-dasharray="3 7.4"/>
<line x1="1482.9" y1="1457" x2="1482.9" y2="1998.4" stroke="#7c7c7c" stroke-width="2.8" stroke-dasharray="3 7.4"/>
<line x1="1531.9" y1="1457" x2="1531.9" y2="1998.4" stroke="#7c7c7c" stroke-width="2.8" stroke-dasharray="3 7.4"/>
<line x1="1580.8" y1="1457" x2="1580.8" y2="1998.4" stroke="#7c7c7c" stroke-width="2.8" stroke-dasharray="3 7.4"/>
<line x1="1629.8" y1="1457" x2="1629.8" y2="1998.4" stroke="#7c7c7c" stroke-width="2.8" stroke-dasharray="3 7.4"/>
<line x1="1727.8" y1="1457" x2="1727.8" y2="1998.4" stroke="#7c7c7c" stroke-width="2.8" stroke-dasharray="3 7.4"/>
<line x1="1776.7" y1="1457" x2="1776.7" y2="1998.4" stroke="#7c7c7c" stroke-width="2.8" stroke-dasharray="3 7.4"/>
<line x1="1825.7" y1="1457" x2="1825.7" y2="1998.4" stroke="#7c7c7c" stroke-width="2.8" stroke-dasharray="3 7.4"/>
<line x1="1874.7" y1="1457" x2="1874.7" y2="1998.4" stroke="#7c7c7c" stroke-width="2.8" stroke-dasharray="3 7.4"/>
<line x1="1972.7" y1="1457" x2="1972.7" y2="1998.4" stroke="#7c7c7c" stroke-width="2.8" stroke-dasharray="3 7.4"/>
<line x1="2021.6" y1="1457" x2="2021.6" y2="1998.4" stroke="#7c7c7c" stroke-width="2.8" stroke-dasharray="3 7.4"/>
<line x1="2070.6" y1="1457" x2="2070.6" y2="1998.4" stroke="#7c7c7c" stroke-width="2.8" stroke-dasharray="3 7.4"/>
<line x1="2119.6" y1="1457" x2="2119.6" y2="1998.4" stroke="#7c7c7c" stroke-width="2.8" stroke-dasharray="3 7.4"/>
<line x1="2217.5" y1="1457" x2="2217.5" y2="1998.4" stroke="#7c7c7c" stroke-width="2.8" stroke-dasharray="3 7.4"/>
<line x1="2266.5" y1="1457" x2="2266.5" y2="1998.4" stroke="#7c7c7c" stroke-width="2.8" stroke-dasharray="3 7.4"/>
<line x1="454.4" y1="1457" x2="454.4" y2="1998.4" stroke="#2a2a2a" stroke-width="3.5"/>
<line x1="699.3" y1="1457" x2="699.3" y2="1998.4" stroke="#2a2a2a" stroke-width="3.5"/>
<line x1="944.1" y1="1457" x2="944.1" y2="1998.4" stroke="#2a2a2a" stroke-width="3.5"/>
<line x1="1189" y1="1457" x2="1189" y2="1998.4" stroke="#2a2a2a" stroke-width="3.5"/>
<line x1="1433.9" y1="1457" x2="1433.9" y2="1998.4" stroke="#2a2a2a" stroke-width="3.5"/>
<line x1="1678.8" y1="1457" x2="1678.8" y2="1998.4" stroke="#2a2a2a" stroke-width="3.5"/>
<line x1="1923.7" y1="1457" x2="1923.7" y2="1998.4" stroke="#2a2a2a" stroke-width="3.5"/>
<line x1="2168.6" y1="1457" x2="2168.6" y2="1998.4" stroke="#2a2a2a" stroke-width="3.5"/>
<path d="M213.6,1769.6C213.9,1770.7 216.4,1780.2 217.1,1783.3C217.8,1786.3 220.7,1803.1 221.6,1806.2C222.5,1809.3 226.6,1817.1 227.4,1820.0C228.2,1822.9 230.0,1837.2 230.8,1840.6C231.6,1844.0 235.6,1857.9 236.5,1861.2C237.4,1864.4 240.4,1877.9 241.1,1879.6C241.8,1881.3 244.1,1880.4 244.6,1881.9C245.1,1883.4 246.5,1894.3 246.9,1897.9C247.3,1901.5 248.7,1917.9 249.1,1925.4C249.5,1932.8 250.9,1988.3 251.4,1987.3C251.9,1986.3 254.3,1925.7 254.9,1913.9C255.5,1902.1 257.8,1854.7 258.3,1845.2C258.8,1835.6 260.1,1805.4 260.6,1799.3C261.1,1793.2 263.5,1775.8 264.0,1771.8C264.5,1767.8 266.4,1752.1 267.0,1751.9C267.6,1751.7 270.4,1766.5 270.9,1769.5C271.4,1772.5 272.9,1783.5 273.2,1787.9C273.5,1792.3 274.1,1816.6 274.4,1822.3C274.7,1828.0 276.3,1849.9 276.7,1856.6C277.1,1863.3 278.5,1894.9 278.9,1902.5C279.3,1910.1 280.7,1941.6 281.2,1948.3C281.7,1955.0 283.9,1979.3 284.7,1982.7C285.5,1986.1 289.5,1989.8 290.4,1989.6C291.4,1989.4 295.1,1980.6 296.1,1980.4C297.1,1980.2 301.0,1988.5 301.9,1987.3C302.8,1986.1 305.4,1969.8 306.4,1966.6C307.5,1963.3 313.4,1948.9 314.5,1948.3C315.6,1947.7 319.3,1957.1 320.2,1959.8C321.1,1962.5 324.1,1979.4 324.8,1980.4C325.5,1981.3 327.7,1976.7 328.2,1971.2C328.7,1965.7 330.1,1922.5 330.5,1913.9C330.9,1905.3 332.4,1874.8 332.8,1868.1C333.2,1861.4 334.7,1839.4 335.1,1833.7C335.5,1828.0 336.7,1803.3 337.4,1799.3C338.1,1795.3 342.3,1784.6 343.1,1785.6C343.9,1786.6 345.7,1808.7 346.6,1810.8C347.5,1812.9 352.5,1808.9 353.4,1810.8C354.3,1812.7 356.2,1828.9 356.9,1833.7C357.6,1838.5 360.6,1862.4 361.5,1868.1C362.4,1873.8 366.3,1900.8 367.2,1902.5C368.2,1904.2 372.1,1887.7 372.9,1888.7C373.7,1889.6 375.9,1905.7 376.4,1913.9C376.9,1922.1 378.1,1987.3 378.6,1987.3C379.1,1987.3 381.6,1924.8 382.1,1913.9C382.6,1903.0 384.0,1865.2 384.4,1856.6C384.8,1848.0 386.3,1817.5 386.7,1810.8C387.1,1804.1 388.3,1781.3 389.0,1776.4C389.7,1771.5 393.8,1752.9 394.7,1751.9C395.7,1751.0 399.5,1761.0 400.4,1765.0C401.3,1769.0 404.4,1792.6 405.0,1799.3C405.6,1806.0 406.9,1832.8 407.3,1845.2C407.7,1857.6 409.0,1936.6 409.6,1948.3C410.2,1960.0 413.3,1984.0 414.2,1985.0C415.1,1986.0 419.0,1964.4 419.9,1959.8C420.9,1955.2 424.6,1930.2 425.6,1930.0C426.6,1929.8 430.5,1952.9 431.4,1957.5C432.3,1962.1 435.1,1984.2 435.9,1985.0C436.7,1985.8 439.7,1968.9 440.5,1966.6C441.3,1964.3 444.2,1957.1 445.1,1957.5C446.0,1957.9 450.0,1968.7 450.8,1971.2C451.6,1973.7 453.6,1993.0 454.3,1987.3C455.0,1981.6 458.1,1913.8 459.0,1902.5C459.9,1891.2 463.8,1859.2 464.8,1852.1C465.8,1845.0 469.6,1820.0 470.5,1817.7C471.4,1815.4 474.3,1824.6 475.1,1824.6C475.9,1824.6 478.9,1816.6 479.7,1817.7C480.5,1818.8 483.4,1834.1 484.2,1838.3C485.0,1842.5 487.8,1864.3 488.8,1868.1C489.8,1871.9 494.7,1880.8 495.7,1884.1C496.8,1887.3 500.6,1901.8 501.4,1907.1C502.2,1912.4 504.5,1941.6 504.9,1948.3C505.3,1955.0 506.0,1993.0 506.5,1987.3C507.0,1981.6 510.0,1894.3 510.6,1879.6C511.2,1864.9 513.5,1821.3 514.0,1810.8C514.5,1800.3 515.7,1760.8 516.3,1753.5C516.9,1746.2 520.1,1728.0 520.9,1723.7C521.7,1719.4 524.8,1700.2 525.5,1701.4C526.2,1702.6 528.3,1729.3 528.9,1737.5C529.5,1745.7 531.9,1789.4 532.4,1799.3C532.9,1809.2 534.4,1847.0 534.7,1856.6C535.0,1866.1 535.5,1904.0 535.8,1913.9C536.1,1923.8 537.6,1969.9 538.1,1975.8C538.6,1981.7 540.9,1989.2 541.6,1985.0C542.3,1980.8 545.1,1934.4 546.1,1925.4C547.1,1916.4 552.0,1879.2 553.0,1877.3C554.0,1875.4 556.8,1897.0 557.6,1902.5C558.4,1908.0 561.4,1937.6 562.2,1943.7C563.0,1949.8 565.9,1975.4 566.8,1975.8C567.7,1976.2 571.5,1951.9 572.5,1948.3C573.5,1944.7 577.3,1931.9 578.2,1932.3C579.1,1932.7 582.0,1948.5 582.8,1952.9C583.6,1957.3 586.6,1987.3 587.4,1985.0C588.2,1982.7 591.3,1936.1 592.0,1925.4C592.7,1914.7 594.6,1864.2 595.4,1856.6C596.2,1849.0 600.1,1836.9 601.1,1833.7C602.1,1830.5 607.0,1816.4 608.0,1817.7C609.0,1819.0 612.7,1844.6 613.7,1849.8C614.8,1855.0 619.7,1875.2 620.6,1879.6C621.5,1884.0 623.4,1901.7 624.1,1902.5C624.8,1903.3 627.9,1886.8 628.6,1888.7C629.3,1890.6 631.6,1918.1 632.1,1925.4C632.6,1932.7 634.0,1975.8 634.4,1975.8C634.8,1975.8 636.3,1935.3 636.7,1925.4C637.1,1915.5 638.6,1868.1 639.0,1856.6C639.4,1845.1 640.8,1798.4 641.3,1787.9C641.8,1777.4 644.0,1739.9 644.7,1730.6C645.4,1721.3 649.1,1677.3 650.0,1676.3C650.9,1675.3 654.4,1710.8 655.0,1719.1C655.6,1727.4 656.9,1766.8 657.3,1776.4C657.7,1785.9 659.1,1822.2 659.6,1833.7C660.1,1845.2 662.5,1901.1 663.0,1913.9C663.5,1926.7 664.8,1985.4 665.3,1987.3C665.8,1989.2 668.2,1949.7 668.8,1936.9C669.4,1924.1 671.6,1845.0 672.2,1833.7C672.8,1822.4 674.9,1805.6 675.6,1801.6C676.3,1797.6 679.4,1784.8 680.2,1785.6C681.0,1786.4 684.0,1803.9 684.8,1810.8C685.6,1817.7 688.7,1858.5 689.4,1868.1C690.1,1877.6 692.2,1916.4 692.8,1925.4C693.4,1934.4 695.5,1975.8 696.3,1975.8C697.1,1975.8 701.0,1930.9 702.0,1925.4C703.0,1919.9 706.8,1909.4 707.7,1909.4C708.6,1909.4 711.9,1921.2 712.5,1925.4C713.1,1929.6 714.2,1955.4 714.8,1959.8C715.4,1964.2 718.7,1981.0 719.4,1978.1C720.1,1975.2 722.2,1935.5 722.8,1925.4C723.4,1915.3 725.6,1866.1 726.2,1856.6C726.8,1847.1 729.6,1813.6 730.4,1811.5C731.2,1809.4 734.5,1829.5 735.4,1831.4C736.3,1833.2 740.2,1832.0 741.1,1833.7C742.0,1835.4 744.8,1848.3 745.7,1852.1C746.6,1855.9 750.6,1873.5 751.4,1879.6C752.2,1885.7 754.3,1919.3 754.9,1925.4C755.5,1931.5 757.7,1953.9 758.3,1952.9C758.9,1951.9 761.2,1921.9 761.8,1913.9C762.4,1905.9 764.7,1867.1 765.2,1856.6C765.7,1846.1 767.1,1797.4 767.5,1787.9C767.9,1778.3 769.3,1749.6 769.8,1742.0C770.3,1734.4 772.6,1705.3 773.2,1696.2C773.8,1687.1 776.4,1632.7 777.1,1633.1C777.8,1633.5 780.7,1692.7 781.2,1700.8C781.7,1708.9 783.2,1721.4 783.5,1730.6C783.8,1739.8 784.5,1795.5 784.7,1810.8C784.9,1826.1 785.4,1901.5 785.8,1913.9C786.2,1926.3 788.7,1953.9 789.3,1959.8C789.9,1965.7 792.1,1991.7 792.7,1985.0C793.3,1978.3 795.6,1895.1 796.1,1879.6C796.6,1864.1 797.8,1809.3 798.4,1799.3C799.0,1789.3 802.2,1761.5 803.0,1759.2C803.8,1756.9 806.9,1768.5 807.6,1771.8C808.3,1775.1 810.4,1793.2 811.0,1799.3C811.6,1805.4 813.9,1837.6 814.5,1845.2C815.1,1852.8 817.2,1879.2 817.9,1891.0C818.6,1902.8 821.7,1984.4 822.5,1987.3C823.3,1990.2 826.4,1935.3 827.1,1925.4C827.8,1915.5 829.7,1874.1 830.5,1868.1C831.3,1862.1 835.4,1853.2 836.2,1853.2C837.0,1853.2 839.1,1864.0 839.7,1868.1C840.3,1872.2 842.4,1892.6 843.1,1902.5C843.8,1912.4 846.9,1987.3 847.7,1987.3C848.5,1987.3 851.5,1916.1 852.3,1902.5C853.1,1888.9 856.0,1831.9 856.9,1824.6C857.8,1817.3 861.6,1816.9 862.6,1815.4C863.6,1813.9 867.4,1804.7 868.3,1806.2C869.2,1807.7 871.9,1829.1 872.9,1833.7C873.9,1838.3 879.0,1854.0 879.8,1861.6C880.6,1869.2 881.8,1914.9 882.1,1925.4C882.4,1935.9 883.4,1989.2 883.9,1987.3C884.4,1985.4 887.2,1915.3 887.8,1902.5C888.4,1889.7 890.8,1847.1 891.3,1833.7C891.8,1820.3 893.0,1754.4 893.5,1742.0C894.0,1729.6 896.5,1692.1 897.0,1684.7C897.5,1677.3 899.3,1652.0 900.0,1653.3C900.7,1654.6 904.4,1691.5 905.0,1700.8C905.6,1710.1 906.9,1752.0 907.3,1765.0C907.7,1778.0 909.1,1843.2 909.6,1856.6C910.1,1870.0 912.6,1914.5 913.0,1925.4C913.4,1936.3 914.1,1989.2 914.6,1987.3C915.1,1985.4 918.2,1917.2 918.8,1902.5C919.4,1887.8 921.6,1823.8 922.2,1810.8C922.8,1797.8 925.0,1752.3 925.6,1746.6C926.2,1740.9 928.5,1741.6 929.1,1742.0C929.7,1742.4 932.0,1747.4 932.5,1751.2C933.0,1755.0 934.2,1782.0 934.8,1787.9C935.4,1793.8 938.6,1818.7 939.4,1822.3C940.2,1825.9 943.3,1824.7 944.0,1831.4C944.7,1838.1 946.9,1890.5 947.4,1902.5C947.9,1914.5 949.2,1973.9 949.7,1975.8C950.2,1977.7 952.4,1938.2 953.1,1925.4C953.8,1912.6 956.7,1832.6 957.7,1822.3C958.7,1812.0 963.9,1802.6 964.8,1801.6C965.7,1800.6 967.7,1805.3 968.2,1810.8C968.7,1816.3 970.1,1858.5 970.5,1868.1C970.9,1877.6 972.4,1916.8 972.8,1925.4C973.2,1934.0 974.6,1969.3 975.1,1971.2C975.6,1973.1 977.9,1955.0 978.5,1948.3C979.1,1941.6 981.4,1901.5 982.0,1891.0C982.6,1880.5 984.6,1830.5 985.4,1822.3C986.2,1814.1 990.8,1793.3 991.8,1792.5C992.8,1791.7 996.1,1811.6 996.9,1813.1C997.7,1814.6 1000.7,1808.1 1001.4,1810.8C1002.1,1813.5 1004.3,1837.6 1004.9,1845.2C1005.5,1852.8 1007.8,1895.8 1008.3,1902.5C1008.8,1909.2 1010.3,1918.9 1010.6,1925.4C1010.9,1931.9 1012.0,1984.2 1012.4,1980.4C1012.8,1976.6 1014.7,1894.7 1015.2,1879.6C1015.7,1864.5 1017.4,1812.7 1017.9,1799.3C1018.4,1785.9 1020.4,1729.2 1020.9,1719.1C1021.4,1709.0 1023.9,1685.3 1024.4,1677.9C1024.9,1670.5 1026.6,1628.6 1027.1,1630.1C1027.6,1631.6 1029.7,1686.9 1030.1,1696.2C1030.5,1705.5 1032.0,1730.5 1032.4,1742.0C1032.8,1753.5 1034.3,1818.4 1034.7,1833.7C1035.1,1849.0 1036.6,1914.9 1037.0,1925.4C1037.4,1935.9 1038.7,1965.5 1039.3,1959.8C1039.9,1954.1 1043.1,1872.8 1043.8,1856.6C1044.5,1840.4 1046.6,1776.1 1047.3,1765.0C1048.0,1753.9 1051.5,1724.7 1052.3,1723.7C1053.1,1722.7 1055.8,1748.2 1056.4,1753.5C1057.0,1758.8 1059.4,1782.7 1059.9,1787.9C1060.4,1793.1 1061.6,1813.3 1062.2,1815.4C1062.8,1817.5 1066.1,1812.5 1066.8,1813.1C1067.5,1813.7 1069.6,1818.7 1070.2,1822.3C1070.8,1825.9 1073.1,1849.0 1073.6,1856.6C1074.1,1864.2 1075.5,1903.2 1075.9,1913.9C1076.3,1924.6 1077.7,1986.0 1078.2,1985.0C1078.7,1984.0 1081.1,1918.9 1081.7,1902.5C1082.3,1886.1 1084.4,1800.7 1085.1,1787.9C1085.8,1775.1 1089.0,1753.2 1089.7,1748.9C1090.4,1744.6 1092.5,1732.9 1093.1,1735.8C1093.7,1738.7 1096.1,1776.1 1096.6,1783.3C1097.1,1790.5 1098.4,1812.4 1098.8,1822.3C1099.2,1832.2 1100.6,1888.9 1101.1,1902.5C1101.6,1916.1 1103.9,1984.0 1104.6,1985.0C1105.3,1986.0 1108.4,1928.4 1109.2,1913.9C1110.0,1899.4 1112.9,1821.9 1113.7,1810.8C1114.5,1799.7 1117.9,1782.0 1118.8,1781.0C1119.7,1780.0 1123.3,1794.0 1124.1,1799.3C1124.9,1804.6 1127.8,1836.6 1128.6,1845.2C1129.4,1853.8 1132.4,1893.0 1133.2,1902.5C1134.0,1912.0 1137.0,1962.7 1137.8,1959.8C1138.6,1956.9 1141.7,1881.5 1142.4,1868.1C1143.1,1854.7 1145.2,1809.2 1145.8,1799.3C1146.4,1789.4 1148.7,1750.5 1149.3,1749.5C1149.9,1748.5 1152.1,1777.1 1152.7,1787.9C1153.3,1798.7 1155.7,1867.2 1156.2,1879.6C1156.7,1892.0 1157.8,1929.3 1158.4,1936.9C1159.0,1944.5 1162.3,1976.0 1163.0,1971.2C1163.7,1966.4 1165.9,1896.8 1166.5,1879.6C1167.1,1862.4 1169.2,1780.3 1169.9,1765.0C1170.6,1749.7 1173.7,1700.4 1174.5,1696.2C1175.3,1692.0 1178.4,1711.6 1179.1,1714.5C1179.8,1717.4 1182.0,1726.4 1182.5,1730.6C1183.0,1734.8 1184.2,1759.3 1184.8,1765.0C1185.4,1770.7 1188.5,1795.9 1189.4,1799.3C1190.3,1802.7 1194.2,1804.3 1195.1,1806.2C1196.0,1808.1 1199.0,1814.3 1199.7,1822.3C1200.4,1830.3 1202.6,1889.7 1203.1,1902.5C1203.6,1915.3 1204.9,1977.3 1205.4,1975.8C1205.9,1974.3 1208.3,1900.7 1209.0,1884.1C1209.7,1867.5 1212.9,1787.9 1213.6,1776.4C1214.3,1764.9 1216.5,1751.0 1217.1,1746.6C1217.7,1742.2 1219.9,1722.6 1220.5,1724.1C1221.1,1725.6 1223.4,1755.9 1223.9,1765.0C1224.4,1774.1 1225.8,1823.2 1226.2,1833.7C1226.6,1844.2 1228.1,1880.5 1228.5,1891.0C1228.9,1901.5 1230.5,1951.8 1230.8,1959.8C1231.1,1967.8 1232.2,1991.1 1232.6,1987.3C1233.0,1983.5 1234.9,1926.7 1235.4,1913.9C1235.9,1901.1 1238.2,1843.6 1238.8,1833.7C1239.4,1823.8 1241.7,1800.5 1242.3,1794.8C1242.9,1789.1 1245.6,1765.6 1246.4,1765.0C1247.2,1764.4 1250.7,1781.2 1251.4,1787.9C1252.1,1794.6 1254.3,1834.7 1254.9,1845.2C1255.5,1855.7 1257.8,1902.1 1258.3,1913.9C1258.8,1925.7 1260.7,1989.2 1261.3,1987.3C1261.9,1985.4 1264.6,1903.8 1265.2,1891.0C1265.8,1878.2 1268.0,1842.7 1268.6,1833.7C1269.2,1824.7 1271.6,1789.0 1272.1,1783.3C1272.6,1777.6 1274.1,1769.9 1274.4,1765.0C1274.7,1760.1 1275.8,1724.4 1276.2,1724.4C1276.6,1724.4 1278.5,1757.8 1278.9,1765.0C1279.3,1772.2 1280.8,1801.2 1281.2,1810.8C1281.6,1820.3 1283.1,1869.1 1283.5,1879.6C1283.9,1890.1 1285.5,1928.1 1285.8,1936.9C1286.1,1945.7 1286.6,1989.8 1287.0,1985.0C1287.4,1980.2 1289.8,1894.1 1290.4,1879.6C1291.0,1865.1 1293.2,1823.8 1293.8,1810.8C1294.4,1797.8 1296.6,1732.4 1297.3,1723.7C1298.0,1715.0 1301.2,1704.8 1301.9,1706.0C1302.6,1707.2 1304.7,1731.6 1305.3,1737.5C1305.9,1743.4 1308.1,1770.1 1308.7,1776.4C1309.3,1782.7 1311.5,1810.4 1312.2,1813.1C1312.9,1815.8 1316.1,1807.7 1316.8,1808.5C1317.5,1809.3 1319.6,1819.2 1320.2,1822.3C1320.8,1825.4 1322.9,1841.8 1323.6,1845.2C1324.3,1848.6 1327.6,1857.8 1328.2,1863.5C1328.8,1869.2 1330.0,1903.8 1330.5,1913.9C1331.0,1924.0 1333.4,1991.7 1334.0,1985.0C1334.6,1978.3 1336.9,1852.0 1337.4,1833.7C1337.9,1815.4 1339.2,1775.5 1339.7,1765.0C1340.2,1754.5 1342.5,1715.1 1343.1,1707.7C1343.7,1700.3 1346.0,1675.6 1346.6,1676.6C1347.2,1677.5 1349.5,1709.8 1350.0,1719.1C1350.5,1728.4 1351.8,1774.5 1352.3,1787.9C1352.8,1801.3 1355.2,1864.3 1355.7,1879.6C1356.2,1894.9 1357.7,1962.4 1358.0,1971.2C1358.3,1980.0 1358.7,1986.9 1359.2,1985.0C1359.7,1983.1 1363.1,1957.1 1363.7,1948.3C1364.3,1939.5 1365.5,1888.2 1366.0,1879.6C1366.5,1871.0 1368.9,1851.8 1369.5,1845.2C1370.1,1838.6 1372.9,1801.2 1373.6,1800.2C1374.3,1799.2 1377.0,1827.1 1377.5,1833.7C1378.0,1840.3 1379.3,1871.0 1379.8,1879.6C1380.3,1888.2 1382.7,1930.2 1383.2,1936.9C1383.7,1943.6 1385.0,1960.8 1385.5,1959.8C1386.0,1958.8 1388.4,1934.0 1389.0,1925.4C1389.6,1916.8 1391.8,1866.1 1392.4,1856.6C1393.0,1847.0 1395.2,1817.6 1395.8,1810.8C1396.4,1804.0 1399.3,1776.2 1400.0,1774.7C1400.7,1773.2 1403.4,1786.6 1403.9,1792.5C1404.4,1798.4 1405.8,1835.1 1406.2,1845.2C1406.6,1855.3 1408.1,1903.8 1408.4,1913.9C1408.7,1924.0 1409.8,1964.7 1410.3,1966.6C1410.8,1968.5 1413.7,1948.0 1414.2,1936.9C1414.7,1925.8 1416.0,1848.0 1416.5,1833.7C1417.0,1819.4 1419.4,1774.2 1419.9,1765.0C1420.4,1755.8 1421.8,1729.0 1422.2,1723.7C1422.6,1718.3 1424.0,1700.8 1424.5,1700.8C1425.0,1700.8 1427.2,1719.3 1427.9,1723.7C1428.6,1728.1 1431.8,1748.2 1432.5,1753.5C1433.2,1758.8 1435.3,1783.5 1435.9,1787.9C1436.5,1792.3 1438.6,1804.3 1439.4,1806.2C1440.2,1808.1 1444.2,1810.8 1445.1,1810.8C1446.0,1810.8 1448.9,1805.2 1449.7,1806.2C1450.5,1807.2 1453.7,1818.1 1454.3,1822.3C1454.9,1826.5 1456.1,1843.2 1456.6,1856.6C1457.1,1870.0 1459.6,1979.8 1460.2,1982.7C1460.8,1985.6 1463.1,1903.8 1463.6,1891.0C1464.1,1878.2 1465.5,1838.1 1465.9,1829.1C1466.3,1820.1 1467.8,1791.4 1468.2,1783.3C1468.6,1775.2 1470.5,1734.0 1471.2,1731.9C1471.9,1729.8 1475.6,1750.6 1476.2,1758.1C1476.8,1765.6 1478.1,1811.2 1478.5,1822.3C1478.9,1833.4 1480.4,1880.5 1480.8,1891.0C1481.2,1901.5 1482.7,1940.5 1483.1,1948.3C1483.5,1956.1 1484.9,1983.1 1485.4,1985.0C1485.9,1986.9 1488.2,1977.1 1488.8,1971.2C1489.4,1965.3 1491.7,1924.4 1492.3,1913.9C1492.9,1903.4 1495.0,1852.1 1495.7,1845.2C1496.4,1838.3 1500.2,1829.5 1501.0,1831.4C1501.8,1833.3 1504.3,1861.2 1504.9,1868.1C1505.5,1875.0 1507.7,1904.2 1508.3,1913.9C1508.9,1923.6 1511.2,1982.1 1511.8,1985.0C1512.4,1987.9 1515.0,1958.6 1515.6,1948.3C1516.2,1938.0 1518.4,1869.4 1519.3,1861.2C1520.2,1853.0 1525.8,1848.3 1526.7,1849.8C1527.6,1851.3 1529.5,1873.3 1530.1,1879.6C1530.7,1885.9 1533.0,1916.4 1533.5,1925.4C1534.0,1934.4 1535.7,1991.1 1536.3,1987.3C1536.9,1983.5 1539.9,1894.3 1540.4,1879.6C1540.9,1864.9 1542.2,1820.7 1542.7,1810.8C1543.2,1800.9 1545.4,1766.9 1546.1,1760.4C1546.8,1753.9 1549.9,1732.5 1550.7,1732.9C1551.5,1733.3 1554.6,1759.5 1555.3,1765.0C1556.0,1770.5 1558.1,1794.9 1558.7,1799.3C1559.3,1803.7 1561.4,1816.0 1562.2,1817.7C1563.0,1819.4 1567.0,1816.8 1567.9,1820.0C1568.8,1823.2 1571.6,1852.2 1572.5,1856.6C1573.4,1861.0 1577.5,1867.9 1578.2,1872.7C1578.9,1877.5 1580.2,1905.7 1580.5,1913.9C1580.8,1922.1 1581.7,1970.2 1582.1,1971.2C1582.5,1972.2 1584.6,1934.9 1585.1,1925.4C1585.6,1915.8 1588.0,1868.1 1588.5,1856.6C1589.0,1845.1 1590.2,1797.1 1590.8,1787.9C1591.4,1778.7 1594.5,1753.0 1595.4,1746.6C1596.3,1740.2 1600.2,1709.5 1601.1,1711.0C1602.0,1712.5 1605.1,1755.7 1605.7,1765.0C1606.3,1774.3 1607.6,1811.8 1608.0,1822.3C1608.4,1832.8 1609.9,1879.5 1610.3,1891.0C1610.7,1902.5 1612.2,1951.8 1612.6,1959.8C1613.0,1967.8 1614.4,1988.3 1614.9,1987.3C1615.4,1986.3 1618.2,1956.3 1618.8,1948.3C1619.4,1940.3 1621.1,1896.5 1621.8,1891.0C1622.5,1885.5 1626.6,1880.9 1627.5,1881.9C1628.4,1882.9 1631.5,1897.9 1632.1,1902.5C1632.7,1907.1 1633.9,1930.0 1634.4,1936.9C1634.9,1943.8 1637.2,1984.0 1637.8,1985.0C1638.4,1986.0 1640.7,1954.2 1641.3,1948.3C1641.9,1942.4 1644.0,1918.7 1644.7,1913.9C1645.4,1909.1 1648.4,1892.0 1649.3,1891.0C1650.2,1890.0 1654.3,1897.7 1655.0,1902.5C1655.7,1907.3 1656.9,1942.6 1657.3,1948.3C1657.7,1954.0 1659.0,1973.1 1659.6,1971.2C1660.2,1969.3 1663.5,1935.9 1664.2,1925.4C1664.9,1914.9 1667.0,1856.7 1667.6,1845.2C1668.2,1833.7 1670.3,1795.3 1671.0,1787.9C1671.7,1780.4 1674.8,1756.8 1675.6,1755.8C1676.4,1754.8 1679.5,1772.0 1680.2,1776.4C1680.9,1780.8 1682.9,1805.6 1683.7,1808.5C1684.5,1811.4 1688.5,1808.1 1689.4,1810.8C1690.3,1813.5 1693.2,1836.8 1694.0,1840.6C1694.8,1844.4 1697.7,1852.4 1698.6,1856.6C1699.5,1860.8 1703.5,1884.3 1704.3,1891.0C1705.1,1897.7 1707.2,1929.1 1707.7,1936.9C1708.2,1944.7 1709.6,1987.9 1710.2,1985.0C1710.8,1982.1 1714.2,1914.2 1714.8,1902.5C1715.4,1890.8 1716.8,1853.8 1717.1,1845.2C1717.4,1836.6 1717.8,1806.4 1718.2,1799.3C1718.6,1792.2 1720.9,1766.3 1721.6,1760.4C1722.3,1754.5 1725.3,1728.9 1726.2,1728.9C1727.1,1728.9 1731.3,1755.5 1732.0,1760.4C1732.7,1765.3 1733.8,1781.8 1734.2,1787.9C1734.6,1794.0 1736.1,1824.1 1736.5,1833.7C1736.9,1843.2 1738.4,1891.0 1738.8,1902.5C1739.2,1914.0 1740.7,1964.1 1741.1,1971.2C1741.5,1978.3 1742.8,1989.2 1743.4,1987.3C1744.0,1985.4 1747.3,1953.1 1748.0,1948.3C1748.7,1943.5 1750.8,1931.9 1751.4,1930.0C1752.0,1928.1 1754.2,1923.9 1754.9,1925.4C1755.6,1926.9 1758.8,1944.5 1759.5,1948.3C1760.2,1952.1 1762.4,1968.1 1762.9,1971.2C1763.4,1974.3 1764.6,1986.0 1765.2,1985.0C1765.8,1984.0 1768.9,1963.6 1769.8,1959.8C1770.7,1956.0 1774.5,1939.2 1775.5,1939.2C1776.5,1939.2 1780.3,1956.0 1781.2,1959.8C1782.1,1963.6 1785.1,1986.0 1785.8,1985.0C1786.5,1984.0 1788.8,1956.1 1789.3,1948.3C1789.8,1940.5 1791.2,1899.6 1791.6,1891.0C1792.0,1882.4 1793.4,1851.9 1793.8,1845.2C1794.2,1838.5 1795.4,1816.3 1796.1,1810.8C1796.8,1805.3 1801.0,1779.7 1801.9,1778.7C1802.8,1777.7 1805.6,1796.6 1806.4,1799.3C1807.2,1802.0 1810.2,1807.9 1811.0,1810.8C1811.8,1813.7 1814.8,1829.9 1815.6,1833.7C1816.4,1837.5 1819.3,1852.0 1820.2,1856.6C1821.1,1861.2 1825.0,1885.8 1825.9,1888.7C1826.8,1891.6 1829.8,1888.9 1830.5,1891.0C1831.2,1893.1 1833.5,1906.4 1834.0,1913.9C1834.5,1921.3 1836.2,1979.4 1836.7,1980.4C1837.2,1981.4 1839.2,1935.7 1839.7,1925.4C1840.2,1915.1 1842.6,1866.1 1843.1,1856.6C1843.6,1847.0 1845.0,1816.9 1845.4,1810.8C1845.8,1804.7 1846.9,1787.3 1847.7,1783.3C1848.5,1779.3 1853.6,1763.3 1854.6,1762.7C1855.6,1762.1 1858.6,1773.3 1859.2,1776.4C1859.8,1779.4 1861.0,1793.6 1861.5,1799.3C1862.0,1805.0 1864.5,1836.6 1864.9,1845.2C1865.3,1853.8 1865.7,1893.0 1866.0,1902.5C1866.3,1912.0 1867.7,1952.9 1868.3,1959.8C1868.9,1966.7 1872.1,1986.0 1872.9,1985.0C1873.7,1984.0 1876.6,1952.3 1877.5,1948.3C1878.4,1944.3 1882.3,1935.9 1883.2,1936.9C1884.1,1937.9 1887.0,1955.8 1887.8,1959.8C1888.6,1963.8 1891.2,1983.9 1892.4,1985.0C1893.6,1986.1 1901.4,1973.5 1902.7,1973.5C1904.0,1973.5 1907.4,1986.1 1908.4,1985.0C1909.4,1983.9 1913.5,1966.7 1914.2,1959.8C1914.9,1952.9 1915.9,1910.1 1916.5,1902.5C1917.1,1894.9 1920.3,1873.8 1921.0,1868.1C1921.7,1862.4 1923.8,1838.3 1924.5,1833.7C1925.2,1829.1 1928.3,1813.9 1929.1,1813.1C1929.9,1812.3 1932.8,1823.3 1933.7,1824.6C1934.6,1825.9 1938.6,1827.4 1939.4,1829.1C1940.2,1830.8 1942.3,1841.9 1942.8,1845.2C1943.3,1848.4 1944.5,1865.0 1945.1,1868.1C1945.7,1871.2 1948.9,1880.6 1949.7,1881.9C1950.5,1883.2 1953.7,1881.4 1954.3,1884.1C1954.9,1886.8 1956.2,1908.5 1956.6,1913.9C1957.0,1919.2 1958.6,1943.1 1958.9,1948.3C1959.2,1953.5 1959.5,1975.8 1960.0,1975.8C1960.5,1975.8 1964.1,1954.4 1964.8,1948.3C1965.5,1942.2 1967.7,1910.1 1968.2,1902.5C1968.7,1894.9 1970.1,1864.2 1970.5,1856.6C1970.9,1849.0 1972.3,1817.1 1972.8,1810.8C1973.3,1804.5 1975.5,1784.7 1976.2,1781.0C1976.9,1777.3 1980.4,1765.3 1981.3,1765.9C1982.2,1766.5 1985.8,1783.2 1986.5,1787.9C1987.2,1792.6 1989.5,1814.7 1990.0,1822.3C1990.5,1829.9 1991.9,1870.0 1992.3,1879.6C1992.7,1889.1 1994.2,1928.9 1994.6,1936.9C1995.0,1944.9 1996.4,1971.6 1996.9,1975.8C1997.4,1980.0 1999.5,1989.6 2000.3,1987.3C2001.1,1985.0 2005.1,1954.0 2006.0,1948.3C2006.9,1942.6 2010.5,1919.8 2011.3,1918.5C2012.1,1917.2 2014.5,1929.4 2015.2,1932.3C2015.9,1935.2 2019.0,1948.3 2019.8,1952.9C2020.6,1957.5 2022.7,1984.4 2024.4,1987.3C2026.1,1990.2 2038.8,1990.5 2040.4,1987.3C2042.0,1984.0 2043.1,1955.4 2043.8,1948.3C2044.5,1941.2 2047.7,1908.8 2048.4,1902.5C2049.1,1896.2 2051.2,1877.5 2051.9,1872.7C2052.6,1867.9 2055.5,1849.2 2056.4,1845.2C2057.3,1841.2 2061.4,1824.6 2062.2,1824.6C2063.0,1824.6 2064.8,1841.6 2065.6,1845.2C2066.4,1848.8 2070.4,1863.7 2071.3,1868.1C2072.2,1872.5 2075.1,1896.0 2075.9,1897.9C2076.7,1899.8 2079.8,1888.7 2080.5,1891.0C2081.2,1893.3 2083.4,1917.4 2084.0,1925.4C2084.6,1933.4 2086.7,1985.4 2087.4,1987.3C2088.1,1989.2 2091.3,1957.3 2092.0,1948.3C2092.7,1939.3 2094.8,1890.1 2095.4,1879.6C2096.0,1869.1 2098.3,1830.9 2098.8,1822.3C2099.3,1813.7 2100.4,1781.6 2101.1,1776.4C2101.8,1771.2 2105.9,1762.3 2106.9,1760.4C2107.9,1758.5 2111.8,1751.2 2112.6,1753.5C2113.4,1755.8 2115.4,1781.2 2116.0,1787.9C2116.6,1794.6 2119.0,1822.2 2119.5,1833.7C2120.0,1845.2 2121.4,1913.9 2121.8,1925.4C2122.2,1936.9 2123.6,1966.2 2124.1,1971.2C2124.6,1976.2 2126.8,1986.9 2127.5,1985.0C2128.2,1983.1 2131.3,1953.3 2132.1,1948.3C2132.9,1943.3 2135.9,1927.7 2136.7,1925.4C2137.5,1923.1 2140.4,1919.8 2141.3,1920.8C2142.2,1921.8 2146.1,1933.6 2147.0,1936.9C2147.9,1940.1 2150.8,1955.6 2151.6,1959.8C2152.4,1964.0 2154.7,1985.0 2156.2,1987.3C2157.7,1989.6 2168.4,1990.5 2169.9,1987.3C2171.4,1984.0 2173.8,1954.4 2174.5,1948.3C2175.2,1942.2 2177.2,1919.6 2177.9,1913.9C2178.6,1908.2 2181.5,1885.1 2182.5,1879.6C2183.5,1874.1 2188.2,1848.6 2189.4,1848.0C2190.6,1847.4 2195.9,1870.1 2197.1,1872.7C2198.3,1875.3 2202.8,1877.1 2203.9,1879.6C2205.0,1882.1 2208.9,1896.8 2209.7,1902.5C2210.5,1908.2 2212.6,1941.4 2213.1,1948.3C2213.6,1955.2 2214.8,1985.0 2215.4,1985.0C2216.0,1985.0 2219.3,1956.1 2220.0,1948.3C2220.7,1940.5 2222.9,1900.5 2223.4,1891.0C2223.9,1881.5 2225.3,1843.2 2225.7,1833.7C2226.1,1824.1 2227.5,1782.9 2228.0,1776.4C2228.5,1769.9 2230.8,1758.7 2231.4,1755.8C2232.0,1752.9 2234.8,1740.8 2235.6,1741.6C2236.4,1742.4 2240.0,1760.2 2240.6,1765.0C2241.2,1769.8 2242.5,1791.7 2242.9,1799.3C2243.3,1806.9 2244.8,1847.0 2245.2,1856.6C2245.6,1866.1 2247.0,1904.3 2247.5,1913.9C2248.0,1923.4 2250.3,1966.8 2250.9,1971.2C2251.5,1975.6 2253.8,1972.3 2254.4,1966.6C2255.0,1960.9 2257.3,1911.7 2257.8,1902.5C2258.3,1893.3 2259.3,1862.7 2260.1,1856.6C2260.9,1850.5 2265.9,1829.8 2267.0,1829.8C2268.1,1829.8 2271.9,1851.5 2272.7,1856.6C2273.5,1861.7 2275.5,1885.3 2276.1,1891.0C2276.7,1896.7 2278.9,1919.7 2279.5,1925.4C2280.1,1931.1 2282.4,1955.0 2283.0,1959.8C2283.6,1964.6 2286.0,1980.2 2286.5,1982.7C2287.0,1985.2 2288.5,1989.0 2288.7,1989.6" fill="none" stroke="#ff2a2a" stroke-width="3.5" stroke-linejoin="round"/>
<path d="M213.0,1768.0C213.3,1769.1 215.8,1778.7 216.5,1781.7C217.2,1784.8 220.1,1801.5 221.0,1804.6C221.9,1807.7 226.0,1815.5 226.8,1818.4C227.6,1821.3 229.4,1835.6 230.2,1839.0C231.0,1842.4 235.0,1856.3 235.9,1859.6C236.8,1862.8 239.8,1876.3 240.5,1878.0C241.2,1879.7 243.5,1878.8 244.0,1880.3C244.5,1881.8 245.9,1892.7 246.3,1896.3C246.7,1899.9 248.1,1916.3 248.5,1923.8C248.9,1931.2 250.3,1986.7 250.8,1985.7C251.3,1984.7 253.7,1924.1 254.3,1912.3C254.9,1900.5 257.2,1853.1 257.7,1843.6C258.2,1834.0 259.5,1803.8 260.0,1797.7C260.5,1791.6 262.9,1773.6 263.4,1770.2C263.9,1766.8 265.8,1756.7 266.4,1756.5C267.0,1756.3 269.8,1765.4 270.3,1767.9C270.8,1770.4 272.3,1781.9 272.6,1786.3C272.9,1790.7 273.5,1815.0 273.8,1820.7C274.1,1826.4 275.7,1848.3 276.1,1855.0C276.5,1861.7 277.9,1893.3 278.3,1900.9C278.7,1908.5 280.1,1940.0 280.6,1946.7C281.1,1953.4 283.3,1977.7 284.1,1981.1C284.9,1984.5 288.9,1988.2 289.8,1988.0C290.8,1987.8 294.5,1979.0 295.5,1978.8C296.5,1978.6 300.4,1986.9 301.3,1985.7C302.2,1984.5 304.8,1968.2 305.8,1965.0C306.9,1961.8 312.8,1947.3 313.9,1946.7C315.0,1946.1 318.7,1955.5 319.6,1958.2C320.5,1960.9 323.5,1977.8 324.2,1978.8C324.9,1979.8 327.1,1975.1 327.6,1969.6C328.1,1964.1 329.5,1920.9 329.9,1912.3C330.3,1903.7 331.8,1873.2 332.2,1866.5C332.6,1859.8 334.1,1837.8 334.5,1832.1C334.9,1826.4 336.1,1801.7 336.8,1797.7C337.5,1793.7 341.7,1783.0 342.5,1784.0C343.3,1785.0 345.1,1807.1 346.0,1809.2C346.9,1811.3 351.9,1807.3 352.8,1809.2C353.7,1811.1 355.6,1827.3 356.3,1832.1C357.0,1836.9 360.0,1860.8 360.9,1866.5C361.8,1872.2 365.7,1899.2 366.6,1900.9C367.6,1902.6 371.5,1886.1 372.3,1887.1C373.1,1888.0 375.3,1904.1 375.8,1912.3C376.3,1920.5 377.5,1985.7 378.0,1985.7C378.5,1985.7 381.0,1923.2 381.5,1912.3C382.0,1901.4 383.4,1863.6 383.8,1855.0C384.2,1846.4 385.7,1815.9 386.1,1809.2C386.5,1802.5 387.7,1779.2 388.4,1774.8C389.1,1770.4 393.2,1757.5 394.1,1756.5C395.1,1755.5 398.9,1760.0 399.8,1763.4C400.7,1766.8 403.8,1791.0 404.4,1797.7C405.0,1804.4 406.3,1831.2 406.7,1843.6C407.1,1856.0 408.4,1935.0 409.0,1946.7C409.6,1958.4 412.7,1982.4 413.6,1983.4C414.5,1984.4 418.4,1962.8 419.3,1958.2C420.2,1953.6 424.0,1928.6 425.0,1928.4C426.0,1928.2 429.9,1951.3 430.8,1955.9C431.7,1960.5 434.5,1982.6 435.3,1983.4C436.1,1984.2 439.1,1967.3 439.9,1965.0C440.7,1962.7 443.6,1955.5 444.5,1955.9C445.4,1956.3 449.4,1967.1 450.2,1969.6C451.0,1972.1 453.0,1991.4 453.7,1985.7C454.4,1980.0 457.5,1912.2 458.4,1900.9C459.3,1889.6 463.2,1857.6 464.2,1850.5C465.2,1843.4 469.0,1818.4 469.9,1816.1C470.8,1813.8 473.7,1823.0 474.5,1823.0C475.3,1823.0 478.3,1815.0 479.1,1816.1C479.9,1817.2 482.8,1832.5 483.6,1836.7C484.4,1840.9 487.2,1862.7 488.2,1866.5C489.2,1870.3 494.1,1879.2 495.1,1882.5C496.2,1885.8 500.0,1900.2 500.8,1905.5C501.6,1910.8 503.9,1940.0 504.3,1946.7C504.7,1953.4 505.4,1991.4 505.9,1985.7C506.4,1980.0 509.4,1892.7 510.0,1878.0C510.6,1863.3 512.9,1819.7 513.4,1809.2C513.9,1798.7 515.1,1759.2 515.7,1751.9C516.3,1744.6 519.5,1725.2 520.3,1722.1C521.1,1719.0 524.2,1714.0 524.9,1715.2C525.6,1716.4 527.7,1729.0 528.3,1735.9C528.9,1742.8 531.3,1787.8 531.8,1797.7C532.3,1807.6 533.8,1845.5 534.1,1855.0C534.4,1864.5 534.9,1902.4 535.2,1912.3C535.5,1922.2 537.0,1968.3 537.5,1974.2C538.0,1980.1 540.3,1987.6 541.0,1983.4C541.7,1979.2 544.5,1932.8 545.5,1923.8C546.5,1914.8 551.4,1877.6 552.4,1875.7C553.4,1873.8 556.2,1895.4 557.0,1900.9C557.8,1906.4 560.8,1936.0 561.6,1942.1C562.4,1948.2 565.3,1973.8 566.2,1974.2C567.1,1974.6 570.9,1950.3 571.9,1946.7C572.9,1943.1 576.7,1930.3 577.6,1930.7C578.5,1931.1 581.4,1946.9 582.2,1951.3C583.0,1955.7 586.0,1985.7 586.8,1983.4C587.6,1981.1 590.7,1934.5 591.4,1923.8C592.1,1913.1 594.0,1862.6 594.8,1855.0C595.6,1847.4 599.5,1835.3 600.5,1832.1C601.5,1828.9 606.4,1814.8 607.4,1816.1C608.4,1817.4 612.1,1843.0 613.1,1848.2C614.1,1853.4 619.1,1873.6 620.0,1878.0C620.9,1882.4 622.8,1900.1 623.5,1900.9C624.2,1901.7 627.3,1885.2 628.0,1887.1C628.7,1889.0 631.0,1916.5 631.5,1923.8C632.0,1931.1 633.4,1974.2 633.8,1974.2C634.2,1974.2 635.7,1933.7 636.1,1923.8C636.5,1913.9 638.0,1866.5 638.4,1855.0C638.8,1843.5 640.2,1796.8 640.7,1786.3C641.2,1775.8 643.4,1736.8 644.1,1729.0C644.8,1721.2 648.5,1693.3 649.4,1692.3C650.3,1691.3 653.8,1710.6 654.4,1717.5C655.0,1724.4 656.3,1765.2 656.7,1774.8C657.1,1784.3 658.5,1820.6 659.0,1832.1C659.5,1843.6 661.9,1899.5 662.4,1912.3C662.9,1925.1 664.2,1983.8 664.7,1985.7C665.2,1987.6 667.6,1948.1 668.2,1935.3C668.8,1922.5 671.0,1843.4 671.6,1832.1C672.2,1820.8 674.3,1804.0 675.0,1800.0C675.7,1796.0 678.8,1783.2 679.6,1784.0C680.4,1784.8 683.4,1802.3 684.2,1809.2C685.0,1816.1 688.1,1857.0 688.8,1866.5C689.5,1876.0 691.6,1914.8 692.2,1923.8C692.8,1932.8 694.9,1974.2 695.7,1974.2C696.5,1974.2 700.4,1929.3 701.4,1923.8C702.4,1918.3 706.2,1907.8 707.1,1907.8C708.0,1907.8 711.3,1919.6 711.9,1923.8C712.5,1928.0 713.6,1953.8 714.2,1958.2C714.8,1962.6 718.1,1979.4 718.8,1976.5C719.5,1973.6 721.6,1933.9 722.2,1923.8C722.8,1913.7 725.0,1864.0 725.6,1855.0C726.2,1846.0 729.0,1818.2 729.8,1816.1C730.6,1814.0 733.9,1828.5 734.8,1829.8C735.7,1831.1 739.6,1830.4 740.5,1832.1C741.4,1833.8 744.2,1846.7 745.1,1850.5C746.0,1854.3 750.0,1871.9 750.8,1878.0C751.6,1884.1 753.7,1917.7 754.3,1923.8C754.9,1929.9 757.1,1952.3 757.7,1951.3C758.3,1950.3 760.6,1920.3 761.2,1912.3C761.8,1904.3 764.1,1865.5 764.6,1855.0C765.1,1844.5 766.5,1795.8 766.9,1786.3C767.3,1776.8 768.7,1748.0 769.2,1740.4C769.7,1732.8 772.0,1700.7 772.6,1694.6C773.2,1688.5 775.8,1666.7 776.5,1667.1C777.2,1667.5 780.1,1694.0 780.6,1699.2C781.1,1704.4 782.6,1719.8 782.9,1729.0C783.2,1738.2 783.9,1793.9 784.1,1809.2C784.3,1824.5 784.8,1899.9 785.2,1912.3C785.6,1924.7 788.1,1952.3 788.7,1958.2C789.3,1964.1 791.5,1990.1 792.1,1983.4C792.7,1976.7 795.0,1893.5 795.5,1878.0C796.0,1862.5 797.2,1807.7 797.8,1797.7C798.4,1787.7 801.6,1759.9 802.4,1757.6C803.2,1755.3 806.3,1766.9 807.0,1770.2C807.7,1773.5 809.8,1791.6 810.4,1797.7C811.0,1803.8 813.3,1836.0 813.9,1843.6C814.5,1851.2 816.6,1877.6 817.3,1889.4C818.0,1901.2 821.1,1982.8 821.9,1985.7C822.7,1988.6 825.8,1933.7 826.5,1923.8C827.2,1913.9 829.1,1872.5 829.9,1866.5C830.7,1860.5 834.8,1851.6 835.6,1851.6C836.4,1851.6 838.5,1862.4 839.1,1866.5C839.7,1870.6 841.8,1891.0 842.5,1900.9C843.2,1910.8 846.3,1985.7 847.1,1985.7C847.9,1985.7 850.9,1914.5 851.7,1900.9C852.5,1887.3 855.4,1830.3 856.3,1823.0C857.2,1815.7 861.0,1815.3 862.0,1813.8C863.0,1812.3 866.8,1803.1 867.7,1804.6C868.6,1806.1 871.3,1827.5 872.3,1832.1C873.3,1836.7 878.4,1852.4 879.2,1860.0C880.0,1867.6 881.2,1913.3 881.5,1923.8C881.8,1934.3 882.8,1987.6 883.3,1985.7C883.8,1983.8 886.6,1913.7 887.2,1900.9C887.8,1888.1 890.2,1845.5 890.7,1832.1C891.2,1818.7 892.4,1752.8 892.9,1740.4C893.4,1728.0 895.9,1688.4 896.4,1683.1C896.9,1677.8 898.7,1675.0 899.4,1676.3C900.1,1677.6 903.8,1691.9 904.4,1699.2C905.0,1706.5 906.3,1750.4 906.7,1763.4C907.1,1776.4 908.5,1841.6 909.0,1855.0C909.5,1868.4 912.0,1912.9 912.4,1923.8C912.8,1934.7 913.5,1987.6 914.0,1985.7C914.5,1983.8 917.6,1915.6 918.2,1900.9C918.8,1886.2 921.0,1822.2 921.6,1809.2C922.2,1796.2 924.4,1750.7 925.0,1745.0C925.6,1739.3 927.9,1740.0 928.5,1740.4C929.1,1740.8 931.4,1745.8 931.9,1749.6C932.4,1753.4 933.6,1780.4 934.2,1786.3C934.8,1792.2 938.0,1817.1 938.8,1820.7C939.6,1824.3 942.7,1823.1 943.4,1829.8C944.1,1836.5 946.3,1888.9 946.8,1900.9C947.3,1912.9 948.6,1972.3 949.1,1974.2C949.6,1976.1 951.8,1936.6 952.5,1923.8C953.2,1911.0 956.1,1831.0 957.1,1820.7C958.1,1810.4 963.3,1801.0 964.2,1800.0C965.1,1799.0 967.1,1803.7 967.6,1809.2C968.1,1814.7 969.5,1857.0 969.9,1866.5C970.3,1876.0 971.8,1915.2 972.2,1923.8C972.6,1932.4 974.0,1967.7 974.5,1969.6C975.0,1971.5 977.3,1953.4 977.9,1946.7C978.5,1940.0 980.8,1899.9 981.4,1889.4C982.0,1878.9 984.0,1828.9 984.8,1820.7C985.6,1812.5 990.2,1791.7 991.2,1790.9C992.2,1790.1 995.5,1810.0 996.3,1811.5C997.1,1813.0 1000.1,1806.5 1000.8,1809.2C1001.5,1811.9 1003.7,1836.0 1004.3,1843.6C1004.9,1851.2 1007.2,1894.2 1007.7,1900.9C1008.2,1907.6 1009.7,1917.3 1010.0,1923.8C1010.3,1930.3 1011.4,1982.6 1011.8,1978.8C1012.2,1975.0 1014.1,1893.1 1014.6,1878.0C1015.1,1862.9 1016.8,1811.1 1017.3,1797.7C1017.8,1784.3 1019.8,1727.6 1020.3,1717.5C1020.8,1707.4 1023.3,1680.5 1023.8,1676.3C1024.3,1672.1 1026.0,1665.6 1026.5,1667.1C1027.0,1668.6 1029.1,1688.5 1029.5,1694.6C1029.9,1700.7 1031.4,1728.9 1031.8,1740.4C1032.2,1751.9 1033.7,1816.8 1034.1,1832.1C1034.5,1847.4 1036.0,1913.3 1036.4,1923.8C1036.8,1934.3 1038.1,1963.9 1038.7,1958.2C1039.3,1952.5 1042.5,1871.2 1043.2,1855.0C1043.9,1838.8 1046.0,1774.5 1046.7,1763.4C1047.4,1752.3 1050.9,1723.1 1051.7,1722.1C1052.5,1721.1 1055.2,1746.6 1055.8,1751.9C1056.4,1757.2 1058.8,1781.1 1059.3,1786.3C1059.8,1791.5 1061.0,1811.7 1061.6,1813.8C1062.2,1815.9 1065.5,1810.9 1066.2,1811.5C1066.9,1812.1 1069.0,1817.1 1069.6,1820.7C1070.2,1824.3 1072.5,1847.4 1073.0,1855.0C1073.5,1862.6 1074.9,1901.6 1075.3,1912.3C1075.7,1923.0 1077.1,1984.4 1077.6,1983.4C1078.1,1982.5 1080.5,1917.3 1081.1,1900.9C1081.7,1884.5 1083.8,1799.1 1084.5,1786.3C1085.2,1773.5 1088.4,1751.1 1089.1,1747.3C1089.8,1743.5 1091.9,1737.5 1092.5,1740.4C1093.1,1743.3 1095.5,1775.0 1096.0,1781.7C1096.5,1788.4 1097.8,1810.8 1098.2,1820.7C1098.6,1830.6 1100.0,1887.3 1100.5,1900.9C1101.0,1914.5 1103.3,1982.5 1104.0,1983.4C1104.7,1984.4 1107.8,1926.8 1108.6,1912.3C1109.4,1897.8 1112.3,1820.3 1113.1,1809.2C1113.9,1798.1 1117.3,1780.4 1118.2,1779.4C1119.1,1778.4 1122.7,1792.4 1123.5,1797.7C1124.3,1803.0 1127.2,1835.0 1128.0,1843.6C1128.8,1852.2 1131.8,1891.4 1132.6,1900.9C1133.4,1910.5 1136.4,1961.1 1137.2,1958.2C1138.0,1955.3 1141.1,1879.9 1141.8,1866.5C1142.5,1853.1 1144.6,1806.9 1145.2,1797.7C1145.8,1788.5 1148.1,1757.5 1148.7,1756.5C1149.3,1755.5 1151.5,1776.2 1152.1,1786.3C1152.7,1796.4 1155.1,1865.6 1155.6,1878.0C1156.1,1890.4 1157.2,1927.7 1157.8,1935.3C1158.4,1942.9 1161.7,1974.4 1162.4,1969.6C1163.1,1964.8 1165.3,1895.2 1165.9,1878.0C1166.5,1860.8 1168.6,1778.7 1169.3,1763.4C1170.0,1748.1 1173.1,1698.8 1173.9,1694.6C1174.7,1690.4 1177.8,1710.0 1178.5,1712.9C1179.2,1715.8 1181.4,1724.8 1181.9,1729.0C1182.4,1733.2 1183.6,1757.7 1184.2,1763.4C1184.8,1769.1 1187.9,1794.3 1188.8,1797.7C1189.7,1801.1 1193.6,1802.7 1194.5,1804.6C1195.4,1806.5 1198.4,1812.7 1199.1,1820.7C1199.8,1828.7 1202.0,1888.1 1202.5,1900.9C1203.0,1913.7 1204.3,1975.7 1204.8,1974.2C1205.3,1972.7 1207.7,1899.1 1208.4,1882.5C1209.1,1865.9 1212.3,1786.3 1213.0,1774.8C1213.7,1763.3 1215.9,1748.1 1216.5,1745.0C1217.1,1741.9 1219.3,1736.6 1219.9,1738.1C1220.5,1739.6 1222.8,1755.6 1223.3,1763.4C1223.8,1771.2 1225.2,1821.6 1225.6,1832.1C1226.0,1842.6 1227.5,1878.9 1227.9,1889.4C1228.3,1899.9 1229.9,1950.2 1230.2,1958.2C1230.5,1966.2 1231.6,1989.5 1232.0,1985.7C1232.4,1981.9 1234.3,1925.1 1234.8,1912.3C1235.3,1899.5 1237.6,1842.0 1238.2,1832.1C1238.8,1822.2 1241.1,1798.9 1241.7,1793.2C1242.3,1787.5 1245.0,1764.0 1245.8,1763.4C1246.6,1762.8 1250.1,1779.6 1250.8,1786.3C1251.5,1793.0 1253.7,1833.1 1254.3,1843.6C1254.9,1854.1 1257.2,1900.5 1257.7,1912.3C1258.2,1924.1 1260.1,1987.6 1260.7,1985.7C1261.3,1983.8 1264.0,1902.2 1264.6,1889.4C1265.2,1876.6 1267.4,1841.1 1268.0,1832.1C1268.6,1823.1 1271.0,1787.4 1271.5,1781.7C1272.0,1776.0 1273.5,1766.8 1273.8,1763.4C1274.1,1760.0 1275.2,1740.4 1275.6,1740.4C1276.0,1740.4 1277.9,1757.7 1278.3,1763.4C1278.7,1769.1 1280.2,1799.7 1280.6,1809.2C1281.0,1818.8 1282.5,1867.5 1282.9,1878.0C1283.3,1888.5 1284.9,1926.5 1285.2,1935.3C1285.5,1944.1 1286.0,1988.2 1286.4,1983.4C1286.8,1978.6 1289.2,1892.5 1289.8,1878.0C1290.4,1863.5 1292.6,1822.2 1293.2,1809.2C1293.8,1796.2 1296.0,1730.3 1296.7,1722.1C1297.4,1713.9 1300.6,1709.4 1301.3,1710.6C1302.0,1711.8 1304.1,1730.6 1304.7,1735.9C1305.3,1741.2 1307.5,1768.5 1308.1,1774.8C1308.7,1781.1 1310.9,1808.8 1311.6,1811.5C1312.3,1814.2 1315.5,1806.1 1316.2,1806.9C1316.9,1807.7 1319.0,1817.6 1319.6,1820.7C1320.2,1823.8 1322.3,1840.2 1323.0,1843.6C1323.7,1847.0 1327.0,1856.2 1327.6,1861.9C1328.2,1867.6 1329.4,1902.2 1329.9,1912.3C1330.4,1922.4 1332.8,1990.1 1333.4,1983.4C1334.0,1976.7 1336.3,1850.4 1336.8,1832.1C1337.3,1813.8 1338.6,1773.9 1339.1,1763.4C1339.6,1752.9 1341.9,1711.8 1342.5,1706.1C1343.1,1700.4 1345.4,1693.6 1346.0,1694.6C1346.6,1695.5 1348.9,1709.9 1349.4,1717.5C1349.9,1725.1 1351.2,1772.9 1351.7,1786.3C1352.2,1799.7 1354.6,1862.7 1355.1,1878.0C1355.6,1893.3 1357.1,1960.8 1357.4,1969.6C1357.7,1978.4 1358.1,1985.3 1358.6,1983.4C1359.1,1981.5 1362.5,1955.5 1363.1,1946.7C1363.7,1937.9 1364.9,1886.6 1365.4,1878.0C1365.9,1869.4 1368.3,1849.3 1368.9,1843.6C1369.5,1837.9 1372.3,1810.2 1373.0,1809.2C1373.7,1808.2 1376.4,1826.4 1376.9,1832.1C1377.4,1837.8 1378.7,1869.4 1379.2,1878.0C1379.7,1886.6 1382.1,1928.6 1382.6,1935.3C1383.1,1942.0 1384.4,1959.2 1384.9,1958.2C1385.4,1957.2 1387.8,1932.4 1388.4,1923.8C1389.0,1915.2 1391.2,1864.5 1391.8,1855.0C1392.4,1845.5 1394.6,1815.3 1395.2,1809.2C1395.8,1803.1 1398.7,1783.2 1399.4,1781.7C1400.1,1780.2 1402.8,1785.7 1403.3,1790.9C1403.8,1796.1 1405.2,1833.5 1405.6,1843.6C1406.0,1853.7 1407.5,1902.2 1407.8,1912.3C1408.1,1922.4 1409.2,1963.1 1409.7,1965.0C1410.2,1966.9 1413.1,1946.4 1413.6,1935.3C1414.1,1924.2 1415.4,1846.4 1415.9,1832.1C1416.4,1817.8 1418.8,1772.6 1419.3,1763.4C1419.8,1754.2 1421.2,1727.4 1421.6,1722.1C1422.0,1716.8 1423.4,1699.2 1423.9,1699.2C1424.4,1699.2 1426.6,1717.7 1427.3,1722.1C1428.0,1726.5 1431.2,1746.6 1431.9,1751.9C1432.6,1757.2 1434.7,1781.9 1435.3,1786.3C1435.9,1790.7 1438.0,1802.7 1438.8,1804.6C1439.6,1806.5 1443.6,1809.2 1444.5,1809.2C1445.4,1809.2 1448.3,1803.6 1449.1,1804.6C1449.9,1805.6 1453.1,1816.5 1453.7,1820.7C1454.3,1824.9 1455.5,1841.6 1456.0,1855.0C1456.5,1868.4 1459.0,1978.2 1459.6,1981.1C1460.2,1984.0 1462.5,1902.2 1463.0,1889.4C1463.5,1876.6 1464.9,1836.5 1465.3,1827.5C1465.7,1818.5 1467.2,1788.0 1467.6,1781.7C1468.0,1775.4 1469.9,1754.0 1470.6,1751.9C1471.3,1749.8 1475.0,1750.8 1475.6,1756.5C1476.2,1762.2 1477.5,1809.6 1477.9,1820.7C1478.3,1831.8 1479.8,1878.9 1480.2,1889.4C1480.6,1899.9 1482.1,1938.9 1482.5,1946.7C1482.9,1954.5 1484.3,1981.5 1484.8,1983.4C1485.3,1985.3 1487.6,1975.5 1488.2,1969.6C1488.8,1963.7 1491.1,1922.8 1491.7,1912.3C1492.3,1901.8 1494.4,1850.5 1495.1,1843.6C1495.8,1836.7 1499.6,1827.9 1500.4,1829.8C1501.2,1831.7 1503.7,1859.6 1504.3,1866.5C1504.9,1873.4 1507.1,1902.6 1507.7,1912.3C1508.3,1922.0 1510.6,1980.5 1511.2,1983.4C1511.8,1986.3 1514.4,1957.0 1515.0,1946.7C1515.6,1936.4 1517.8,1867.8 1518.7,1859.6C1519.6,1851.4 1525.2,1846.7 1526.1,1848.2C1527.0,1849.7 1528.9,1871.7 1529.5,1878.0C1530.1,1884.3 1532.4,1914.8 1532.9,1923.8C1533.4,1932.8 1535.1,1989.5 1535.7,1985.7C1536.3,1981.9 1539.3,1892.7 1539.8,1878.0C1540.3,1863.3 1541.6,1819.1 1542.1,1809.2C1542.6,1799.3 1544.8,1765.3 1545.5,1758.8C1546.2,1752.3 1549.3,1730.9 1550.1,1731.3C1550.9,1731.7 1554.0,1757.9 1554.7,1763.4C1555.4,1768.9 1557.5,1793.3 1558.1,1797.7C1558.7,1802.1 1560.8,1814.4 1561.6,1816.1C1562.4,1817.8 1566.4,1815.2 1567.3,1818.4C1568.2,1821.6 1571.0,1850.6 1571.9,1855.0C1572.8,1859.4 1576.9,1866.3 1577.6,1871.1C1578.3,1875.9 1579.6,1904.1 1579.9,1912.3C1580.2,1920.5 1581.1,1968.6 1581.5,1969.6C1581.9,1970.6 1584.0,1933.3 1584.5,1923.8C1585.0,1914.2 1587.4,1866.5 1587.9,1855.0C1588.4,1843.5 1589.6,1795.5 1590.2,1786.3C1590.8,1777.1 1593.9,1749.8 1594.8,1745.0C1595.7,1740.2 1599.6,1727.5 1600.5,1729.0C1601.4,1730.5 1604.5,1755.8 1605.1,1763.4C1605.7,1771.0 1607.0,1810.2 1607.4,1820.7C1607.8,1831.2 1609.3,1877.9 1609.7,1889.4C1610.1,1900.9 1611.6,1950.2 1612.0,1958.2C1612.4,1966.2 1613.8,1986.7 1614.3,1985.7C1614.8,1984.7 1617.6,1954.7 1618.2,1946.7C1618.8,1938.7 1620.5,1894.9 1621.2,1889.4C1621.9,1883.9 1626.0,1879.3 1626.9,1880.3C1627.8,1881.3 1630.9,1896.3 1631.5,1900.9C1632.1,1905.5 1633.3,1928.4 1633.8,1935.3C1634.3,1942.2 1636.6,1982.5 1637.2,1983.4C1637.8,1984.4 1640.1,1952.6 1640.7,1946.7C1641.3,1940.8 1643.4,1917.1 1644.1,1912.3C1644.8,1907.5 1647.8,1890.4 1648.7,1889.4C1649.6,1888.5 1653.7,1896.1 1654.4,1900.9C1655.1,1905.7 1656.3,1941.0 1656.7,1946.7C1657.1,1952.4 1658.4,1971.5 1659.0,1969.6C1659.6,1967.7 1662.9,1934.3 1663.6,1923.8C1664.3,1913.3 1666.4,1855.1 1667.0,1843.6C1667.6,1832.1 1669.7,1793.8 1670.4,1786.3C1671.1,1778.8 1674.2,1755.2 1675.0,1754.2C1675.8,1753.2 1678.9,1770.4 1679.6,1774.8C1680.3,1779.2 1682.3,1804.0 1683.1,1806.9C1683.9,1809.8 1687.9,1806.5 1688.8,1809.2C1689.7,1811.9 1692.6,1835.2 1693.4,1839.0C1694.2,1842.8 1697.1,1850.8 1698.0,1855.0C1698.9,1859.2 1702.9,1882.7 1703.7,1889.4C1704.5,1896.1 1706.6,1927.5 1707.1,1935.3C1707.6,1943.1 1709.0,1986.3 1709.6,1983.4C1710.2,1980.5 1713.6,1912.6 1714.2,1900.9C1714.8,1889.2 1716.2,1852.2 1716.5,1843.6C1716.8,1835.0 1717.2,1804.8 1717.6,1797.7C1718.0,1790.6 1720.3,1763.6 1721.0,1758.8C1721.7,1754.0 1724.7,1740.4 1725.6,1740.4C1726.5,1740.4 1730.7,1755.0 1731.4,1758.8C1732.1,1762.6 1733.2,1780.2 1733.6,1786.3C1734.0,1792.4 1735.5,1822.5 1735.9,1832.1C1736.3,1841.6 1737.8,1889.4 1738.2,1900.9C1738.6,1912.4 1740.1,1962.5 1740.5,1969.6C1740.9,1976.7 1742.2,1987.6 1742.8,1985.7C1743.4,1983.8 1746.7,1951.5 1747.4,1946.7C1748.1,1941.9 1750.2,1930.3 1750.8,1928.4C1751.4,1926.5 1753.6,1922.3 1754.3,1923.8C1755.0,1925.3 1758.2,1942.9 1758.9,1946.7C1759.6,1950.5 1761.8,1966.5 1762.3,1969.6C1762.8,1972.7 1764.0,1984.4 1764.6,1983.4C1765.2,1982.5 1768.3,1962.0 1769.2,1958.2C1770.1,1954.4 1774.0,1937.6 1774.9,1937.6C1775.9,1937.6 1779.7,1954.4 1780.6,1958.2C1781.5,1962.0 1784.5,1984.4 1785.2,1983.4C1785.9,1982.4 1788.2,1954.5 1788.7,1946.7C1789.2,1938.9 1790.6,1898.0 1791.0,1889.4C1791.4,1880.8 1792.8,1850.3 1793.2,1843.6C1793.6,1836.9 1794.8,1814.7 1795.5,1809.2C1796.2,1803.7 1800.4,1778.1 1801.3,1777.1C1802.2,1776.1 1805.0,1795.0 1805.8,1797.7C1806.6,1800.4 1809.6,1806.3 1810.4,1809.2C1811.2,1812.1 1814.2,1828.3 1815.0,1832.1C1815.8,1835.9 1818.7,1850.4 1819.6,1855.0C1820.5,1859.6 1824.4,1884.2 1825.3,1887.1C1826.2,1890.0 1829.2,1887.3 1829.9,1889.4C1830.6,1891.5 1832.9,1904.8 1833.4,1912.3C1833.9,1919.8 1835.6,1977.8 1836.1,1978.8C1836.6,1979.8 1838.6,1934.1 1839.1,1923.8C1839.6,1913.5 1842.0,1864.5 1842.5,1855.0C1843.0,1845.5 1844.4,1815.3 1844.8,1809.2C1845.2,1803.1 1846.3,1785.7 1847.1,1781.7C1847.9,1777.7 1853.0,1761.7 1854.0,1761.1C1855.0,1760.5 1858.0,1771.8 1858.6,1774.8C1859.2,1777.8 1860.4,1792.0 1860.9,1797.7C1861.4,1803.4 1863.9,1835.0 1864.3,1843.6C1864.7,1852.2 1865.1,1891.4 1865.4,1900.9C1865.7,1910.5 1867.1,1951.3 1867.7,1958.2C1868.3,1965.1 1871.5,1984.4 1872.3,1983.4C1873.1,1982.4 1876.0,1950.7 1876.9,1946.7C1877.8,1942.7 1881.7,1934.3 1882.6,1935.3C1883.5,1936.3 1886.4,1954.2 1887.2,1958.2C1888.0,1962.2 1890.6,1982.3 1891.8,1983.4C1893.0,1984.5 1900.8,1971.9 1902.1,1971.9C1903.4,1971.9 1906.8,1984.5 1907.8,1983.4C1908.8,1982.3 1912.9,1965.1 1913.6,1958.2C1914.3,1951.3 1915.3,1908.5 1915.9,1900.9C1916.5,1893.3 1919.7,1872.2 1920.4,1866.5C1921.1,1860.8 1923.2,1836.7 1923.9,1832.1C1924.6,1827.5 1927.7,1812.3 1928.5,1811.5C1929.3,1810.7 1932.2,1821.7 1933.1,1823.0C1934.0,1824.3 1938.0,1825.8 1938.8,1827.5C1939.6,1829.2 1941.7,1840.3 1942.2,1843.6C1942.7,1846.8 1943.9,1863.4 1944.5,1866.5C1945.1,1869.6 1948.3,1879.0 1949.1,1880.3C1949.9,1881.6 1953.1,1879.8 1953.7,1882.5C1954.3,1885.2 1955.6,1907.0 1956.0,1912.3C1956.4,1917.6 1958.0,1941.5 1958.3,1946.7C1958.6,1951.9 1958.9,1974.2 1959.4,1974.2C1959.9,1974.2 1963.5,1952.8 1964.2,1946.7C1964.9,1940.6 1967.1,1908.5 1967.6,1900.9C1968.1,1893.3 1969.5,1862.6 1969.9,1855.0C1970.3,1847.4 1971.7,1815.5 1972.2,1809.2C1972.7,1802.9 1974.9,1782.8 1975.6,1779.4C1976.3,1776.0 1979.8,1767.3 1980.7,1767.9C1981.6,1768.5 1985.2,1781.9 1985.9,1786.3C1986.6,1790.7 1988.9,1813.1 1989.4,1820.7C1989.9,1828.3 1991.3,1868.5 1991.7,1878.0C1992.1,1887.5 1993.6,1927.3 1994.0,1935.3C1994.4,1943.3 1995.8,1970.0 1996.3,1974.2C1996.8,1978.4 1998.9,1988.0 1999.7,1985.7C2000.5,1983.4 2004.5,1952.4 2005.4,1946.7C2006.3,1941.0 2009.9,1918.2 2010.7,1916.9C2011.5,1915.6 2013.9,1927.8 2014.6,1930.7C2015.3,1933.6 2018.4,1946.7 2019.2,1951.3C2020.0,1955.9 2022.1,1982.8 2023.8,1985.7C2025.5,1988.6 2038.2,1989.0 2039.8,1985.7C2041.4,1982.5 2042.5,1953.8 2043.2,1946.7C2043.9,1939.6 2047.1,1907.2 2047.8,1900.9C2048.5,1894.6 2050.6,1875.9 2051.3,1871.1C2052.0,1866.3 2054.9,1847.6 2055.8,1843.6C2056.7,1839.6 2060.8,1823.0 2061.6,1823.0C2062.4,1823.0 2064.2,1840.0 2065.0,1843.6C2065.8,1847.2 2069.8,1862.1 2070.7,1866.5C2071.6,1870.9 2074.5,1894.4 2075.3,1896.3C2076.1,1898.2 2079.2,1887.1 2079.9,1889.4C2080.6,1891.7 2082.8,1915.8 2083.4,1923.8C2084.0,1931.8 2086.1,1983.8 2086.8,1985.7C2087.5,1987.6 2090.7,1955.7 2091.4,1946.7C2092.1,1937.7 2094.2,1888.5 2094.8,1878.0C2095.4,1867.5 2097.7,1829.3 2098.2,1820.7C2098.7,1812.1 2099.8,1780.0 2100.5,1774.8C2101.2,1769.6 2105.3,1760.7 2106.3,1758.8C2107.3,1756.9 2111.2,1749.6 2112.0,1751.9C2112.8,1754.2 2114.8,1779.6 2115.4,1786.3C2116.0,1793.0 2118.4,1820.6 2118.9,1832.1C2119.4,1843.6 2120.8,1912.3 2121.2,1923.8C2121.6,1935.3 2123.0,1964.6 2123.5,1969.6C2124.0,1974.6 2126.2,1985.3 2126.9,1983.4C2127.6,1981.5 2130.7,1951.7 2131.5,1946.7C2132.3,1941.7 2135.3,1926.1 2136.1,1923.8C2136.9,1921.5 2139.8,1918.2 2140.7,1919.2C2141.6,1920.2 2145.5,1932.0 2146.4,1935.3C2147.3,1938.5 2150.2,1954.0 2151.0,1958.2C2151.8,1962.4 2154.1,1983.4 2155.6,1985.7C2157.1,1988.0 2167.8,1989.0 2169.3,1985.7C2170.8,1982.5 2173.2,1952.8 2173.9,1946.7C2174.6,1940.6 2176.6,1918.0 2177.3,1912.3C2178.0,1906.6 2180.9,1882.8 2181.9,1878.0C2182.9,1873.2 2187.6,1855.6 2188.8,1855.0C2190.0,1854.4 2195.3,1869.2 2196.5,1871.1C2197.7,1873.0 2202.2,1875.5 2203.3,1878.0C2204.4,1880.5 2208.3,1895.2 2209.1,1900.9C2209.9,1906.6 2212.0,1939.8 2212.5,1946.7C2213.0,1953.6 2214.2,1983.4 2214.8,1983.4C2215.4,1983.4 2218.7,1954.5 2219.4,1946.7C2220.1,1938.9 2222.3,1899.0 2222.8,1889.4C2223.3,1879.9 2224.7,1841.6 2225.1,1832.1C2225.5,1822.5 2226.9,1781.3 2227.4,1774.8C2227.9,1768.3 2230.2,1756.6 2230.8,1754.2C2231.4,1751.8 2234.2,1745.4 2235.0,1746.2C2235.8,1747.0 2239.4,1759.1 2240.0,1763.4C2240.6,1767.7 2241.9,1790.1 2242.3,1797.7C2242.7,1805.3 2244.2,1845.5 2244.6,1855.0C2245.0,1864.5 2246.4,1902.8 2246.9,1912.3C2247.4,1921.8 2249.7,1965.2 2250.3,1969.6C2250.9,1974.0 2253.2,1970.7 2253.8,1965.0C2254.4,1959.3 2256.7,1910.1 2257.2,1900.9C2257.7,1891.7 2258.7,1860.5 2259.5,1855.0C2260.3,1849.5 2265.3,1834.4 2266.4,1834.4C2267.5,1834.4 2271.3,1850.4 2272.1,1855.0C2272.9,1859.6 2274.9,1883.7 2275.5,1889.4C2276.1,1895.1 2278.3,1918.1 2278.9,1923.8C2279.5,1929.5 2281.8,1953.4 2282.4,1958.2C2283.0,1963.0 2285.4,1978.6 2285.9,1981.1C2286.4,1983.6 2287.9,1987.4 2288.1,1988.0" fill="none" stroke="#4444ff" stroke-width="3.5" stroke-linejoin="round"/>
<path d="M209.5,1944.3h12M2291,1944.3h-12M209.5,1890.1h12M2291,1890.1h-12M209.5,1836h12M2291,1836h-12M209.5,1781.8h12M2291,1781.8h-12M209.5,1727.7h22M2291,1727.7h-22M209.5,1673.6h12M2291,1673.6h-12M209.5,1619.4h12M2291,1619.4h-12M209.5,1565.3h12M2291,1565.3h-12M209.5,1511.1h12M2291,1511.1h-12M258.5,1998.4v-10M258.5,1457v10M307.5,1998.4v-10M307.5,1457v10M356.4,1998.4v-10M356.4,1457v10M405.4,1998.4v-10M405.4,1457v10M454.4,1998.4v-21M454.4,1457v21M503.4,1998.4v-10M503.4,1457v10M552.3,1998.4v-10M552.3,1457v10M601.3,1998.4v-10M601.3,1457v10M650.3,1998.4v-10M650.3,1457v10M699.3,1998.4v-21M699.3,1457v21M748.2,1998.4v-10M748.2,1457v10M797.2,1998.4v-10M797.2,1457v10M846.2,1998.4v-10M846.2,1457v10M895.2,1998.4v-10M895.2,1457v10M944.1,1998.4v-21M944.1,1457v21M993.1,1998.4v-10M993.1,1457v10M1042.1,1998.4v-10M1042.1,1457v10M1091.1,1998.4v-10M1091.1,1457v10M1140.1,1998.4v-10M1140.1,1457v10M1189,1998.4v-21M1189,1457v21M1238,1998.4v-10M1238,1457v10M1287,1998.4v-10M1287,1457v10M1336,1998.4v-10M1336,1457v10M1384.9,1998.4v-10M1384.9,1457v10M1433.9,1998.4v-21M1433.9,1457v21M1482.9,1998.4v-10M1482.9,1457v10M1531.9,1998.4v-10M1531.9,1457v10M1580.8,1998.4v-10M1580.8,1457v10M1629.8,1998.4v-10M1629.8,1457v10M1678.8,1998.4v-21M1678.8,1457v21M1727.8,1998.4v-10M1727.8,1457v10M1776.7,1998.4v-10M1776.7,1457v10M1825.7,1998.4v-10M1825.7,1457v10M1874.7,1998.4v-10M1874.7,1457v10M1923.7,1998.4v-21M1923.7,1457v21M1972.7,1998.4v-10M1972.7,1457v10M2021.6,1998.4v-10M2021.6,1457v10M2070.6,1998.4v-10M2070.6,1457v10M2119.6,1998.4v-10M2119.6,1457v10M2168.6,1998.4v-21M2168.6,1457v21M2217.5,1998.4v-10M2217.5,1457v10M2266.5,1998.4v-10M2266.5,1457v10" stroke="#000" stroke-width="3.6" fill="none"/>
<line x1="209.5" y1="1931" x2="2291" y2="1931" stroke="#ff00ff" stroke-width="6.2"/>
<line x1="209.5" y1="1991.8" x2="2291" y2="1991.8" stroke="#00ff00" stroke-width="8.6"/>
<rect x="209.5" y="1457" width="2081.5" height="541.4" rx="6" fill="none" stroke="#111" stroke-width="4.6"/>
<text transform="matrix(0.8000 0 0 1 162.05 2024.21)" font-family='"Liberation Sans", Arial, sans-serif' font-size="73.00" fill="#000">0</text>
<text transform="matrix(0.8000 0 0 1 162.28 1753.15)" font-family='"Liberation Sans", Arial, sans-serif' font-size="73.00" fill="#000">5</text>
<text transform="matrix(0.8000 0 0 1 129.58 1482.81)" font-family='"Liberation Sans", Arial, sans-serif' font-size="73.00" fill="#000">10</text>
<text transform="matrix(0.8320 0 0 1 137.22 2080.42)" font-family='"Liberation Sans", Arial, sans-serif' font-size="70.20" fill="#000">10/10</text>
<text transform="matrix(0.8320 0 0 1 382.46 2080.42)" font-family='"Liberation Sans", Arial, sans-serif' font-size="70.20" fill="#000">10/12</text>
<text transform="matrix(0.8320 0 0 1 626.75 2080.42)" font-family='"Liberation Sans", Arial, sans-serif' font-size="70.20" fill="#000">10/14</text>
<text transform="matrix(0.8320 0 0 1 872.05 2080.42)" font-family='"Liberation Sans", Arial, sans-serif' font-size="70.20" fill="#000">10/16</text>
<text transform="matrix(0.8320 0 0 1 1116.93 2080.42)" font-family='"Liberation Sans", Arial, sans-serif' font-size="70.20" fill="#000">10/18</text>
<text transform="matrix(0.8320 0 0 1 1361.64 2080.42)" font-family='"Liberation Sans", Arial, sans-serif' font-size="70.20" fill="#000">10/20</text>
<text transform="matrix(0.8320 0 0 1 1606.87 2080.42)" font-family='"Liberation Sans", Arial, sans-serif' font-size="70.20" fill="#000">10/22</text>
<text transform="matrix(0.8320 0 0 1 1851.17 2080.42)" font-family='"Liberation Sans", Arial, sans-serif' font-size="70.20" fill="#000">10/24</text>
<text transform="matrix(0.8320 0 0 1 2096.46 2080.42)" font-family='"Liberation Sans", Arial, sans-serif' font-size="70.20" fill="#000">10/26</text>
<text transform="matrix(0 -0.8419 1 0 88.07 1922.82)" font-family='"Liberation Sans", Arial, sans-serif' font-size="69.85" fill="#000" >Bed shear [Pa]</text>
<text transform="matrix(0.9453 0 0 1 244.80 1569.44)" font-family='"Liberation Sans", Arial, sans-serif' font-size="105.79" fill="#000" >P10</text>
<text transform="matrix(0.8050 0 0 1 1093.29 2162.07)" font-family='"Liberation Sans", Arial, sans-serif' font-size="73.71" fill="#000" >Time [2005]</text>
</g>
</svg>
</body></html>
